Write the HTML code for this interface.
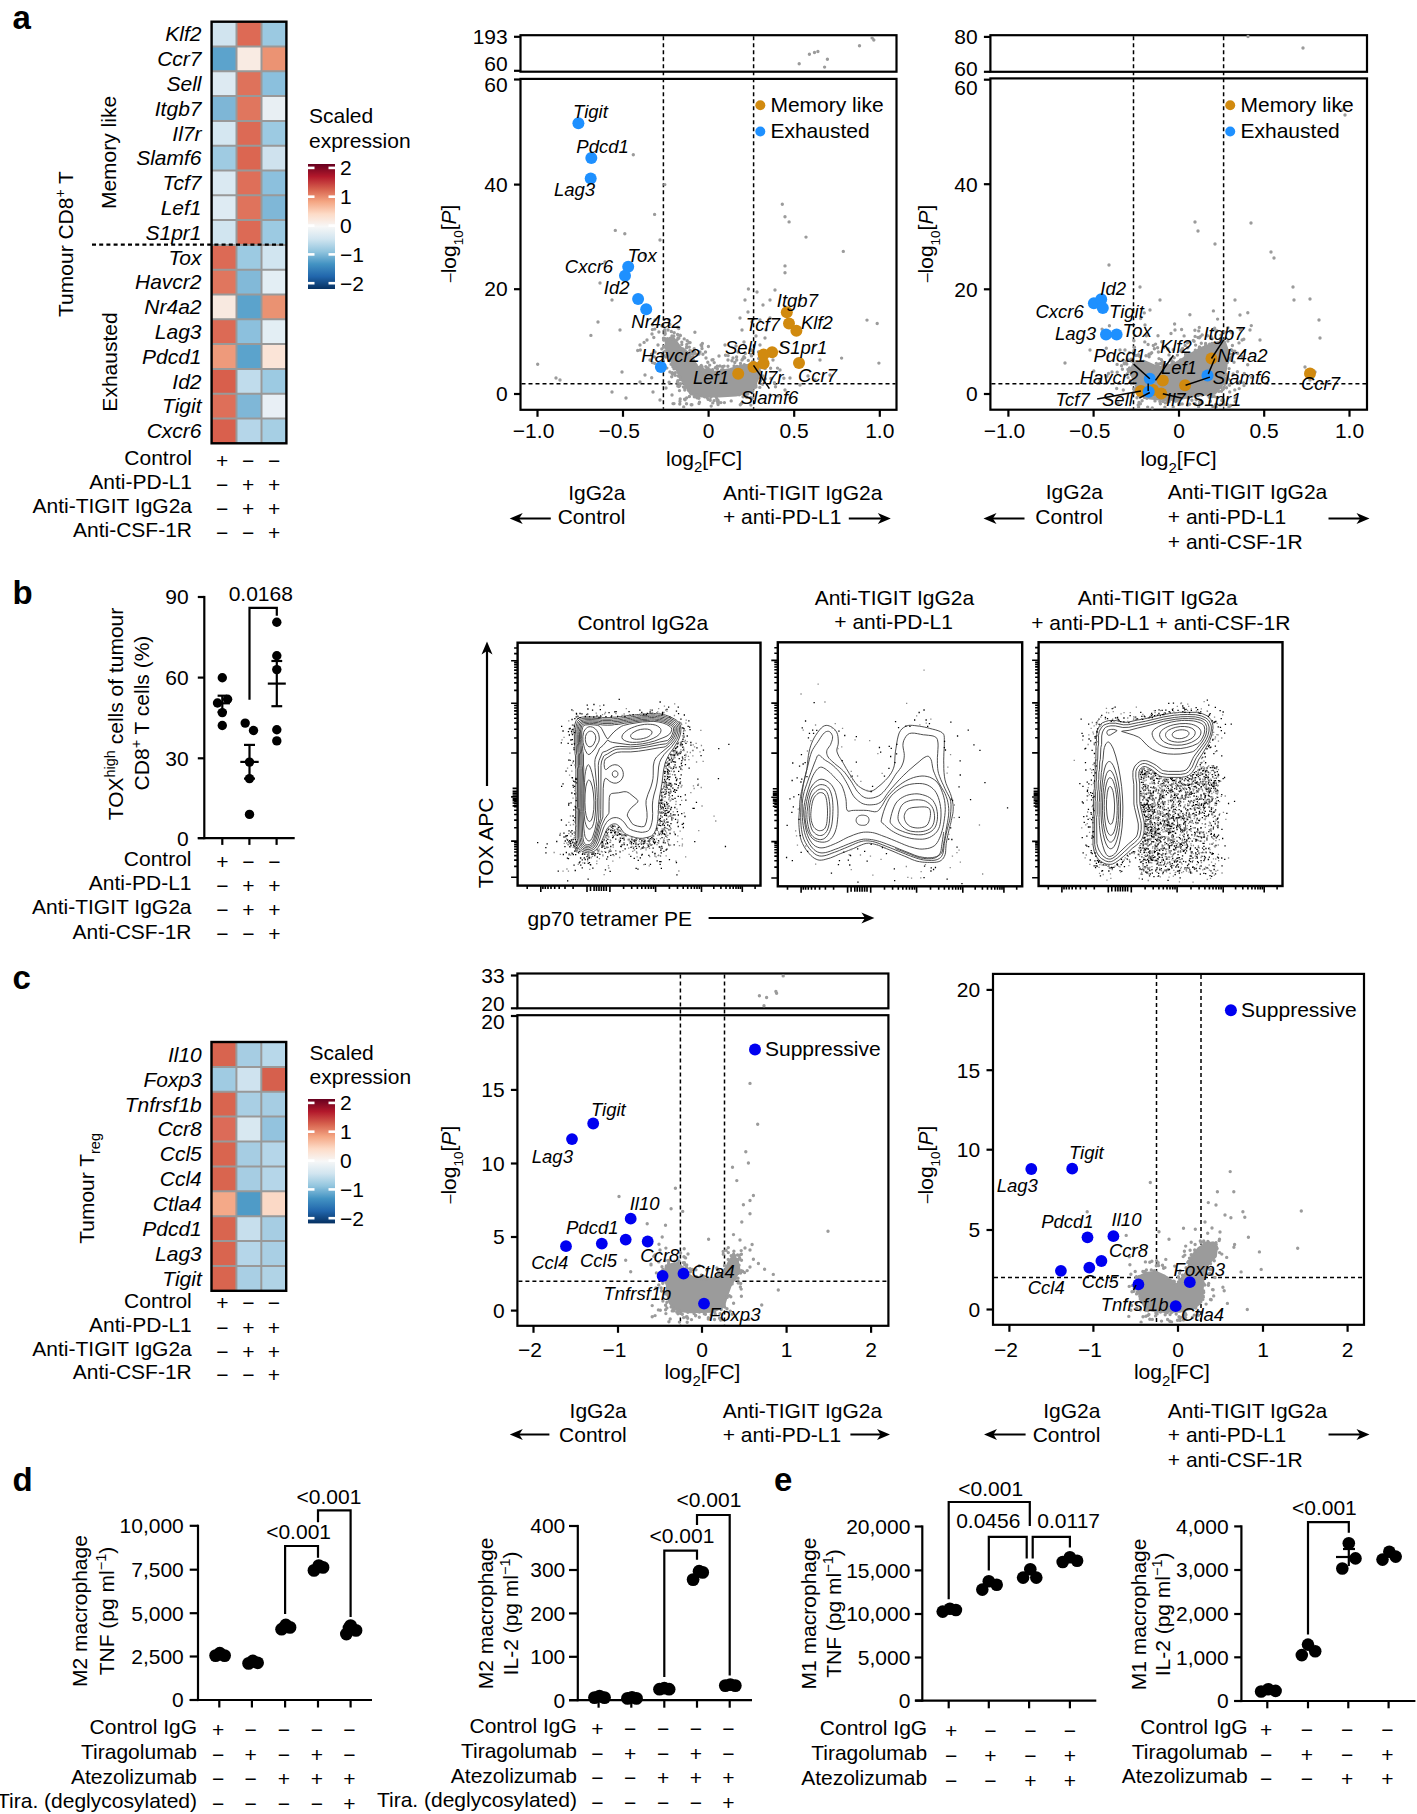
<!DOCTYPE html>
<html><head><meta charset="utf-8"><style>
html,body{margin:0;padding:0;background:#fff;}
svg{display:block;}
svg{font-family:"Liberation Sans", sans-serif;font-size:21px;}
</style></head><body>
<svg width="1417" height="1814" viewBox="0 0 1417 1814">
<rect width="1417" height="1814" fill="#fff"/>
<text x="12.5" y="28.5" font-size="33" font-weight="bold">a</text>
<text x="12.5" y="604.0" font-size="33" font-weight="bold">b</text>
<text x="12.5" y="989.0" font-size="33" font-weight="bold">c</text>
<text x="12.5" y="1491.0" font-size="33" font-weight="bold">d</text>
<text x="774.0" y="1491.0" font-size="33" font-weight="bold">e</text>
<rect x="211.6" y="21.7" width="24.9" height="24.8" fill="#d1e4ef"/>
<rect x="236.5" y="21.7" width="24.9" height="24.8" fill="#dd6a55"/>
<rect x="261.5" y="21.7" width="24.9" height="24.8" fill="#9bc9e1"/>
<text x="201.5" y="41.4" text-anchor="end" font-style="italic">Klf2</text>
<rect x="211.6" y="46.5" width="24.9" height="24.8" fill="#5ca3cc"/>
<rect x="236.5" y="46.5" width="24.9" height="24.8" fill="#f9ebe3"/>
<rect x="261.5" y="46.5" width="24.9" height="24.8" fill="#eb9373"/>
<text x="201.5" y="66.2" text-anchor="end" font-style="italic">Ccr7</text>
<rect x="211.6" y="71.3" width="24.9" height="24.8" fill="#ddeaf2"/>
<rect x="236.5" y="71.3" width="24.9" height="24.8" fill="#de725b"/>
<rect x="261.5" y="71.3" width="24.9" height="24.8" fill="#8bc0dd"/>
<text x="201.5" y="91.0" text-anchor="end" font-style="italic">Sell</text>
<rect x="211.6" y="96.1" width="24.9" height="24.8" fill="#7eb6d6"/>
<rect x="236.5" y="96.1" width="24.9" height="24.8" fill="#e0765e"/>
<rect x="261.5" y="96.1" width="24.9" height="24.8" fill="#e8eff3"/>
<text x="201.5" y="115.8" text-anchor="end" font-style="italic">Itgb7</text>
<rect x="211.6" y="120.9" width="24.9" height="24.8" fill="#d5e7f1"/>
<rect x="236.5" y="120.9" width="24.9" height="24.8" fill="#dc6a55"/>
<rect x="261.5" y="120.9" width="24.9" height="24.8" fill="#9ccae2"/>
<text x="201.5" y="140.6" text-anchor="end" font-style="italic">Il7r</text>
<rect x="211.6" y="145.7" width="24.9" height="24.8" fill="#9fcbe2"/>
<rect x="236.5" y="145.7" width="24.9" height="24.8" fill="#db6651"/>
<rect x="261.5" y="145.7" width="24.9" height="24.8" fill="#cfe2ee"/>
<text x="201.5" y="165.4" text-anchor="end" font-style="italic">Slamf6</text>
<rect x="211.6" y="170.5" width="24.9" height="24.8" fill="#dae9f2"/>
<rect x="236.5" y="170.5" width="24.9" height="24.8" fill="#de6f59"/>
<rect x="261.5" y="170.5" width="24.9" height="24.8" fill="#8cc0dd"/>
<text x="201.5" y="190.2" text-anchor="end" font-style="italic">Tcf7</text>
<rect x="211.6" y="195.3" width="24.9" height="24.8" fill="#deebf3"/>
<rect x="236.5" y="195.3" width="24.9" height="24.8" fill="#df735c"/>
<rect x="261.5" y="195.3" width="24.9" height="24.8" fill="#7fb7d7"/>
<text x="201.5" y="215.0" text-anchor="end" font-style="italic">Lef1</text>
<rect x="211.6" y="220.1" width="24.9" height="24.8" fill="#d1e5f0"/>
<rect x="236.5" y="220.1" width="24.9" height="24.8" fill="#dc6a55"/>
<rect x="261.5" y="220.1" width="24.9" height="24.8" fill="#9ccae2"/>
<text x="201.5" y="239.8" text-anchor="end" font-style="italic">S1pr1</text>
<rect x="211.6" y="244.9" width="24.9" height="24.8" fill="#dc6a55"/>
<rect x="236.5" y="244.9" width="24.9" height="24.8" fill="#9ccae2"/>
<rect x="261.5" y="244.9" width="24.9" height="24.8" fill="#d1e5f0"/>
<text x="201.5" y="264.6" text-anchor="end" font-style="italic">Tox</text>
<rect x="211.6" y="269.7" width="24.9" height="24.8" fill="#e0765e"/>
<rect x="236.5" y="269.7" width="24.9" height="24.8" fill="#82b9d8"/>
<rect x="261.5" y="269.7" width="24.9" height="24.8" fill="#e3eef4"/>
<text x="201.5" y="289.4" text-anchor="end" font-style="italic">Havcr2</text>
<rect x="211.6" y="294.5" width="24.9" height="24.8" fill="#f8e9e0"/>
<rect x="236.5" y="294.5" width="24.9" height="24.8" fill="#5ba3cc"/>
<rect x="261.5" y="294.5" width="24.9" height="24.8" fill="#ea9272"/>
<text x="201.5" y="314.2" text-anchor="end" font-style="italic">Nr4a2</text>
<rect x="211.6" y="319.3" width="24.9" height="24.8" fill="#dc6a55"/>
<rect x="236.5" y="319.3" width="24.9" height="24.8" fill="#8cc0dd"/>
<rect x="261.5" y="319.3" width="24.9" height="24.8" fill="#e3eef4"/>
<text x="201.5" y="339.0" text-anchor="end" font-style="italic">Lag3</text>
<rect x="211.6" y="344.1" width="24.9" height="24.8" fill="#ee9a7b"/>
<rect x="236.5" y="344.1" width="24.9" height="24.8" fill="#5ba3cc"/>
<rect x="261.5" y="344.1" width="24.9" height="24.8" fill="#fbe4d7"/>
<text x="201.5" y="363.8" text-anchor="end" font-style="italic">Pdcd1</text>
<rect x="211.6" y="368.9" width="24.9" height="24.8" fill="#d85f4c"/>
<rect x="236.5" y="368.9" width="24.9" height="24.8" fill="#c0dcec"/>
<rect x="261.5" y="368.9" width="24.9" height="24.8" fill="#9ccae2"/>
<text x="201.5" y="388.6" text-anchor="end" font-style="italic">Id2</text>
<rect x="211.6" y="393.7" width="24.9" height="24.8" fill="#de6f59"/>
<rect x="236.5" y="393.7" width="24.9" height="24.8" fill="#7fb7d7"/>
<rect x="261.5" y="393.7" width="24.9" height="24.8" fill="#e8eff5"/>
<text x="201.5" y="413.4" text-anchor="end" font-style="italic">Tigit</text>
<rect x="211.6" y="418.5" width="24.9" height="24.8" fill="#d9604d"/>
<rect x="236.5" y="418.5" width="24.9" height="24.8" fill="#b5d6e9"/>
<rect x="261.5" y="418.5" width="24.9" height="24.8" fill="#a6cfe4"/>
<text x="201.5" y="438.2" text-anchor="end" font-style="italic">Cxcr6</text>
<line x1="236.5" y1="21.7" x2="236.5" y2="443.3" stroke="#999999" stroke-width="2.0"/>
<line x1="261.5" y1="21.7" x2="261.5" y2="443.3" stroke="#999999" stroke-width="2.0"/>
<line x1="211.6" y1="46.5" x2="286.4" y2="46.5" stroke="#999999" stroke-width="2.0"/>
<line x1="211.6" y1="71.3" x2="286.4" y2="71.3" stroke="#999999" stroke-width="2.0"/>
<line x1="211.6" y1="96.1" x2="286.4" y2="96.1" stroke="#999999" stroke-width="2.0"/>
<line x1="211.6" y1="120.9" x2="286.4" y2="120.9" stroke="#999999" stroke-width="2.0"/>
<line x1="211.6" y1="145.7" x2="286.4" y2="145.7" stroke="#999999" stroke-width="2.0"/>
<line x1="211.6" y1="170.5" x2="286.4" y2="170.5" stroke="#999999" stroke-width="2.0"/>
<line x1="211.6" y1="195.3" x2="286.4" y2="195.3" stroke="#999999" stroke-width="2.0"/>
<line x1="211.6" y1="220.1" x2="286.4" y2="220.1" stroke="#999999" stroke-width="2.0"/>
<line x1="211.6" y1="244.9" x2="286.4" y2="244.9" stroke="#999999" stroke-width="2.0"/>
<line x1="211.6" y1="269.7" x2="286.4" y2="269.7" stroke="#999999" stroke-width="2.0"/>
<line x1="211.6" y1="294.5" x2="286.4" y2="294.5" stroke="#999999" stroke-width="2.0"/>
<line x1="211.6" y1="319.3" x2="286.4" y2="319.3" stroke="#999999" stroke-width="2.0"/>
<line x1="211.6" y1="344.1" x2="286.4" y2="344.1" stroke="#999999" stroke-width="2.0"/>
<line x1="211.6" y1="368.9" x2="286.4" y2="368.9" stroke="#999999" stroke-width="2.0"/>
<line x1="211.6" y1="393.7" x2="286.4" y2="393.7" stroke="#999999" stroke-width="2.0"/>
<line x1="211.6" y1="418.5" x2="286.4" y2="418.5" stroke="#999999" stroke-width="2.0"/>
<rect x="211.6" y="21.7" width="74.8" height="421.6" fill="none" stroke="#000" stroke-width="2.4"/>
<line x1="92.0" y1="244.6" x2="286.0" y2="244.6" stroke="#000" stroke-width="2.2" stroke-dasharray="4,3.2"/>
<defs><linearGradient id="g0" x1="0" y1="0" x2="0" y2="1"><stop offset="0.00" stop-color="#67001f"/><stop offset="0.10" stop-color="#b2182b"/><stop offset="0.20" stop-color="#d6604d"/><stop offset="0.30" stop-color="#f4a582"/><stop offset="0.40" stop-color="#fddbc7"/><stop offset="0.50" stop-color="#f7f7f7"/><stop offset="0.60" stop-color="#d1e5f0"/><stop offset="0.70" stop-color="#92c5de"/><stop offset="0.80" stop-color="#4393c3"/><stop offset="0.90" stop-color="#2166ac"/><stop offset="1.00" stop-color="#053061"/></linearGradient></defs>
<rect x="308" y="164" width="27" height="125" fill="url(#g0)"/>
<line x1="308.0" y1="167.9" x2="314.5" y2="167.9" stroke="#fff" stroke-width="2.6"/>
<line x1="328.5" y1="167.9" x2="335.0" y2="167.9" stroke="#fff" stroke-width="2.6"/>
<text x="340.0" y="175.3">2</text>
<line x1="308.0" y1="196.7" x2="314.5" y2="196.7" stroke="#fff" stroke-width="2.6"/>
<line x1="328.5" y1="196.7" x2="335.0" y2="196.7" stroke="#fff" stroke-width="2.6"/>
<text x="340.0" y="204.1">1</text>
<line x1="308.0" y1="225.6" x2="314.5" y2="225.6" stroke="#fff" stroke-width="2.6"/>
<line x1="328.5" y1="225.6" x2="335.0" y2="225.6" stroke="#fff" stroke-width="2.6"/>
<text x="340.0" y="233.0">0</text>
<line x1="308.0" y1="254.4" x2="314.5" y2="254.4" stroke="#fff" stroke-width="2.6"/>
<line x1="328.5" y1="254.4" x2="335.0" y2="254.4" stroke="#fff" stroke-width="2.6"/>
<text x="340.0" y="261.8">−1</text>
<line x1="308.0" y1="283.2" x2="314.5" y2="283.2" stroke="#fff" stroke-width="2.6"/>
<line x1="328.5" y1="283.2" x2="335.0" y2="283.2" stroke="#fff" stroke-width="2.6"/>
<text x="340.0" y="290.6">−2</text>
<text x="309.0" y="122.7">Scaled</text>
<text x="309.0" y="147.6">expression</text>
<text x="115.7" y="152.5" text-anchor="middle" transform="rotate(-90 115.7 152.5)">Memory like</text>
<text x="116.6" y="362.0" text-anchor="middle" transform="rotate(-90 116.6 362.0)">Exhausted</text>
<text x="73.0" y="244.0" text-anchor="middle" transform="rotate(-90 73.0 244.0)">Tumour CD8<tspan dy="-8" font-size="14">+</tspan><tspan dy="8"> T</tspan></text>
<text x="192.0" y="464.8" text-anchor="end">Control</text>
<text x="222.2" y="467.6" text-anchor="middle">+</text>
<text x="248.1" y="467.6" text-anchor="middle">−</text>
<text x="274.2" y="467.6" text-anchor="middle">−</text>
<text x="192.0" y="488.8" text-anchor="end">Anti-PD-L1</text>
<text x="222.2" y="491.6" text-anchor="middle">−</text>
<text x="248.1" y="491.6" text-anchor="middle">+</text>
<text x="274.2" y="491.6" text-anchor="middle">+</text>
<text x="192.0" y="512.8" text-anchor="end">Anti-TIGIT IgG2a</text>
<text x="222.2" y="515.6" text-anchor="middle">−</text>
<text x="248.1" y="515.6" text-anchor="middle">+</text>
<text x="274.2" y="515.6" text-anchor="middle">+</text>
<text x="192.0" y="536.8" text-anchor="end">Anti-CSF-1R</text>
<text x="222.2" y="539.6" text-anchor="middle">−</text>
<text x="248.1" y="539.6" text-anchor="middle">−</text>
<text x="274.2" y="539.6" text-anchor="middle">+</text>
<rect x="520.5" y="78.9" width="376.0" height="330.9" fill="none" stroke="#000" stroke-width="2.2"/>
<rect x="520.5" y="35.2" width="376.0" height="36.5" fill="none" stroke="#000" stroke-width="2.2"/>
<line x1="514.0" y1="79.5" x2="520.5" y2="79.5" stroke="#000" stroke-width="2.2"/>
<text x="507.7" y="92.0" text-anchor="end">60</text>
<line x1="514.0" y1="184.6" x2="520.5" y2="184.6" stroke="#000" stroke-width="2.2"/>
<text x="507.7" y="191.5" text-anchor="end">40</text>
<line x1="514.0" y1="289.2" x2="520.5" y2="289.2" stroke="#000" stroke-width="2.2"/>
<text x="507.7" y="296.4" text-anchor="end">20</text>
<line x1="514.0" y1="394.0" x2="520.5" y2="394.0" stroke="#000" stroke-width="2.2"/>
<text x="507.7" y="401.2" text-anchor="end">0</text>
<line x1="514.0" y1="36.8" x2="520.5" y2="36.8" stroke="#000" stroke-width="2.2"/>
<text x="507.7" y="43.7" text-anchor="end">193</text>
<line x1="514.0" y1="70.8" x2="520.5" y2="70.8" stroke="#000" stroke-width="2.2"/>
<text x="507.7" y="71.4" text-anchor="end">60</text>
<line x1="537.5" y1="409.8" x2="537.5" y2="416.8" stroke="#000" stroke-width="2.2"/>
<text x="533.6" y="438.0" text-anchor="middle">−1.0</text>
<line x1="623.0" y1="409.8" x2="623.0" y2="416.8" stroke="#000" stroke-width="2.2"/>
<text x="619.2" y="438.0" text-anchor="middle">−0.5</text>
<line x1="708.6" y1="409.8" x2="708.6" y2="416.8" stroke="#000" stroke-width="2.2"/>
<text x="708.6" y="438.0" text-anchor="middle">0</text>
<line x1="794.2" y1="409.8" x2="794.2" y2="416.8" stroke="#000" stroke-width="2.2"/>
<text x="794.2" y="438.0" text-anchor="middle">0.5</text>
<line x1="879.8" y1="409.8" x2="879.8" y2="416.8" stroke="#000" stroke-width="2.2"/>
<text x="879.8" y="438.0" text-anchor="middle">1.0</text>
<line x1="663.4" y1="36.2" x2="663.4" y2="408.8" stroke="#000" stroke-width="1.5" stroke-dasharray="4,3"/>
<line x1="753.6" y1="36.2" x2="753.6" y2="408.8" stroke="#000" stroke-width="1.5" stroke-dasharray="4,3"/>
<line x1="521.5" y1="383.8" x2="895.5" y2="383.8" stroke="#000" stroke-width="1.5" stroke-dasharray="4,3"/>
<text x="455.9" y="243.4" text-anchor="middle" transform="rotate(-90 455.9 243.4)"><tspan font-size="16" dy="-0.8">–</tspan><tspan dy="0.8">log</tspan><tspan dy="7" font-size="13.5">10</tspan><tspan dy="-7">[<tspan font-style="italic">P</tspan>]</tspan></text>
<text x="704.0" y="465.8" text-anchor="middle">log<tspan dy="6.5" font-size="15">2</tspan><tspan dy="-6.5">[FC]</tspan></text>
<path d="M666.0,341.0 L673.9,338.7 L680.7,347.8 L687.4,352.3 L693.1,359.0 L696.5,365.8 L699.8,370.3 L707.8,372.6 L719.0,371.5 L730.3,369.2 L741.6,365.8 L752.9,364.7 L758.6,368.1 L758.6,377.1 L752.9,388.4 L747.3,392.9 L736.0,395.2 L719.0,396.3 L702.1,396.3 L690.8,394.0 L687.4,388.4 L682.9,381.6 L679.5,376.0 L676.1,368.1 L671.6,361.3 L668.2,354.5 L666.0,347.8 Z" fill="#9b9b9b" stroke="#9b9b9b" stroke-width="2.5" stroke-linejoin="round"/>
<path d="M672.3,372.7h0M679.8,404.0h0M684.0,350.0h0M745.3,353.4h0M651.7,377.8h0M724.4,402.6h0M699.0,396.6h0M664.4,340.1h0M685.1,399.7h0M734.8,362.5h0M737.0,366.5h0M745.3,395.7h0M751.5,355.9h0M662.1,356.2h0M783.9,378.3h0M707.3,397.9h0M664.7,329.6h0M709.9,399.7h0M706.7,370.6h0M673.0,403.6h0M702.0,348.5h0M678.7,328.5h0M719.9,366.0h0M706.8,372.0h0M761.7,379.1h0M640.3,350.0h0M736.7,360.0h0M666.8,354.8h0M697.2,354.5h0M669.6,360.7h0M731.9,360.7h0M708.9,372.1h0M662.3,355.1h0M666.8,368.1h0M675.3,372.7h0M701.1,345.0h0M681.8,344.6h0M717.0,399.1h0M677.6,334.5h0M686.8,344.4h0M750.9,405.1h0M674.2,332.7h0M683.5,386.9h0M710.2,400.3h0M678.8,386.6h0M703.9,370.1h0M711.6,370.2h0M752.6,398.1h0M770.9,378.4h0M716.3,397.2h0M717.4,401.6h0M680.0,401.3h0M709.0,369.8h0M710.9,397.1h0M715.4,367.8h0M762.9,376.0h0M663.3,360.9h0M652.5,324.8h0M677.8,386.1h0M751.5,349.9h0M684.6,399.3h0M678.0,337.9h0M697.6,396.4h0M694.9,332.3h0M746.6,397.2h0M702.7,368.9h0M758.9,377.4h0M707.8,368.4h0M651.5,354.1h0M713.1,359.6h0M677.4,382.2h0M708.0,368.0h0M747.8,393.9h0M664.9,334.4h0M652.4,329.6h0M669.9,371.9h0M717.2,366.2h0M670.4,338.1h0M637.7,350.5h0M664.6,338.5h0M684.8,388.8h0M722.6,366.7h0M677.0,339.9h0M755.2,387.3h0M673.8,336.3h0M684.2,338.9h0M691.2,404.8h0M694.4,353.9h0M751.4,350.6h0M764.7,359.8h0M669.1,382.2h0M697.0,397.8h0M674.0,403.6h0M740.5,363.5h0M760.3,353.2h0M677.7,327.3h0M669.6,338.7h0M702.9,354.3h0M689.1,342.5h0M696.1,364.9h0M701.3,365.5h0M661.8,348.9h0M736.6,357.0h0M654.8,329.1h0M748.3,360.4h0M679.5,390.6h0M680.7,383.6h0M714.1,400.6h0M774.4,382.8h0M701.7,345.9h0M699.1,354.0h0M653.8,337.5h0M750.8,397.7h0M758.8,364.8h0M721.6,369.9h0M680.1,335.3h0M686.5,403.8h0M708.1,368.9h0M680.3,379.6h0M717.4,368.8h0M708.2,399.4h0M699.3,367.2h0M743.9,356.8h0M652.4,362.6h0M680.4,335.5h0M672.9,366.7h0M758.7,358.5h0M694.3,396.7h0M684.7,388.0h0M752.7,390.7h0M718.1,400.4h0M690.9,351.0h0M717.9,403.6h0M680.1,377.5h0M675.1,375.3h0M696.4,395.2h0M671.2,339.0h0M669.0,320.0h0M658.9,332.0h0M699.5,402.3h0M694.2,348.7h0M694.1,353.3h0M707.8,362.3h0M677.6,382.1h0M671.3,331.5h0M762.6,384.2h0M758.2,367.6h0M760.4,381.1h0M709.7,365.1h0M712.8,402.9h0M667.4,338.8h0M664.9,351.2h0M702.0,366.7h0M700.1,367.5h0M673.9,365.2h0M671.1,364.2h0M678.8,338.2h0M664.3,347.0h0M691.8,353.0h0M709.4,369.8h0M761.5,351.6h0M686.6,347.7h0M759.7,371.3h0M777.5,368.1h0M728.1,355.6h0M725.5,355.2h0M671.8,373.0h0M705.3,369.9h0M700.8,369.7h0M672.3,373.9h0M731.2,400.9h0M758.3,363.4h0M723.0,369.8h0M711.2,406.1h0M693.0,357.2h0M765.2,378.8h0M699.4,367.5h0M681.8,342.1h0M665.0,331.9h0M686.6,397.9h0M670.7,360.2h0M705.5,352.0h0M744.7,357.7h0M654.8,363.4h0M781.9,344.9h0M694.9,352.5h0M675.3,368.5h0M644.1,342.4h0M689.3,347.1h0M705.6,396.4h0M712.6,369.7h0M727.9,366.2h0M752.4,361.6h0M669.8,324.4h0M770.6,368.2h0M667.0,351.9h0M677.9,382.4h0M765.2,368.5h0M665.8,357.1h0M775.5,386.7h0M759.1,370.1h0M751.1,354.5h0M714.2,362.6h0M739.2,394.7h0M704.6,396.7h0M690.7,353.4h0M702.4,343.4h0M758.2,363.3h0M683.7,406.9h0M759.8,387.4h0M708.4,346.5h0M663.5,338.3h0M690.1,342.6h0M742.9,358.8h0M682.9,349.0h0M749.7,364.7h0M758.5,352.0h0M718.2,401.4h0M678.2,376.1h0M724.1,366.1h0M705.8,366.6h0M718.1,404.5h0M741.7,403.3h0M654.4,356.9h0M693.4,354.2h0M740.3,404.8h0M720.9,402.6h0M684.8,390.1h0M754.6,363.3h0M663.5,356.2h0M689.9,350.5h0M756.0,386.9h0M698.9,398.2h0M759.3,382.9h0M687.2,340.7h0M689.4,396.5h0M702.8,371.0h0M691.9,404.7h0M760.0,368.1h0M686.7,346.8h0M665.2,333.7h0M699.0,403.6h0M674.0,368.8h0M679.8,385.8h0M680.2,398.9h0M677.8,380.7h0M744.3,364.7h0M707.1,370.0h0M752.1,392.7h0M670.5,338.8h0M663.9,346.5h0M755.9,385.4h0M743.7,396.4h0M665.2,367.8h0M688.5,390.3h0M672.7,338.1h0M743.1,396.7h0M671.7,376.8h0M751.6,398.5h0M734.1,366.0h0" stroke="#9b9b9b" stroke-width="3.4" stroke-linecap="round" fill="none"/>
<path d="M745.0,300.0h0M748.0,312.0h0M752.0,322.0h0M742.0,330.0h0M756.0,336.0h0M760.0,345.0h0M750.0,350.0h0M744.0,342.0h0M766.0,330.0h0M770.0,318.0h0M738.0,352.0h0M733.0,358.0h0M728.0,360.0h0M742.0,360.0h0M736.0,346.0h0M757.0,292.0h0M763.0,305.0h0M740.0,318.0h0M725.0,345.0h0M719.0,356.0h0M712.0,360.0h0M706.0,358.0h0M700.0,352.0h0M655.0,320.0h0M662.0,326.0h0M668.0,330.0h0M652.0,334.0h0M647.0,340.0h0M658.0,345.0h0M672.0,336.0h0M650.0,360.0h0M645.0,375.0h0M640.0,382.0h0M666.0,388.0h0M672.0,395.0h0M660.0,400.0h0M653.0,392.0h0M773.0,360.0h0M780.0,370.0h0M790.0,378.0h0M785.0,390.0h0M778.0,396.0h0M800.0,385.0h0M808.0,376.0h0" stroke="#9b9b9b" stroke-width="3.4" stroke-linecap="round" fill="none"/>
<path d="M633.3,154.8h0M664.8,184.6h0M654.6,214.4h0M615.3,230.4h0M624.8,233.7h0M537.7,364.2h0M590.9,335.4h0M782.3,204.3h0M785.0,216.8h0M789.1,221.9h0M806.0,237.1h0M843.3,251.4h0M785.0,265.9h0M785.0,272.7h0M867.0,320.1h0M877.2,323.5h0M878.9,363.1h0M841.6,358.1h0M748.4,289.0h0M660.0,240.0h0M645.0,255.0h0M605.0,262.0h0M600.0,283.0h0M612.0,300.0h0M598.0,322.0h0M620.0,330.0h0M640.0,345.0h0M655.0,352.0h0M622.0,372.0h0M626.0,398.0h0M612.0,392.0h0M560.0,380.0h0M556.0,378.0h0M775.0,290.0h0M770.0,300.0h0M800.0,300.0h0M760.0,320.0h0M765.0,338.0h0M815.0,345.0h0M820.0,360.0h0M830.0,375.0h0M815.0,380.0h0M770.0,395.0h0M790.0,398.0h0" stroke="#9b9b9b" stroke-width="3.4" stroke-linecap="round" fill="none"/>
<path d="M799.2,63.7h0M809.4,54.2h0M814.5,52.5h0M817.9,51.5h0M824.6,67.1h0M827.4,59.3h0M859.5,45.7h0M872.1,37.9h0M873.8,40.0h0" stroke="#9b9b9b" stroke-width="3.4" stroke-linecap="round" fill="none"/>
<circle cx="578.4" cy="123.3" r="6.0" fill="#1e90ff"/>
<circle cx="591.3" cy="158.0" r="6.0" fill="#1e90ff"/>
<circle cx="590.7" cy="178.4" r="6.0" fill="#1e90ff"/>
<circle cx="628.2" cy="266.8" r="6.0" fill="#1e90ff"/>
<circle cx="625.0" cy="275.7" r="6.0" fill="#1e90ff"/>
<circle cx="638.1" cy="299.0" r="6.0" fill="#1e90ff"/>
<circle cx="646.2" cy="309.2" r="6.0" fill="#1e90ff"/>
<circle cx="660.9" cy="367.0" r="6.0" fill="#1e90ff"/>
<circle cx="786.8" cy="312.2" r="6.0" fill="#d18a0f"/>
<circle cx="789.0" cy="323.5" r="6.0" fill="#d18a0f"/>
<circle cx="796.4" cy="330.8" r="6.0" fill="#d18a0f"/>
<circle cx="772.1" cy="352.3" r="6.0" fill="#d18a0f"/>
<circle cx="763.6" cy="354.5" r="6.0" fill="#d18a0f"/>
<circle cx="763.6" cy="363.6" r="6.0" fill="#d18a0f"/>
<circle cx="753.5" cy="367.0" r="6.0" fill="#d18a0f"/>
<circle cx="738.2" cy="373.7" r="6.0" fill="#d18a0f"/>
<circle cx="799.0" cy="363.0" r="6.0" fill="#d18a0f"/>
<line x1="753.5" y1="365.3" x2="769.4" y2="388.6" stroke="#000" stroke-width="1.5"/>
<text x="573.0" y="118.2" font-size="18.5" font-style="italic">Tigit</text>
<text x="576.3" y="153.0" font-size="18.5" font-style="italic">Pdcd1</text>
<text x="554.0" y="196.3" font-size="18.5" font-style="italic">Lag3</text>
<text x="564.8" y="272.7" font-size="18.5" font-style="italic">Cxcr6</text>
<text x="627.5" y="262.2" font-size="18.5" font-style="italic">Tox</text>
<text x="603.8" y="294.3" font-size="18.5" font-style="italic">Id2</text>
<text x="631.3" y="328.2" font-size="18.5" font-style="italic">Nr4a2</text>
<text x="641.3" y="362.0" font-size="18.5" font-style="italic">Havcr2</text>
<text x="776.8" y="307.0" font-size="18.5" font-style="italic">Itgb7</text>
<text x="745.7" y="330.8" font-size="18.5" font-style="italic">Tcf7</text>
<text x="801.0" y="329.3" font-size="18.5" font-style="italic">Klf2</text>
<text x="725.0" y="353.6" font-size="18.5" font-style="italic">Sell</text>
<text x="777.9" y="353.6" font-size="18.5" font-style="italic">S1pr1</text>
<text x="693.0" y="384.3" font-size="18.5" font-style="italic">Lef1</text>
<text x="757.7" y="384.3" font-size="18.5" font-style="italic">Il7r</text>
<text x="798.0" y="382.2" font-size="18.5" font-style="italic">Ccr7</text>
<text x="740.8" y="404.0" font-size="18.5" font-style="italic">Slamf6</text>
<circle cx="760.3" cy="105.3" r="5.0" fill="#d18a0f"/>
<text x="770.4" y="111.8">Memory like</text>
<circle cx="760.3" cy="131.5" r="5.0" fill="#1e90ff"/>
<text x="770.4" y="138.2">Exhausted</text>
<rect x="990.4" y="78.4" width="376.6" height="331.3" fill="none" stroke="#000" stroke-width="2.2"/>
<rect x="990.4" y="35.2" width="376.6" height="36.6" fill="none" stroke="#000" stroke-width="2.2"/>
<line x1="983.9" y1="79.7" x2="990.4" y2="79.7" stroke="#000" stroke-width="2.2"/>
<text x="977.6" y="94.9" text-anchor="end">60</text>
<line x1="983.9" y1="184.2" x2="990.4" y2="184.2" stroke="#000" stroke-width="2.2"/>
<text x="977.6" y="191.5" text-anchor="end">40</text>
<line x1="983.9" y1="289.3" x2="990.4" y2="289.3" stroke="#000" stroke-width="2.2"/>
<text x="977.6" y="296.5" text-anchor="end">20</text>
<line x1="983.9" y1="394.0" x2="990.4" y2="394.0" stroke="#000" stroke-width="2.2"/>
<text x="977.6" y="401.2" text-anchor="end">0</text>
<line x1="983.9" y1="36.9" x2="990.4" y2="36.9" stroke="#000" stroke-width="2.2"/>
<text x="977.6" y="43.7" text-anchor="end">80</text>
<line x1="983.9" y1="71.8" x2="990.4" y2="71.8" stroke="#000" stroke-width="2.2"/>
<text x="977.6" y="75.9" text-anchor="end">60</text>
<line x1="1008.4" y1="409.7" x2="1008.4" y2="416.7" stroke="#000" stroke-width="2.2"/>
<text x="1004.5" y="438.0" text-anchor="middle">−1.0</text>
<line x1="1093.6" y1="409.7" x2="1093.6" y2="416.7" stroke="#000" stroke-width="2.2"/>
<text x="1089.7" y="438.0" text-anchor="middle">−0.5</text>
<line x1="1179.0" y1="409.7" x2="1179.0" y2="416.7" stroke="#000" stroke-width="2.2"/>
<text x="1179.0" y="438.0" text-anchor="middle">0</text>
<line x1="1264.2" y1="409.7" x2="1264.2" y2="416.7" stroke="#000" stroke-width="2.2"/>
<text x="1264.2" y="438.0" text-anchor="middle">0.5</text>
<line x1="1349.5" y1="409.7" x2="1349.5" y2="416.7" stroke="#000" stroke-width="2.2"/>
<text x="1349.5" y="438.0" text-anchor="middle">1.0</text>
<line x1="1133.5" y1="36.2" x2="1133.5" y2="408.7" stroke="#000" stroke-width="1.5" stroke-dasharray="4,3"/>
<line x1="1223.6" y1="36.2" x2="1223.6" y2="408.7" stroke="#000" stroke-width="1.5" stroke-dasharray="4,3"/>
<line x1="991.4" y1="383.8" x2="1366.0" y2="383.8" stroke="#000" stroke-width="1.5" stroke-dasharray="4,3"/>
<text x="932.6" y="243.5" text-anchor="middle" transform="rotate(-90 932.6 243.5)"><tspan font-size="16" dy="-0.8">–</tspan><tspan dy="0.8">log</tspan><tspan dy="7" font-size="13.5">10</tspan><tspan dy="-7">[<tspan font-style="italic">P</tspan>]</tspan></text>
<text x="1178.5" y="466.2" text-anchor="middle">log<tspan dy="6.5" font-size="15">2</tspan><tspan dy="-6.5">[FC]</tspan></text>
<path d="M1133.6,364.1 L1143.4,360.9 L1158.0,367.4 L1174.2,364.1 L1190.4,354.4 L1201.8,347.9 L1214.8,343.0 L1224.5,341.4 L1227.8,351.2 L1226.1,367.4 L1222.9,383.6 L1214.8,393.4 L1198.5,395.0 L1182.3,398.2 L1166.1,399.9 L1149.8,398.2 L1138.5,390.1 L1133.6,380.4 L1130.4,370.6 Z" fill="#9b9b9b" stroke="#9b9b9b" stroke-width="2.5" stroke-linejoin="round"/>
<path d="M1187.6,342.8h0M1185.4,356.7h0M1170.8,359.0h0M1139.9,356.4h0M1227.8,350.4h0M1220.3,404.9h0M1199.5,348.5h0M1231.9,332.9h0M1198.6,406.8h0M1227.9,341.1h0M1251.8,377.4h0M1231.3,359.9h0M1218.1,390.3h0M1213.0,329.5h0M1150.7,353.7h0M1129.5,368.0h0M1214.3,396.5h0M1231.4,357.3h0M1182.6,348.4h0M1161.8,341.8h0M1240.3,329.7h0M1239.0,342.9h0M1221.8,400.5h0M1237.6,353.2h0M1212.1,338.8h0M1228.5,379.1h0M1153.3,345.5h0M1171.8,360.9h0M1152.3,407.9h0M1223.8,387.1h0M1187.3,354.8h0M1212.9,406.7h0M1220.6,340.3h0M1178.9,399.9h0M1193.3,340.4h0M1244.3,373.5h0M1139.1,395.4h0M1117.1,364.4h0M1251.3,325.6h0M1130.5,380.8h0M1187.6,405.0h0M1175.6,401.2h0M1229.9,358.6h0M1157.6,347.7h0M1124.3,363.8h0M1224.0,379.7h0M1220.5,387.2h0M1133.9,340.7h0M1242.1,340.0h0M1135.0,389.9h0M1243.6,382.9h0M1221.1,335.1h0M1106.9,376.2h0M1138.6,406.9h0M1215.6,404.7h0M1227.3,404.6h0M1227.4,362.4h0M1102.1,329.1h0M1160.9,363.4h0M1108.5,373.5h0M1173.4,362.2h0M1146.9,398.3h0M1161.4,359.7h0M1138.7,393.9h0M1126.8,364.1h0M1189.8,353.3h0M1224.9,384.4h0M1140.7,318.6h0M1194.9,330.3h0M1138.2,404.9h0M1147.4,398.0h0M1127.9,369.5h0M1134.0,350.4h0M1189.3,341.6h0M1131.2,359.2h0M1211.6,396.2h0M1108.1,356.6h0M1182.1,351.8h0M1226.5,387.7h0M1199.7,401.8h0M1194.1,341.3h0M1149.0,354.3h0M1123.3,390.0h0M1212.0,343.5h0M1134.5,347.3h0M1143.0,395.0h0M1116.7,388.5h0M1199.4,337.7h0M1205.6,345.3h0M1217.6,319.1h0M1165.7,365.1h0M1177.4,355.1h0M1156.7,365.7h0M1181.5,349.9h0M1223.0,340.1h0M1122.4,369.2h0M1241.7,356.5h0M1140.4,403.7h0M1187.8,347.7h0M1237.4,371.7h0M1211.0,336.6h0M1180.9,351.0h0M1137.0,397.8h0M1222.7,399.4h0M1221.5,391.3h0M1230.2,359.9h0M1134.8,335.6h0M1155.0,400.9h0M1137.9,355.3h0M1158.0,365.6h0M1130.2,369.3h0M1133.9,389.0h0M1128.1,377.6h0M1171.0,333.5h0M1205.6,343.4h0M1167.3,402.0h0M1160.4,403.8h0M1173.2,406.9h0M1233.2,373.9h0M1234.0,362.3h0M1121.5,365.8h0M1216.3,331.6h0M1185.6,354.2h0M1163.1,401.5h0M1222.6,389.6h0M1196.1,399.8h0M1195.3,350.2h0M1198.1,395.6h0M1226.1,381.1h0M1174.2,357.8h0M1182.5,351.4h0M1216.9,330.7h0M1199.3,327.4h0M1118.0,403.3h0M1202.4,402.8h0M1225.5,378.7h0M1173.4,400.2h0M1235.1,397.9h0M1165.7,364.5h0M1247.8,312.7h0M1229.2,384.9h0M1228.0,327.6h0M1136.0,361.7h0M1230.6,405.4h0M1202.2,334.9h0M1172.0,363.3h0M1180.1,404.3h0M1143.2,395.5h0M1165.5,402.9h0M1148.1,344.5h0M1164.9,407.2h0M1128.6,371.6h0M1224.3,331.9h0M1129.4,352.8h0M1209.3,397.2h0M1234.8,389.9h0M1235.2,401.6h0M1136.5,387.6h0M1093.8,371.0h0M1189.6,404.3h0M1125.0,350.0h0M1212.2,396.6h0M1232.4,345.5h0M1131.3,383.8h0M1238.6,382.9h0M1229.5,385.2h0M1220.7,338.4h0M1223.5,404.8h0M1138.5,354.7h0M1169.0,354.9h0M1158.4,352.0h0M1200.7,400.5h0M1169.1,401.6h0M1131.4,361.1h0M1201.3,343.3h0M1151.7,352.8h0M1195.0,403.6h0M1142.1,400.7h0M1159.1,364.0h0M1214.7,328.2h0M1135.9,355.5h0M1133.2,393.3h0M1162.4,361.8h0M1210.4,401.2h0M1188.2,397.9h0M1227.4,377.0h0M1173.2,362.0h0M1217.0,397.5h0M1218.8,391.4h0M1131.2,374.6h0M1200.3,336.6h0M1178.8,403.7h0M1146.4,335.8h0M1199.6,403.6h0M1123.2,360.2h0M1133.9,363.5h0M1244.0,385.5h0M1109.4,325.8h0M1198.7,330.9h0M1229.7,391.9h0M1231.2,349.7h0M1195.6,345.1h0M1226.2,382.7h0M1180.5,359.9h0M1144.4,397.4h0M1199.5,347.0h0M1144.3,312.9h0M1158.0,335.8h0M1144.8,341.9h0M1154.4,348.7h0M1159.0,358.6h0M1247.7,364.7h0M1198.1,337.5h0M1170.3,399.6h0M1127.2,374.0h0M1149.1,356.7h0M1230.4,331.2h0M1191.9,400.2h0M1106.3,348.3h0M1184.1,335.9h0M1177.6,400.5h0M1207.5,335.7h0M1209.6,344.2h0M1181.6,329.5h0M1201.8,395.1h0M1229.0,407.3h0M1216.2,406.9h0M1124.2,363.5h0M1162.9,364.9h0M1139.0,402.5h0M1189.9,314.7h0M1170.2,360.0h0M1228.0,357.7h0M1243.8,339.2h0M1168.0,349.0h0M1174.6,324.0h0M1229.3,353.6h0M1159.9,401.5h0M1185.1,345.4h0M1240.3,381.8h0M1146.0,355.7h0M1156.3,363.4h0M1195.1,336.4h0M1199.3,347.9h0M1117.2,372.2h0M1234.8,351.1h0M1182.2,403.9h0M1173.2,349.7h0M1226.0,374.2h0M1213.4,310.9h0M1163.6,347.5h0M1214.5,343.1h0M1128.0,360.0h0M1147.7,407.1h0M1155.6,344.1h0M1229.1,368.6h0M1126.4,361.3h0M1232.1,350.5h0M1231.9,354.5h0M1239.2,388.6h0" stroke="#9b9b9b" stroke-width="3.4" stroke-linecap="round" fill="none"/>
<path d="M1109.0,265.0h0M1140.0,287.0h0M1195.0,222.0h0M1198.0,231.0h0M1215.0,244.0h0M1251.0,223.0h0M1271.0,252.0h0M1274.0,258.0h0M1293.0,287.0h0M1294.0,300.0h0M1310.0,299.0h0M1319.0,320.0h0M1320.0,338.0h0M1315.0,372.0h0M1305.0,367.0h0M1065.0,363.0h0M1090.0,350.0h0M1240.0,315.0h0M1250.0,330.0h0M1260.0,340.0h0M1235.0,300.0h0M1150.0,310.0h0M1160.0,300.0h0M1175.0,330.0h0M1145.0,325.0h0M1120.0,350.0h0M1112.0,372.0h0M1100.0,380.0h0M1310.0,380.0h0M1345.0,115.0h0M1342.0,110.0h0" stroke="#9b9b9b" stroke-width="3.4" stroke-linecap="round" fill="none"/>
<path d="M1248.0,36.5h0M1303.0,48.0h0" stroke="#9b9b9b" stroke-width="3.4" stroke-linecap="round" fill="none"/>
<circle cx="1211.5" cy="358.5" r="6.0" fill="#d18a0f"/>
<circle cx="1162.8" cy="380.4" r="6.0" fill="#d18a0f"/>
<circle cx="1185.1" cy="385.2" r="6.0" fill="#d18a0f"/>
<circle cx="1140.9" cy="390.9" r="6.0" fill="#d18a0f"/>
<circle cx="1161.2" cy="393.4" r="6.0" fill="#d18a0f"/>
<circle cx="1153.1" cy="390.1" r="6.0" fill="#d18a0f"/>
<circle cx="1310.0" cy="373.5" r="6.0" fill="#d18a0f"/>
<circle cx="1093.9" cy="303.3" r="6.0" fill="#1e90ff"/>
<circle cx="1101.2" cy="299.2" r="6.0" fill="#1e90ff"/>
<circle cx="1102.8" cy="308.1" r="6.0" fill="#1e90ff"/>
<circle cx="1106.0" cy="334.6" r="6.0" fill="#1e90ff"/>
<circle cx="1116.6" cy="334.6" r="6.0" fill="#1e90ff"/>
<circle cx="1149.8" cy="378.7" r="6.0" fill="#1e90ff"/>
<circle cx="1148.7" cy="391.7" r="6.0" fill="#1e90ff"/>
<circle cx="1207.5" cy="375.5" r="6.0" fill="#1e90ff"/>
<line x1="1133.6" y1="364.1" x2="1149.8" y2="378.7" stroke="#000" stroke-width="1.5"/>
<line x1="1173.4" y1="355.2" x2="1155.5" y2="380.4" stroke="#000" stroke-width="1.5"/>
<line x1="1097.1" y1="399.0" x2="1140.9" y2="390.9" stroke="#000" stroke-width="1.5"/>
<line x1="1139.3" y1="398.2" x2="1149.8" y2="392.5" stroke="#000" stroke-width="1.5"/>
<line x1="1162.8" y1="393.7" x2="1182.3" y2="398.2" stroke="#000" stroke-width="1.5"/>
<line x1="1209.9" y1="377.1" x2="1185.6" y2="385.2" stroke="#000" stroke-width="1.5"/>
<line x1="1223.7" y1="339.8" x2="1211.5" y2="358.5" stroke="#000" stroke-width="1.5"/>
<line x1="1214.8" y1="358.5" x2="1208.3" y2="373.9" stroke="#000" stroke-width="1.5"/>
<line x1="1148.2" y1="383.6" x2="1148.2" y2="391.0" stroke="#000" stroke-width="1.5"/>
<text x="1100.3" y="295.2" font-size="18.5" font-style="italic">Id2</text>
<text x="1035.4" y="317.9" font-size="18.5" font-style="italic">Cxcr6</text>
<text x="1109.0" y="317.9" font-size="18.5" font-style="italic">Tigit</text>
<text x="1054.9" y="339.8" font-size="18.5" font-style="italic">Lag3</text>
<text x="1122.6" y="337.4" font-size="18.5" font-style="italic">Tox</text>
<text x="1203.4" y="340.1" font-size="18.5" font-style="italic">Itgb7</text>
<text x="1159.9" y="352.8" font-size="18.5" font-style="italic">Klf2</text>
<text x="1093.4" y="361.7" font-size="18.5" font-style="italic">Pdcd1</text>
<text x="1217.2" y="362.2" font-size="18.5" font-style="italic">Nr4a2</text>
<text x="1160.9" y="373.9" font-size="18.5" font-style="italic">Lef1</text>
<text x="1079.7" y="383.6" font-size="18.5" font-style="italic">Havcr2</text>
<text x="1212.8" y="383.6" font-size="18.5" font-style="italic">Slamf6</text>
<text x="1055.4" y="405.5" font-size="18.5" font-style="italic">Tcf7</text>
<text x="1102.0" y="405.5" font-size="18.5" font-style="italic">Sell</text>
<text x="1166.1" y="405.5" font-size="18.5" font-style="italic">Il7r</text>
<text x="1192.0" y="405.5" font-size="18.5" font-style="italic">S1pr1</text>
<text x="1301.0" y="390.0" font-size="18.5" font-style="italic">Ccr7</text>
<circle cx="1230.2" cy="105.3" r="5.0" fill="#d18a0f"/>
<text x="1240.5" y="111.8">Memory like</text>
<circle cx="1230.2" cy="131.5" r="5.0" fill="#1e90ff"/>
<text x="1240.5" y="138.2">Exhausted</text>
<text x="625.4" y="499.7" text-anchor="end">IgG2a</text>
<text x="625.4" y="524.3" text-anchor="end">Control</text>
<line x1="550.8" y1="518.5" x2="517.5" y2="518.5" stroke="#000" stroke-width="2.2"/>
<path d="M509.7,518.5 L522.7,513.0 L519.1,518.5 L522.7,524.0 Z" fill="#000"/>
<text x="722.9" y="499.7">Anti-TIGIT IgG2a</text>
<text x="722.9" y="524.3">+ anti-PD-L1</text>
<line x1="848.8" y1="518.5" x2="883.0" y2="518.5" stroke="#000" stroke-width="2.2"/>
<path d="M890.8,518.5 L877.8,513.0 L881.4,518.5 L877.8,524.0 Z" fill="#000"/>
<text x="1103.0" y="499.4" text-anchor="end">IgG2a</text>
<text x="1103.0" y="524.0" text-anchor="end">Control</text>
<line x1="1024.5" y1="518.5" x2="991.3" y2="518.5" stroke="#000" stroke-width="2.2"/>
<path d="M983.5,518.5 L996.5,513.0 L992.9,518.5 L996.5,524.0 Z" fill="#000"/>
<text x="1167.8" y="499.4">Anti-TIGIT IgG2a</text>
<text x="1167.8" y="524.0">+ anti-PD-L1</text>
<text x="1167.8" y="548.5">+ anti-CSF-1R</text>
<line x1="1328.5" y1="518.5" x2="1361.7" y2="518.5" stroke="#000" stroke-width="2.2"/>
<path d="M1369.5,518.5 L1356.5,513.0 L1360.1,518.5 L1356.5,524.0 Z" fill="#000"/>
<line x1="204.3" y1="595.9" x2="204.3" y2="839.2" stroke="#000" stroke-width="2.2"/>
<line x1="197.8" y1="597.0" x2="204.3" y2="597.0" stroke="#000" stroke-width="2.2"/>
<text x="188.6" y="604.4" text-anchor="end">90</text>
<line x1="197.8" y1="677.6" x2="204.3" y2="677.6" stroke="#000" stroke-width="2.2"/>
<text x="188.6" y="685.0" text-anchor="end">60</text>
<line x1="197.8" y1="758.3" x2="204.3" y2="758.3" stroke="#000" stroke-width="2.2"/>
<text x="188.6" y="765.7" text-anchor="end">30</text>
<line x1="197.8" y1="838.1" x2="204.3" y2="838.1" stroke="#000" stroke-width="2.2"/>
<text x="188.6" y="845.5" text-anchor="end">0</text>
<line x1="197.8" y1="838.1" x2="294.7" y2="838.1" stroke="#000" stroke-width="2.2"/>
<line x1="222.3" y1="838.1" x2="222.3" y2="844.9" stroke="#000" stroke-width="2.2"/>
<line x1="249.4" y1="838.1" x2="249.4" y2="844.9" stroke="#000" stroke-width="2.2"/>
<line x1="276.6" y1="838.1" x2="276.6" y2="844.9" stroke="#000" stroke-width="2.2"/>
<circle cx="222.3" cy="677.8" r="4.7" fill="#000"/>
<circle cx="227.6" cy="699.3" r="4.7" fill="#000"/>
<circle cx="217.5" cy="703.0" r="4.7" fill="#000"/>
<circle cx="222.3" cy="712.6" r="4.7" fill="#000"/>
<circle cx="222.3" cy="725.5" r="4.7" fill="#000"/>
<circle cx="245.2" cy="723.1" r="4.7" fill="#000"/>
<circle cx="253.5" cy="730.5" r="4.7" fill="#000"/>
<circle cx="249.5" cy="762.1" r="4.7" fill="#000"/>
<circle cx="249.5" cy="778.6" r="4.7" fill="#000"/>
<circle cx="249.5" cy="814.4" r="4.7" fill="#000"/>
<circle cx="276.8" cy="622.3" r="4.7" fill="#000"/>
<circle cx="276.8" cy="655.7" r="4.7" fill="#000"/>
<circle cx="276.8" cy="669.6" r="4.7" fill="#000"/>
<circle cx="276.8" cy="729.8" r="4.7" fill="#000"/>
<circle cx="276.8" cy="740.9" r="4.7" fill="#000"/>
<line x1="214.7" y1="703.3" x2="229.9" y2="703.3" stroke="#000" stroke-width="2.2"/>
<line x1="222.3" y1="712.0" x2="222.3" y2="695.7" stroke="#000" stroke-width="2.2"/>
<line x1="217.6" y1="695.7" x2="227.0" y2="695.7" stroke="#000" stroke-width="2.2"/>
<line x1="217.6" y1="712.0" x2="227.0" y2="712.0" stroke="#000" stroke-width="2.2"/>
<line x1="240.3" y1="761.9" x2="258.7" y2="761.9" stroke="#000" stroke-width="2.2"/>
<line x1="249.5" y1="778.6" x2="249.5" y2="744.9" stroke="#000" stroke-width="2.2"/>
<line x1="244.0" y1="744.9" x2="255.0" y2="744.9" stroke="#000" stroke-width="2.2"/>
<line x1="244.0" y1="778.6" x2="255.0" y2="778.6" stroke="#000" stroke-width="2.2"/>
<line x1="267.8" y1="683.6" x2="285.8" y2="683.6" stroke="#000" stroke-width="2.2"/>
<line x1="276.8" y1="706.2" x2="276.8" y2="661.0" stroke="#000" stroke-width="2.2"/>
<line x1="271.4" y1="661.0" x2="282.2" y2="661.0" stroke="#000" stroke-width="2.2"/>
<line x1="271.4" y1="706.2" x2="282.2" y2="706.2" stroke="#000" stroke-width="2.2"/>
<path d="M249.5,699.7 L249.5,607.9 L276.8,607.9 L276.8,615.8" stroke="#000" stroke-width="2.2" fill="none" stroke-linejoin="miter"/>
<text x="260.8" y="600.5" text-anchor="middle">0.0168</text>
<text x="123.0" y="714.0" text-anchor="middle" transform="rotate(-90 123.0 714.0)">TOX<tspan dy="-8" font-size="14.5">high</tspan><tspan dy="8"> cells of tumour</tspan></text>
<text x="149.0" y="713.0" text-anchor="middle" transform="rotate(-90 149.0 713.0)">CD8<tspan dy="-8" font-size="14.5">+</tspan><tspan dy="8"> T cells (%)</tspan></text>
<text x="191.5" y="865.8" text-anchor="end">Control</text>
<text x="222.4" y="868.6" text-anchor="middle">+</text>
<text x="248.4" y="868.6" text-anchor="middle">−</text>
<text x="274.4" y="868.6" text-anchor="middle">−</text>
<text x="191.5" y="890.2" text-anchor="end">Anti-PD-L1</text>
<text x="222.4" y="893.0" text-anchor="middle">−</text>
<text x="248.4" y="893.0" text-anchor="middle">+</text>
<text x="274.4" y="893.0" text-anchor="middle">+</text>
<text x="191.5" y="914.4" text-anchor="end">Anti-TIGIT IgG2a</text>
<text x="222.4" y="917.2" text-anchor="middle">−</text>
<text x="248.4" y="917.2" text-anchor="middle">+</text>
<text x="274.4" y="917.2" text-anchor="middle">+</text>
<text x="191.5" y="938.6" text-anchor="end">Anti-CSF-1R</text>
<text x="222.4" y="941.4" text-anchor="middle">−</text>
<text x="248.4" y="941.4" text-anchor="middle">−</text>
<text x="274.4" y="941.4" text-anchor="middle">+</text>
<rect x="211.5" y="1042.0" width="24.9" height="24.9" fill="#d8644f"/>
<rect x="236.4" y="1042.0" width="24.9" height="24.9" fill="#a6cde3"/>
<rect x="261.3" y="1042.0" width="24.9" height="24.9" fill="#b8d8ea"/>
<text x="201.8" y="1061.7" text-anchor="end" font-style="italic">Il10</text>
<rect x="211.5" y="1066.9" width="24.9" height="24.9" fill="#a0cbe2"/>
<rect x="236.4" y="1066.9" width="24.9" height="24.9" fill="#cfe3ef"/>
<rect x="261.3" y="1066.9" width="24.9" height="24.9" fill="#d6604d"/>
<text x="201.8" y="1086.6" text-anchor="end" font-style="italic">Foxp3</text>
<rect x="211.5" y="1091.8" width="24.9" height="24.9" fill="#d9654f"/>
<rect x="236.4" y="1091.8" width="24.9" height="24.9" fill="#a9cfe4"/>
<rect x="261.3" y="1091.8" width="24.9" height="24.9" fill="#a6cde3"/>
<text x="201.8" y="1111.5" text-anchor="end" font-style="italic">Tnfrsf1b</text>
<rect x="211.5" y="1116.6" width="24.9" height="24.9" fill="#dc6b58"/>
<rect x="236.4" y="1116.6" width="24.9" height="24.9" fill="#d8e8f1"/>
<rect x="261.3" y="1116.6" width="24.9" height="24.9" fill="#93c3de"/>
<text x="201.8" y="1136.4" text-anchor="end" font-style="italic">Ccr8</text>
<rect x="211.5" y="1141.5" width="24.9" height="24.9" fill="#d9654f"/>
<rect x="236.4" y="1141.5" width="24.9" height="24.9" fill="#a6cde3"/>
<rect x="261.3" y="1141.5" width="24.9" height="24.9" fill="#b5d6e9"/>
<text x="201.8" y="1161.3" text-anchor="end" font-style="italic">Ccl5</text>
<rect x="211.5" y="1166.4" width="24.9" height="24.9" fill="#d9654f"/>
<rect x="236.4" y="1166.4" width="24.9" height="24.9" fill="#a6cde3"/>
<rect x="261.3" y="1166.4" width="24.9" height="24.9" fill="#b5d6e9"/>
<text x="201.8" y="1186.1" text-anchor="end" font-style="italic">Ccl4</text>
<rect x="211.5" y="1191.3" width="24.9" height="24.9" fill="#f4a988"/>
<rect x="236.4" y="1191.3" width="24.9" height="24.9" fill="#4f9bc7"/>
<rect x="261.3" y="1191.3" width="24.9" height="24.9" fill="#fbd9c6"/>
<text x="201.8" y="1211.0" text-anchor="end" font-style="italic">Ctla4</text>
<rect x="211.5" y="1216.2" width="24.9" height="24.9" fill="#d9654f"/>
<rect x="236.4" y="1216.2" width="24.9" height="24.9" fill="#c7dfed"/>
<rect x="261.3" y="1216.2" width="24.9" height="24.9" fill="#a6cde3"/>
<text x="201.8" y="1235.9" text-anchor="end" font-style="italic">Pdcd1</text>
<rect x="211.5" y="1241.0" width="24.9" height="24.9" fill="#d9654f"/>
<rect x="236.4" y="1241.0" width="24.9" height="24.9" fill="#b5d6e9"/>
<rect x="261.3" y="1241.0" width="24.9" height="24.9" fill="#a9cfe4"/>
<text x="201.8" y="1260.8" text-anchor="end" font-style="italic">Lag3</text>
<rect x="211.5" y="1265.9" width="24.9" height="24.9" fill="#d9654f"/>
<rect x="236.4" y="1265.9" width="24.9" height="24.9" fill="#a9cfe4"/>
<rect x="261.3" y="1265.9" width="24.9" height="24.9" fill="#b0d3e6"/>
<text x="201.8" y="1285.7" text-anchor="end" font-style="italic">Tigit</text>
<line x1="236.4" y1="1042.0" x2="236.4" y2="1290.8" stroke="#999999" stroke-width="2.0"/>
<line x1="261.3" y1="1042.0" x2="261.3" y2="1290.8" stroke="#999999" stroke-width="2.0"/>
<line x1="211.5" y1="1066.9" x2="286.2" y2="1066.9" stroke="#999999" stroke-width="2.0"/>
<line x1="211.5" y1="1091.8" x2="286.2" y2="1091.8" stroke="#999999" stroke-width="2.0"/>
<line x1="211.5" y1="1116.6" x2="286.2" y2="1116.6" stroke="#999999" stroke-width="2.0"/>
<line x1="211.5" y1="1141.5" x2="286.2" y2="1141.5" stroke="#999999" stroke-width="2.0"/>
<line x1="211.5" y1="1166.4" x2="286.2" y2="1166.4" stroke="#999999" stroke-width="2.0"/>
<line x1="211.5" y1="1191.3" x2="286.2" y2="1191.3" stroke="#999999" stroke-width="2.0"/>
<line x1="211.5" y1="1216.2" x2="286.2" y2="1216.2" stroke="#999999" stroke-width="2.0"/>
<line x1="211.5" y1="1241.0" x2="286.2" y2="1241.0" stroke="#999999" stroke-width="2.0"/>
<line x1="211.5" y1="1265.9" x2="286.2" y2="1265.9" stroke="#999999" stroke-width="2.0"/>
<rect x="211.5" y="1042.0" width="74.7" height="248.8" fill="none" stroke="#000" stroke-width="2.4"/>
<defs><linearGradient id="g1" x1="0" y1="0" x2="0" y2="1"><stop offset="0.00" stop-color="#67001f"/><stop offset="0.10" stop-color="#b2182b"/><stop offset="0.20" stop-color="#d6604d"/><stop offset="0.30" stop-color="#f4a582"/><stop offset="0.40" stop-color="#fddbc7"/><stop offset="0.50" stop-color="#f7f7f7"/><stop offset="0.60" stop-color="#d1e5f0"/><stop offset="0.70" stop-color="#92c5de"/><stop offset="0.80" stop-color="#4393c3"/><stop offset="0.90" stop-color="#2166ac"/><stop offset="1.00" stop-color="#053061"/></linearGradient></defs>
<rect x="308" y="1099" width="27" height="124.4" fill="url(#g1)"/>
<line x1="308.0" y1="1102.9" x2="314.5" y2="1102.9" stroke="#fff" stroke-width="2.6"/>
<line x1="328.5" y1="1102.9" x2="335.0" y2="1102.9" stroke="#fff" stroke-width="2.6"/>
<text x="340.0" y="1110.3">2</text>
<line x1="308.0" y1="1131.7" x2="314.5" y2="1131.7" stroke="#fff" stroke-width="2.6"/>
<line x1="328.5" y1="1131.7" x2="335.0" y2="1131.7" stroke="#fff" stroke-width="2.6"/>
<text x="340.0" y="1139.1">1</text>
<line x1="308.0" y1="1160.6" x2="314.5" y2="1160.6" stroke="#fff" stroke-width="2.6"/>
<line x1="328.5" y1="1160.6" x2="335.0" y2="1160.6" stroke="#fff" stroke-width="2.6"/>
<text x="340.0" y="1168.0">0</text>
<line x1="308.0" y1="1189.4" x2="314.5" y2="1189.4" stroke="#fff" stroke-width="2.6"/>
<line x1="328.5" y1="1189.4" x2="335.0" y2="1189.4" stroke="#fff" stroke-width="2.6"/>
<text x="340.0" y="1196.8">−1</text>
<line x1="308.0" y1="1218.2" x2="314.5" y2="1218.2" stroke="#fff" stroke-width="2.6"/>
<line x1="328.5" y1="1218.2" x2="335.0" y2="1218.2" stroke="#fff" stroke-width="2.6"/>
<text x="340.0" y="1225.6">−2</text>
<text x="309.6" y="1060.2">Scaled</text>
<text x="309.6" y="1084.4">expression</text>
<text x="94.0" y="1188.4" text-anchor="middle" transform="rotate(-90 94.0 1188.4)">Tumour T<tspan dy="6" font-size="14.5">reg</tspan></text>
<text x="191.8" y="1307.5" text-anchor="end">Control</text>
<text x="222.5" y="1310.3" text-anchor="middle">+</text>
<text x="248.3" y="1310.3" text-anchor="middle">−</text>
<text x="274.0" y="1310.3" text-anchor="middle">−</text>
<text x="191.8" y="1331.8" text-anchor="end">Anti-PD-L1</text>
<text x="222.5" y="1334.6" text-anchor="middle">−</text>
<text x="248.3" y="1334.6" text-anchor="middle">+</text>
<text x="274.0" y="1334.6" text-anchor="middle">+</text>
<text x="191.8" y="1356.0" text-anchor="end">Anti-TIGIT IgG2a</text>
<text x="222.5" y="1358.8" text-anchor="middle">−</text>
<text x="248.3" y="1358.8" text-anchor="middle">+</text>
<text x="274.0" y="1358.8" text-anchor="middle">+</text>
<text x="191.8" y="1378.8" text-anchor="end">Anti-CSF-1R</text>
<text x="222.5" y="1381.6" text-anchor="middle">−</text>
<text x="248.3" y="1381.6" text-anchor="middle">−</text>
<text x="274.0" y="1381.6" text-anchor="middle">+</text>
<rect x="517.4" y="1015.2" width="371.0" height="310.6" fill="none" stroke="#000" stroke-width="2.2"/>
<rect x="517.4" y="973.5" width="371.0" height="34.8" fill="none" stroke="#000" stroke-width="2.2"/>
<line x1="510.9" y1="1016.0" x2="517.4" y2="1016.0" stroke="#000" stroke-width="2.2"/>
<text x="504.6" y="1028.6" text-anchor="end">20</text>
<line x1="510.9" y1="1089.9" x2="517.4" y2="1089.9" stroke="#000" stroke-width="2.2"/>
<text x="504.6" y="1097.3" text-anchor="end">15</text>
<line x1="510.9" y1="1163.5" x2="517.4" y2="1163.5" stroke="#000" stroke-width="2.2"/>
<text x="504.6" y="1170.9" text-anchor="end">10</text>
<line x1="510.9" y1="1237.0" x2="517.4" y2="1237.0" stroke="#000" stroke-width="2.2"/>
<text x="504.6" y="1244.4" text-anchor="end">5</text>
<line x1="510.9" y1="1310.6" x2="517.4" y2="1310.6" stroke="#000" stroke-width="2.2"/>
<text x="504.6" y="1318.0" text-anchor="end">0</text>
<line x1="510.9" y1="975.5" x2="517.4" y2="975.5" stroke="#000" stroke-width="2.2"/>
<text x="504.6" y="982.7" text-anchor="end">33</text>
<line x1="510.9" y1="1008.3" x2="517.4" y2="1008.3" stroke="#000" stroke-width="2.2"/>
<text x="504.6" y="1010.6" text-anchor="end">20</text>
<line x1="533.5" y1="1325.8" x2="533.5" y2="1332.8" stroke="#000" stroke-width="2.2"/>
<text x="530.0" y="1356.5" text-anchor="middle">−2</text>
<line x1="618.0" y1="1325.8" x2="618.0" y2="1332.8" stroke="#000" stroke-width="2.2"/>
<text x="614.5" y="1356.5" text-anchor="middle">−1</text>
<line x1="702.0" y1="1325.8" x2="702.0" y2="1332.8" stroke="#000" stroke-width="2.2"/>
<text x="702.0" y="1356.5" text-anchor="middle">0</text>
<line x1="786.6" y1="1325.8" x2="786.6" y2="1332.8" stroke="#000" stroke-width="2.2"/>
<text x="786.6" y="1356.5" text-anchor="middle">1</text>
<line x1="871.1" y1="1325.8" x2="871.1" y2="1332.8" stroke="#000" stroke-width="2.2"/>
<text x="871.1" y="1356.5" text-anchor="middle">2</text>
<line x1="680.4" y1="974.5" x2="680.4" y2="1324.8" stroke="#000" stroke-width="1.5" stroke-dasharray="4,3"/>
<line x1="724.5" y1="974.5" x2="724.5" y2="1324.8" stroke="#000" stroke-width="1.5" stroke-dasharray="4,3"/>
<line x1="518.4" y1="1281.2" x2="887.4" y2="1281.2" stroke="#000" stroke-width="1.5" stroke-dasharray="4,3"/>
<text x="455.8" y="1164.6" text-anchor="middle" transform="rotate(-90 455.8 1164.6)"><tspan font-size="16" dy="-0.8">–</tspan><tspan dy="0.8">log</tspan><tspan dy="7" font-size="13.5">10</tspan><tspan dy="-7">[<tspan font-style="italic">P</tspan>]</tspan></text>
<text x="702.4" y="1379.0" text-anchor="middle">log<tspan dy="6.5" font-size="15">2</tspan><tspan dy="-6.5">[FC]</tspan></text>
<path d="M666.0,1265.8 L673.9,1263.6 L680.7,1265.8 L687.4,1273.7 L694.2,1278.2 L703.2,1279.4 L713.4,1278.2 L723.6,1273.7 L729.2,1261.3 L732.6,1256.8 L737.1,1259.0 L739.4,1270.3 L734.9,1278.2 L730.3,1286.1 L727.0,1295.2 L723.6,1306.5 L713.4,1311.5 L690.8,1312.1 L680.7,1310.9 L673.9,1308.7 L669.4,1302.0 L667.1,1292.9 L667.1,1283.9 L664.8,1274.9 Z" fill="#9b9b9b" stroke="#9b9b9b" stroke-width="2.5" stroke-linejoin="round"/>
<path d="M719.6,1318.2h0M739.6,1257.9h0M679.1,1261.0h0M666.9,1308.0h0M658.4,1309.9h0M726.1,1250.2h0M721.2,1309.5h0M750.0,1267.0h0M738.2,1283.0h0M673.9,1310.8h0M652.2,1316.7h0M732.6,1256.7h0M704.2,1276.4h0M719.5,1273.4h0M737.8,1273.6h0M724.5,1265.8h0M721.2,1307.7h0M734.2,1256.4h0M720.7,1320.1h0M715.2,1314.3h0M673.0,1309.4h0M733.6,1254.3h0M720.0,1313.7h0M663.5,1275.7h0M692.4,1269.4h0M728.2,1259.4h0M684.0,1268.7h0M753.4,1259.3h0M722.5,1319.5h0M708.4,1317.7h0M662.3,1275.8h0M742.7,1271.2h0M723.3,1254.2h0M730.8,1296.7h0M655.1,1315.6h0M666.8,1291.8h0M679.4,1322.1h0M686.7,1265.0h0M714.5,1319.5h0M661.7,1280.8h0M688.0,1254.0h0M691.5,1319.6h0M744.6,1272.6h0M664.6,1293.7h0M659.0,1244.3h0M701.6,1276.9h0M670.2,1318.9h0M741.4,1254.2h0M690.1,1268.8h0M686.1,1316.9h0M662.3,1271.0h0M665.2,1260.5h0M718.4,1274.2h0M665.6,1305.2h0M667.0,1283.7h0M695.6,1315.8h0M731.2,1255.8h0M665.9,1248.1h0M651.0,1264.9h0M708.3,1319.1h0M651.0,1264.1h0M684.0,1256.7h0M678.0,1313.8h0M664.4,1273.9h0M740.7,1283.4h0M728.3,1247.6h0M716.9,1268.0h0M683.3,1262.6h0M666.4,1293.6h0M663.0,1269.5h0M687.9,1312.3h0M739.4,1255.3h0M655.9,1288.0h0M734.3,1256.6h0M704.3,1313.7h0M694.1,1313.5h0M695.1,1277.2h0M677.9,1311.5h0M663.2,1274.6h0M687.0,1316.6h0M662.0,1266.7h0M665.9,1313.6h0M668.9,1260.6h0M683.6,1317.6h0M740.4,1286.9h0M727.1,1297.4h0M699.3,1317.2h0M666.9,1302.2h0M679.2,1310.6h0M741.2,1289.1h0M737.6,1255.0h0M741.2,1270.6h0M714.7,1312.3h0M695.9,1269.7h0M711.2,1314.7h0M733.9,1251.2h0M666.4,1294.1h0M686.6,1267.5h0M739.0,1265.2h0M735.0,1255.6h0M720.9,1274.6h0M696.3,1276.7h0M671.1,1306.9h0M740.6,1273.1h0M682.3,1314.3h0M665.6,1309.7h0M724.6,1307.0h0M668.3,1260.5h0M690.4,1271.8h0M735.0,1279.2h0M723.2,1251.5h0M732.3,1314.2h0M684.8,1264.9h0M660.3,1310.3h0M706.9,1270.1h0M661.5,1291.0h0M666.1,1282.3h0M676.9,1312.3h0M741.5,1260.2h0M737.6,1278.1h0M741.2,1250.6h0M662.9,1301.0h0M683.9,1269.3h0M729.4,1295.7h0M682.2,1267.4h0M668.6,1263.2h0M672.2,1310.9h0M741.4,1296.3h0M748.6,1319.4h0M662.2,1280.1h0M747.2,1270.6h0M727.0,1308.8h0M686.9,1268.2h0M684.4,1262.7h0M680.6,1253.0h0M685.6,1257.9h0M674.7,1261.2h0M681.1,1313.4h0M739.4,1258.5h0M730.3,1311.1h0M699.3,1265.8h0M724.3,1306.8h0M708.6,1239.3h0M664.6,1274.7h0M717.2,1268.7h0M661.1,1288.0h0M668.9,1321.8h0M684.2,1248.7h0M701.3,1275.2h0M687.7,1318.2h0M728.3,1252.6h0M752.1,1244.5h0M704.6,1279.2h0M738.2,1260.1h0M718.4,1271.1h0M738.0,1278.3h0M695.7,1315.4h0M699.4,1312.0h0M764.6,1269.2h0M733.6,1303.2h0M677.7,1263.0h0M695.2,1278.3h0M658.8,1285.0h0M653.8,1256.4h0M656.4,1272.9h0M732.1,1283.9h0M658.7,1261.9h0M705.4,1314.2h0M687.2,1322.2h0M662.8,1283.2h0" stroke="#9b9b9b" stroke-width="3.4" stroke-linecap="round" fill="none"/>
<path d="M750.0,1083.4h0M757.7,1124.2h0M745.8,1151.7h0M748.4,1163.0h0M732.5,1167.3h0M736.8,1180.6h0M675.4,1188.2h0M753.4,1195.5h0M750.0,1200.5h0M743.4,1204.8h0M619.0,1196.5h0M671.1,1208.8h0M682.7,1211.4h0M750.0,1213.7h0M741.8,1222.0h0M733.5,1234.6h0M828.0,1231.3h0M758.4,1263.5h0M773.3,1274.4h0M778.3,1290.0h0M761.7,1305.0h0M652.2,1305.6h0M630.7,1271.8h0M647.2,1223.7h0M662.2,1237.0h0M665.5,1225.3h0M625.7,1260.2h0M740.0,1240.0h0M745.0,1248.0h0M750.0,1250.0h0M655.0,1255.0h0M660.0,1250.0h0" stroke="#9b9b9b" stroke-width="3.4" stroke-linecap="round" fill="none"/>
<path d="M783.2,975.9h0M759.4,995.8h0M766.6,997.5h0M775.9,991.5h0M776.6,993.2h0M764.0,1005.8h0" stroke="#9b9b9b" stroke-width="3.4" stroke-linecap="round" fill="none"/>
<circle cx="593.2" cy="1123.5" r="5.9" fill="#0000f0"/>
<circle cx="572.0" cy="1139.1" r="5.9" fill="#0000f0"/>
<circle cx="630.7" cy="1218.7" r="5.9" fill="#0000f0"/>
<circle cx="625.7" cy="1239.6" r="5.9" fill="#0000f0"/>
<circle cx="601.8" cy="1243.6" r="5.9" fill="#0000f0"/>
<circle cx="566.0" cy="1246.2" r="5.9" fill="#0000f0"/>
<circle cx="647.7" cy="1241.5" r="5.9" fill="#0000f0"/>
<circle cx="662.6" cy="1276.0" r="5.9" fill="#0000f0"/>
<circle cx="683.5" cy="1273.7" r="5.9" fill="#0000f0"/>
<circle cx="704.0" cy="1303.6" r="5.9" fill="#0000f0"/>
<text x="590.9" y="1115.9" font-size="18.5" font-style="italic">Tigit</text>
<text x="531.8" y="1163.0" font-size="18.5" font-style="italic">Lag3</text>
<text x="629.7" y="1210.4" font-size="18.5" font-style="italic">Il10</text>
<text x="566.0" y="1233.6" font-size="18.5" font-style="italic">Pdcd1</text>
<text x="531.2" y="1268.5" font-size="18.5" font-style="italic">Ccl4</text>
<text x="580.0" y="1266.8" font-size="18.5" font-style="italic">Ccl5</text>
<text x="640.3" y="1261.5" font-size="18.5" font-style="italic">Ccr8</text>
<text x="691.5" y="1278.0" font-size="18.5" font-style="italic">Ctla4</text>
<text x="603.5" y="1300.0" font-size="18.5" font-style="italic">Tnfrsf1b</text>
<text x="709.0" y="1320.8" font-size="18.5" font-style="italic">Foxp3</text>
<circle cx="755.0" cy="1049.5" r="6" fill="#0000f0"/>
<text x="765.0" y="1056.2">Suppressive</text>
<rect x="993.0" y="973.9" width="371.0" height="350.9" fill="none" stroke="#000" stroke-width="2.2"/>
<line x1="986.5" y1="989.9" x2="993.0" y2="989.9" stroke="#000" stroke-width="2.2"/>
<text x="980.2" y="997.3" text-anchor="end">20</text>
<line x1="986.5" y1="1070.2" x2="993.0" y2="1070.2" stroke="#000" stroke-width="2.2"/>
<text x="980.2" y="1077.6" text-anchor="end">15</text>
<line x1="986.5" y1="1149.7" x2="993.0" y2="1149.7" stroke="#000" stroke-width="2.2"/>
<text x="980.2" y="1157.1" text-anchor="end">10</text>
<line x1="986.5" y1="1230.0" x2="993.0" y2="1230.0" stroke="#000" stroke-width="2.2"/>
<text x="980.2" y="1237.4" text-anchor="end">5</text>
<line x1="986.5" y1="1309.5" x2="993.0" y2="1309.5" stroke="#000" stroke-width="2.2"/>
<text x="980.2" y="1316.9" text-anchor="end">0</text>
<line x1="1009.4" y1="1324.8" x2="1009.4" y2="1331.8" stroke="#000" stroke-width="2.2"/>
<text x="1005.9" y="1356.5" text-anchor="middle">−2</text>
<line x1="1093.4" y1="1324.8" x2="1093.4" y2="1331.8" stroke="#000" stroke-width="2.2"/>
<text x="1089.9" y="1356.5" text-anchor="middle">−1</text>
<line x1="1178.0" y1="1324.8" x2="1178.0" y2="1331.8" stroke="#000" stroke-width="2.2"/>
<text x="1178.0" y="1356.5" text-anchor="middle">0</text>
<line x1="1263.0" y1="1324.8" x2="1263.0" y2="1331.8" stroke="#000" stroke-width="2.2"/>
<text x="1263.0" y="1356.5" text-anchor="middle">1</text>
<line x1="1347.6" y1="1324.8" x2="1347.6" y2="1331.8" stroke="#000" stroke-width="2.2"/>
<text x="1347.6" y="1356.5" text-anchor="middle">2</text>
<line x1="1156.5" y1="974.9" x2="1156.5" y2="1323.8" stroke="#000" stroke-width="1.5" stroke-dasharray="4,3"/>
<line x1="1201.0" y1="974.9" x2="1201.0" y2="1323.8" stroke="#000" stroke-width="1.5" stroke-dasharray="4,3"/>
<line x1="994.0" y1="1277.4" x2="1363.0" y2="1277.4" stroke="#000" stroke-width="1.5" stroke-dasharray="4,3"/>
<text x="932.6" y="1164.5" text-anchor="middle" transform="rotate(-90 932.6 1164.5)"><tspan font-size="16" dy="-0.8">–</tspan><tspan dy="0.8">log</tspan><tspan dy="7" font-size="13.5">10</tspan><tspan dy="-7">[<tspan font-style="italic">P</tspan>]</tspan></text>
<text x="1171.9" y="1379.0" text-anchor="middle">log<tspan dy="6.5" font-size="15">2</tspan><tspan dy="-6.5">[FC]</tspan></text>
<path d="M1138.8,1276.8 L1146.0,1273.2 L1155.6,1272.0 L1164.0,1275.6 L1172.4,1281.6 L1177.2,1285.2 L1182.0,1278.0 L1189.2,1268.4 L1191.6,1256.4 L1198.8,1248.0 L1208.4,1242.0 L1216.8,1246.8 L1215.6,1256.4 L1208.4,1263.6 L1203.6,1275.6 L1202.4,1290.0 L1201.2,1302.0 L1194.0,1308.0 L1179.6,1311.6 L1158.0,1311.6 L1146.0,1309.2 L1141.2,1299.6 L1137.6,1288.8 Z" fill="#9b9b9b" stroke="#9b9b9b" stroke-width="2.5" stroke-linejoin="round"/>
<path d="M1224.2,1290.8h0M1186.1,1267.7h0M1203.8,1283.8h0M1142.9,1271.5h0M1137.1,1292.0h0M1189.9,1258.6h0M1189.5,1258.1h0M1213.1,1289.7h0M1184.8,1255.1h0M1149.8,1262.3h0M1183.5,1228.3h0M1155.6,1315.9h0M1148.0,1310.8h0M1179.8,1279.5h0M1143.0,1316.7h0M1185.3,1313.5h0M1171.5,1322.0h0M1140.3,1299.0h0M1129.2,1286.4h0M1158.6,1265.6h0M1139.9,1296.4h0M1209.4,1269.3h0M1136.8,1283.7h0M1136.7,1284.8h0M1156.2,1272.1h0M1165.0,1267.6h0M1151.3,1269.9h0M1136.7,1308.3h0M1149.8,1319.3h0M1174.3,1281.4h0M1207.9,1241.4h0M1141.1,1322.3h0M1126.7,1300.2h0M1188.4,1261.6h0M1129.3,1256.8h0M1165.8,1259.4h0M1136.4,1302.7h0M1185.9,1314.8h0M1131.6,1305.5h0M1211.2,1299.8h0M1162.5,1265.3h0M1187.3,1270.3h0M1184.0,1315.1h0M1167.3,1312.5h0M1156.3,1265.7h0M1165.2,1314.8h0M1160.5,1312.1h0M1210.5,1263.7h0M1146.0,1316.2h0M1203.7,1241.0h0M1138.2,1278.8h0M1145.1,1271.4h0M1190.1,1250.2h0M1128.8,1316.4h0M1213.7,1295.9h0M1145.4,1261.9h0M1204.5,1242.7h0M1221.8,1254.1h0M1136.7,1285.1h0M1137.9,1278.5h0M1189.1,1265.6h0M1130.9,1274.2h0M1198.6,1311.6h0M1130.9,1310.3h0M1148.9,1314.5h0M1213.5,1244.2h0M1206.1,1304.1h0M1174.7,1266.1h0M1201.1,1242.7h0M1157.9,1264.1h0M1219.6,1252.6h0M1184.2,1312.1h0M1195.3,1229.2h0M1191.2,1254.7h0M1176.2,1314.1h0M1214.3,1260.8h0M1154.5,1272.0h0M1178.4,1276.8h0M1180.2,1270.7h0M1194.3,1315.1h0M1135.9,1278.0h0M1226.7,1257.4h0M1136.4,1276.7h0M1154.3,1270.8h0M1185.6,1317.6h0M1212.0,1274.4h0M1230.9,1217.7h0M1203.6,1291.0h0M1133.5,1291.4h0M1234.6,1244.5h0M1191.2,1242.2h0M1190.5,1260.3h0M1202.8,1299.4h0M1198.5,1315.3h0M1184.7,1318.8h0M1208.7,1283.4h0M1182.6,1275.3h0M1171.9,1312.2h0M1233.9,1247.3h0M1136.0,1283.3h0M1177.5,1320.3h0M1219.2,1240.6h0M1140.3,1309.8h0M1132.4,1285.6h0M1211.4,1269.7h0M1180.7,1317.4h0M1134.3,1288.4h0M1158.2,1262.7h0M1157.1,1313.9h0M1129.9,1264.8h0M1210.5,1299.5h0M1203.3,1297.2h0M1170.1,1314.6h0M1135.2,1271.5h0M1195.0,1251.0h0M1186.4,1270.7h0M1188.7,1261.2h0M1169.8,1321.3h0M1203.7,1292.5h0M1183.4,1319.9h0M1204.3,1244.5h0M1173.3,1281.2h0M1151.9,1261.2h0M1213.0,1242.9h0M1179.6,1319.8h0M1139.3,1276.4h0M1167.7,1278.1h0M1161.5,1321.1h0M1136.6,1293.9h0M1183.2,1256.6h0M1216.0,1242.7h0M1146.4,1269.9h0M1216.2,1244.6h0M1215.0,1277.5h0M1180.1,1320.4h0M1192.5,1317.4h0M1179.5,1273.2h0M1195.1,1244.5h0M1184.4,1251.3h0M1135.6,1288.7h0M1208.4,1285.3h0M1187.7,1262.4h0M1217.1,1248.5h0M1200.3,1241.0h0M1204.8,1285.0h0M1195.8,1308.0h0M1194.7,1249.9h0M1185.7,1246.1h0M1179.0,1316.8h0M1204.7,1273.3h0M1212.5,1289.6h0M1145.7,1310.5h0M1203.2,1296.0h0M1189.6,1263.9h0M1152.3,1319.4h0M1165.3,1311.9h0M1163.6,1268.2h0M1178.4,1281.9h0M1169.0,1239.2h0M1156.6,1260.6h0M1227.4,1303.4h0M1204.7,1273.8h0M1132.0,1291.8h0M1147.9,1315.4h0M1207.7,1233.3h0M1155.9,1312.9h0M1167.6,1319.5h0M1219.5,1239.2h0M1209.7,1273.3h0M1211.7,1243.3h0" stroke="#9b9b9b" stroke-width="3.4" stroke-linecap="round" fill="none"/>
<path d="M1150.3,1182.5h0M1230.2,1171.6h0M1217.4,1191.7h0M1233.8,1191.7h0M1208.3,1202.6h0M1242.9,1211.7h0M1301.3,1211.0h0M1244.8,1217.2h0M1087.2,1211.7h0M1297.7,1248.2h0M1259.4,1251.9h0M1261.2,1269.4h0M1247.3,1309.5h0M1159.0,1231.8h0M1126.2,1235.4h0M1133.5,1248.2h0M1248.4,1237.3h0M1241.1,1271.9h0M1222.9,1287.3h0M1205.0,1222.0h0M1212.0,1228.0h0M1220.0,1232.0h0M1225.0,1215.0h0M1216.0,1205.0h0" stroke="#9b9b9b" stroke-width="3.4" stroke-linecap="round" fill="none"/>
<circle cx="1031.3" cy="1169.0" r="5.9" fill="#0000f0"/>
<circle cx="1072.2" cy="1168.7" r="5.9" fill="#0000f0"/>
<circle cx="1087.5" cy="1237.3" r="5.9" fill="#0000f0"/>
<circle cx="1113.4" cy="1236.2" r="5.9" fill="#0000f0"/>
<circle cx="1101.4" cy="1261.0" r="5.9" fill="#0000f0"/>
<circle cx="1089.3" cy="1267.6" r="5.9" fill="#0000f0"/>
<circle cx="1060.9" cy="1270.8" r="5.9" fill="#0000f0"/>
<circle cx="1138.4" cy="1284.4" r="5.9" fill="#0000f0"/>
<circle cx="1189.8" cy="1282.2" r="5.9" fill="#0000f0"/>
<circle cx="1175.7" cy="1306.2" r="5.9" fill="#0000f0"/>
<line x1="1133.5" y1="1290.0" x2="1136.0" y2="1285.0" stroke="#000" stroke-width="1.5"/>
<text x="1068.9" y="1158.8" font-size="18.5" font-style="italic">Tigit</text>
<text x="996.7" y="1191.7" font-size="18.5" font-style="italic">Lag3</text>
<text x="1041.2" y="1228.0" font-size="18.5" font-style="italic">Pdcd1</text>
<text x="1111.6" y="1226.3" font-size="18.5" font-style="italic">Il10</text>
<text x="1109.0" y="1257.3" font-size="18.5" font-style="italic">Ccr8</text>
<text x="1081.7" y="1288.3" font-size="18.5" font-style="italic">Ccl5</text>
<text x="1027.7" y="1293.8" font-size="18.5" font-style="italic">Ccl4</text>
<text x="1100.7" y="1311.0" font-size="18.5" font-style="italic">Tnfrsf1b</text>
<text x="1173.6" y="1275.6" font-size="18.5" font-style="italic">Foxp3</text>
<text x="1180.9" y="1321.2" font-size="18.5" font-style="italic">Ctla4</text>
<circle cx="1230.9" cy="1010.3" r="6" fill="#0000f0"/>
<text x="1241.1" y="1016.5">Suppressive</text>
<text x="626.8" y="1418.0" text-anchor="end">IgG2a</text>
<text x="626.8" y="1442.4" text-anchor="end">Control</text>
<line x1="549.4" y1="1434.5" x2="517.6" y2="1434.5" stroke="#000" stroke-width="2.2"/>
<path d="M509.8,1434.5 L522.8,1429.0 L519.2,1434.5 L522.8,1440.0 Z" fill="#000"/>
<text x="722.7" y="1418.0">Anti-TIGIT IgG2a</text>
<text x="722.7" y="1442.4">+ anti-PD-L1</text>
<line x1="850.4" y1="1434.5" x2="882.2" y2="1434.5" stroke="#000" stroke-width="2.2"/>
<path d="M890.0,1434.5 L877.0,1429.0 L880.6,1434.5 L877.0,1440.0 Z" fill="#000"/>
<text x="1100.4" y="1418.0" text-anchor="end">IgG2a</text>
<text x="1100.4" y="1442.4" text-anchor="end">Control</text>
<line x1="1025.6" y1="1434.5" x2="991.8" y2="1434.5" stroke="#000" stroke-width="2.2"/>
<path d="M984.0,1434.5 L997.0,1429.0 L993.4,1434.5 L997.0,1440.0 Z" fill="#000"/>
<text x="1167.8" y="1418.0">Anti-TIGIT IgG2a</text>
<text x="1167.8" y="1442.4">+ anti-PD-L1</text>
<text x="1167.8" y="1467.0">+ anti-CSF-1R</text>
<line x1="1328.5" y1="1434.5" x2="1361.7" y2="1434.5" stroke="#000" stroke-width="2.2"/>
<path d="M1369.5,1434.5 L1356.5,1429.0 L1360.1,1434.5 L1356.5,1440.0 Z" fill="#000"/>
<line x1="198.0" y1="1524.7" x2="198.0" y2="1701.1" stroke="#000" stroke-width="2.2"/>
<line x1="189.7" y1="1525.8" x2="198.0" y2="1525.8" stroke="#000" stroke-width="2.2"/>
<text x="183.8" y="1533.2" text-anchor="end">10,000</text>
<line x1="189.7" y1="1569.7" x2="198.0" y2="1569.7" stroke="#000" stroke-width="2.2"/>
<text x="183.8" y="1577.1" text-anchor="end">7,500</text>
<line x1="189.7" y1="1613.2" x2="198.0" y2="1613.2" stroke="#000" stroke-width="2.2"/>
<text x="183.8" y="1620.6" text-anchor="end">5,000</text>
<line x1="189.7" y1="1656.5" x2="198.0" y2="1656.5" stroke="#000" stroke-width="2.2"/>
<text x="183.8" y="1663.9" text-anchor="end">2,500</text>
<line x1="189.7" y1="1700.0" x2="198.0" y2="1700.0" stroke="#000" stroke-width="2.2"/>
<text x="183.8" y="1707.4" text-anchor="end">0</text>
<line x1="189.7" y1="1700.0" x2="372.0" y2="1700.0" stroke="#000" stroke-width="2.2"/>
<line x1="219.3" y1="1700.0" x2="219.3" y2="1707.5" stroke="#000" stroke-width="2.2"/>
<line x1="251.9" y1="1700.0" x2="251.9" y2="1707.5" stroke="#000" stroke-width="2.2"/>
<line x1="285.1" y1="1700.0" x2="285.1" y2="1707.5" stroke="#000" stroke-width="2.2"/>
<line x1="318.0" y1="1700.0" x2="318.0" y2="1707.5" stroke="#000" stroke-width="2.2"/>
<line x1="350.6" y1="1700.0" x2="350.6" y2="1707.5" stroke="#000" stroke-width="2.2"/>
<circle cx="215.6" cy="1655.6" r="6.4" fill="#000"/>
<circle cx="219.8" cy="1653.2" r="6.4" fill="#000"/>
<circle cx="224.6" cy="1655.6" r="6.4" fill="#000"/>
<circle cx="248.6" cy="1663.4" r="6.4" fill="#000"/>
<circle cx="252.8" cy="1661.0" r="6.4" fill="#000"/>
<circle cx="257.6" cy="1662.8" r="6.4" fill="#000"/>
<circle cx="281.6" cy="1629.2" r="6.4" fill="#000"/>
<circle cx="285.8" cy="1625.0" r="6.4" fill="#000"/>
<circle cx="290.0" cy="1627.4" r="6.4" fill="#000"/>
<circle cx="314.0" cy="1570.4" r="6.4" fill="#000"/>
<circle cx="318.8" cy="1565.6" r="6.4" fill="#000"/>
<circle cx="323.0" cy="1567.4" r="6.4" fill="#000"/>
<circle cx="346.4" cy="1634.0" r="6.4" fill="#000"/>
<circle cx="350.6" cy="1625.6" r="6.4" fill="#000"/>
<circle cx="356.0" cy="1630.4" r="6.4" fill="#000"/>
<circle cx="349.0" cy="1628.0" r="6.4" fill="#000"/>
<path d="M285.1,1614.1 L285.1,1546.0 L318.0,1546.0 L318.0,1557.8" stroke="#000" stroke-width="2.2" fill="none" stroke-linejoin="miter"/>
<text x="298.6" y="1538.5" text-anchor="middle">&lt;0.001</text>
<path d="M318.0,1522.2 L318.0,1510.4 L350.6,1510.4 L350.6,1617.0" stroke="#000" stroke-width="2.2" fill="none" stroke-linejoin="miter"/>
<text x="329.0" y="1503.9" text-anchor="middle">&lt;0.001</text>
<text x="87.4" y="1611.0" text-anchor="middle" transform="rotate(-90 87.4 1611.0)">M2 macrophage</text>
<text x="114.1" y="1611.0" text-anchor="middle" transform="rotate(-90 114.1 1611.0)">TNF (pg ml<tspan dy="-8" font-size="14.5">−1</tspan><tspan dy="8">)</tspan></text>
<text x="197.0" y="1734.2" text-anchor="end">Control IgG</text>
<text x="218.1" y="1737.0" text-anchor="middle">+</text>
<text x="250.7" y="1737.0" text-anchor="middle">−</text>
<text x="283.9" y="1737.0" text-anchor="middle">−</text>
<text x="316.8" y="1737.0" text-anchor="middle">−</text>
<text x="349.4" y="1737.0" text-anchor="middle">−</text>
<text x="197.0" y="1758.8" text-anchor="end">Tiragolumab</text>
<text x="218.1" y="1761.6" text-anchor="middle">−</text>
<text x="250.7" y="1761.6" text-anchor="middle">+</text>
<text x="283.9" y="1761.6" text-anchor="middle">−</text>
<text x="316.8" y="1761.6" text-anchor="middle">+</text>
<text x="349.4" y="1761.6" text-anchor="middle">−</text>
<text x="197.0" y="1783.6" text-anchor="end">Atezolizumab</text>
<text x="218.1" y="1786.4" text-anchor="middle">−</text>
<text x="250.7" y="1786.4" text-anchor="middle">−</text>
<text x="283.9" y="1786.4" text-anchor="middle">+</text>
<text x="316.8" y="1786.4" text-anchor="middle">+</text>
<text x="349.4" y="1786.4" text-anchor="middle">+</text>
<text x="197.0" y="1808.3" text-anchor="end">Tira. (deglycosylated)</text>
<text x="218.1" y="1811.1" text-anchor="middle">−</text>
<text x="250.7" y="1811.1" text-anchor="middle">−</text>
<text x="283.9" y="1811.1" text-anchor="middle">−</text>
<text x="316.8" y="1811.1" text-anchor="middle">−</text>
<text x="349.4" y="1811.1" text-anchor="middle">+</text>
<line x1="577.8" y1="1524.9" x2="577.8" y2="1701.3" stroke="#000" stroke-width="2.2"/>
<line x1="569.0" y1="1526.0" x2="577.8" y2="1526.0" stroke="#000" stroke-width="2.2"/>
<text x="565.3" y="1533.4" text-anchor="end">400</text>
<line x1="569.0" y1="1570.0" x2="577.8" y2="1570.0" stroke="#000" stroke-width="2.2"/>
<text x="565.3" y="1577.4" text-anchor="end">300</text>
<line x1="569.0" y1="1613.4" x2="577.8" y2="1613.4" stroke="#000" stroke-width="2.2"/>
<text x="565.3" y="1620.8" text-anchor="end">200</text>
<line x1="569.0" y1="1656.8" x2="577.8" y2="1656.8" stroke="#000" stroke-width="2.2"/>
<text x="565.3" y="1664.2" text-anchor="end">100</text>
<line x1="569.0" y1="1700.2" x2="577.8" y2="1700.2" stroke="#000" stroke-width="2.2"/>
<text x="565.3" y="1707.6" text-anchor="end">0</text>
<line x1="569.0" y1="1700.2" x2="752.0" y2="1700.2" stroke="#000" stroke-width="2.2"/>
<line x1="598.6" y1="1700.2" x2="598.6" y2="1707.7" stroke="#000" stroke-width="2.2"/>
<line x1="631.3" y1="1700.2" x2="631.3" y2="1707.7" stroke="#000" stroke-width="2.2"/>
<line x1="664.3" y1="1700.2" x2="664.3" y2="1707.7" stroke="#000" stroke-width="2.2"/>
<line x1="697.0" y1="1700.2" x2="697.0" y2="1707.7" stroke="#000" stroke-width="2.2"/>
<line x1="729.7" y1="1700.2" x2="729.7" y2="1707.7" stroke="#000" stroke-width="2.2"/>
<circle cx="594.5" cy="1697.6" r="6.4" fill="#000"/>
<circle cx="599.5" cy="1696.1" r="6.4" fill="#000"/>
<circle cx="604.5" cy="1697.6" r="6.4" fill="#000"/>
<circle cx="627.5" cy="1698.4" r="6.4" fill="#000"/>
<circle cx="632.0" cy="1697.4" r="6.4" fill="#000"/>
<circle cx="636.5" cy="1698.4" r="6.4" fill="#000"/>
<circle cx="659.5" cy="1689.2" r="6.4" fill="#000"/>
<circle cx="664.3" cy="1688.2" r="6.4" fill="#000"/>
<circle cx="669.1" cy="1689.2" r="6.4" fill="#000"/>
<circle cx="693.1" cy="1579.6" r="6.4" fill="#000"/>
<circle cx="699.1" cy="1571.2" r="6.4" fill="#000"/>
<circle cx="702.7" cy="1572.4" r="6.4" fill="#000"/>
<circle cx="725.3" cy="1685.6" r="6.4" fill="#000"/>
<circle cx="730.3" cy="1684.6" r="6.4" fill="#000"/>
<circle cx="735.3" cy="1685.6" r="6.4" fill="#000"/>
<path d="M664.3,1677.0 L664.3,1550.6 L697.0,1550.6 L697.0,1559.8" stroke="#000" stroke-width="2.2" fill="none" stroke-linejoin="miter"/>
<text x="682.0" y="1542.5" text-anchor="middle">&lt;0.001</text>
<path d="M697.0,1525.0 L697.0,1515.0 L729.7,1515.0 L729.7,1675.6" stroke="#000" stroke-width="2.2" fill="none" stroke-linejoin="miter"/>
<text x="709.0" y="1507.2" text-anchor="middle">&lt;0.001</text>
<text x="493.0" y="1613.4" text-anchor="middle" transform="rotate(-90 493.0 1613.4)">M2 macrophage</text>
<text x="517.6" y="1613.4" text-anchor="middle" transform="rotate(-90 517.6 1613.4)">IL-2 (pg ml<tspan dy="-8" font-size="14.5">−1</tspan><tspan dy="8">)</tspan></text>
<text x="576.9" y="1733.4" text-anchor="end">Control IgG</text>
<text x="597.4" y="1736.2" text-anchor="middle">+</text>
<text x="630.1" y="1736.2" text-anchor="middle">−</text>
<text x="663.1" y="1736.2" text-anchor="middle">−</text>
<text x="695.8" y="1736.2" text-anchor="middle">−</text>
<text x="728.5" y="1736.2" text-anchor="middle">−</text>
<text x="576.9" y="1758.0" text-anchor="end">Tiragolumab</text>
<text x="597.4" y="1760.8" text-anchor="middle">−</text>
<text x="630.1" y="1760.8" text-anchor="middle">+</text>
<text x="663.1" y="1760.8" text-anchor="middle">−</text>
<text x="695.8" y="1760.8" text-anchor="middle">+</text>
<text x="728.5" y="1760.8" text-anchor="middle">−</text>
<text x="576.9" y="1782.6" text-anchor="end">Atezolizumab</text>
<text x="597.4" y="1785.4" text-anchor="middle">−</text>
<text x="630.1" y="1785.4" text-anchor="middle">−</text>
<text x="663.1" y="1785.4" text-anchor="middle">+</text>
<text x="695.8" y="1785.4" text-anchor="middle">+</text>
<text x="728.5" y="1785.4" text-anchor="middle">+</text>
<text x="576.9" y="1807.2" text-anchor="end">Tira. (deglycosylated)</text>
<text x="597.4" y="1810.0" text-anchor="middle">−</text>
<text x="630.1" y="1810.0" text-anchor="middle">−</text>
<text x="663.1" y="1810.0" text-anchor="middle">−</text>
<text x="695.8" y="1810.0" text-anchor="middle">−</text>
<text x="728.5" y="1810.0" text-anchor="middle">+</text>
<line x1="922.3" y1="1525.4" x2="922.3" y2="1701.7" stroke="#000" stroke-width="2.2"/>
<line x1="914.8" y1="1526.5" x2="922.3" y2="1526.5" stroke="#000" stroke-width="2.2"/>
<text x="910.4" y="1533.9" text-anchor="end">20,000</text>
<line x1="914.8" y1="1570.4" x2="922.3" y2="1570.4" stroke="#000" stroke-width="2.2"/>
<text x="910.4" y="1577.8" text-anchor="end">15,000</text>
<line x1="914.8" y1="1614.0" x2="922.3" y2="1614.0" stroke="#000" stroke-width="2.2"/>
<text x="910.4" y="1621.4" text-anchor="end">10,000</text>
<line x1="914.8" y1="1657.5" x2="922.3" y2="1657.5" stroke="#000" stroke-width="2.2"/>
<text x="910.4" y="1664.9" text-anchor="end">5,000</text>
<line x1="914.8" y1="1700.6" x2="922.3" y2="1700.6" stroke="#000" stroke-width="2.2"/>
<text x="910.4" y="1708.0" text-anchor="end">0</text>
<line x1="915.2" y1="1700.6" x2="1096.3" y2="1700.6" stroke="#000" stroke-width="2.2"/>
<line x1="948.7" y1="1700.6" x2="948.7" y2="1708.3" stroke="#000" stroke-width="2.2"/>
<line x1="988.8" y1="1700.6" x2="988.8" y2="1708.3" stroke="#000" stroke-width="2.2"/>
<line x1="1029.1" y1="1700.6" x2="1029.1" y2="1708.3" stroke="#000" stroke-width="2.2"/>
<line x1="1069.9" y1="1700.6" x2="1069.9" y2="1708.3" stroke="#000" stroke-width="2.2"/>
<circle cx="942.7" cy="1611.6" r="6.3" fill="#000"/>
<circle cx="949.9" cy="1608.8" r="6.3" fill="#000"/>
<circle cx="955.9" cy="1610.0" r="6.3" fill="#000"/>
<circle cx="982.3" cy="1589.6" r="6.3" fill="#000"/>
<circle cx="988.8" cy="1581.2" r="6.3" fill="#000"/>
<circle cx="996.7" cy="1584.8" r="6.3" fill="#000"/>
<circle cx="1023.1" cy="1577.6" r="6.3" fill="#000"/>
<circle cx="1030.3" cy="1569.2" r="6.3" fill="#000"/>
<circle cx="1036.3" cy="1577.6" r="6.3" fill="#000"/>
<circle cx="1062.7" cy="1562.0" r="6.3" fill="#000"/>
<circle cx="1069.9" cy="1557.2" r="6.3" fill="#000"/>
<circle cx="1077.1" cy="1560.8" r="6.3" fill="#000"/>
<path d="M948.7,1599.2 L948.7,1502.0 L1029.8,1502.0 L1029.8,1526.0" stroke="#000" stroke-width="2.2" fill="none" stroke-linejoin="miter"/>
<text x="990.7" y="1496.0" text-anchor="middle">&lt;0.001</text>
<path d="M988.8,1570.4 L988.8,1536.8 L1026.7,1536.8 L1026.7,1558.4" stroke="#000" stroke-width="2.2" fill="none" stroke-linejoin="miter"/>
<text x="988.3" y="1528.4" text-anchor="middle">0.0456</text>
<path d="M1032.7,1558.4 L1032.7,1536.8 L1069.9,1536.8 L1069.9,1547.6" stroke="#000" stroke-width="2.2" fill="none" stroke-linejoin="miter"/>
<text x="1068.7" y="1528.4" text-anchor="middle">0.0117</text>
<text x="815.6" y="1613.5" text-anchor="middle" transform="rotate(-90 815.6 1613.5)">M1 macrophage</text>
<text x="840.8" y="1613.5" text-anchor="middle" transform="rotate(-90 840.8 1613.5)">TNF (pg ml<tspan dy="-8" font-size="14.5">−1</tspan><tspan dy="8">)</tspan></text>
<text x="927.2" y="1734.7" text-anchor="end">Control IgG</text>
<text x="951.1" y="1737.5" text-anchor="middle">+</text>
<text x="990.3" y="1737.5" text-anchor="middle">−</text>
<text x="1030.3" y="1737.5" text-anchor="middle">−</text>
<text x="1069.9" y="1737.5" text-anchor="middle">−</text>
<text x="927.2" y="1759.9" text-anchor="end">Tiragolumab</text>
<text x="951.1" y="1762.7" text-anchor="middle">−</text>
<text x="990.3" y="1762.7" text-anchor="middle">+</text>
<text x="1030.3" y="1762.7" text-anchor="middle">−</text>
<text x="1069.9" y="1762.7" text-anchor="middle">+</text>
<text x="927.2" y="1785.1" text-anchor="end">Atezolizumab</text>
<text x="951.1" y="1787.9" text-anchor="middle">−</text>
<text x="990.3" y="1787.9" text-anchor="middle">−</text>
<text x="1030.3" y="1787.9" text-anchor="middle">+</text>
<text x="1069.9" y="1787.9" text-anchor="middle">+</text>
<line x1="1241.4" y1="1525.3" x2="1241.4" y2="1702.1" stroke="#000" stroke-width="2.2"/>
<line x1="1234.2" y1="1526.4" x2="1241.4" y2="1526.4" stroke="#000" stroke-width="2.2"/>
<text x="1228.6" y="1533.8" text-anchor="end">4,000</text>
<line x1="1234.2" y1="1570.0" x2="1241.4" y2="1570.0" stroke="#000" stroke-width="2.2"/>
<text x="1228.6" y="1577.4" text-anchor="end">3,000</text>
<line x1="1234.2" y1="1614.0" x2="1241.4" y2="1614.0" stroke="#000" stroke-width="2.2"/>
<text x="1228.6" y="1621.4" text-anchor="end">2,000</text>
<line x1="1234.2" y1="1657.3" x2="1241.4" y2="1657.3" stroke="#000" stroke-width="2.2"/>
<text x="1228.6" y="1664.7" text-anchor="end">1,000</text>
<line x1="1234.2" y1="1701.0" x2="1241.4" y2="1701.0" stroke="#000" stroke-width="2.2"/>
<text x="1228.6" y="1708.4" text-anchor="end">0</text>
<line x1="1234.2" y1="1701.0" x2="1415.4" y2="1701.0" stroke="#000" stroke-width="2.2"/>
<line x1="1267.3" y1="1701.0" x2="1267.3" y2="1708.3" stroke="#000" stroke-width="2.2"/>
<line x1="1308.0" y1="1701.0" x2="1308.0" y2="1708.3" stroke="#000" stroke-width="2.2"/>
<line x1="1348.3" y1="1701.0" x2="1348.3" y2="1708.3" stroke="#000" stroke-width="2.2"/>
<line x1="1388.6" y1="1701.0" x2="1388.6" y2="1708.3" stroke="#000" stroke-width="2.2"/>
<circle cx="1261.1" cy="1691.5" r="6.3" fill="#000"/>
<circle cx="1268.2" cy="1689.3" r="6.3" fill="#000"/>
<circle cx="1275.6" cy="1690.9" r="6.3" fill="#000"/>
<circle cx="1301.8" cy="1655.1" r="6.3" fill="#000"/>
<circle cx="1308.0" cy="1644.6" r="6.3" fill="#000"/>
<circle cx="1315.2" cy="1651.3" r="6.3" fill="#000"/>
<circle cx="1348.8" cy="1543.2" r="6.3" fill="#000"/>
<circle cx="1355.5" cy="1558.4" r="6.3" fill="#000"/>
<circle cx="1342.3" cy="1568.5" r="6.3" fill="#000"/>
<circle cx="1382.5" cy="1559.6" r="6.3" fill="#000"/>
<circle cx="1389.3" cy="1551.7" r="6.3" fill="#000"/>
<circle cx="1395.7" cy="1556.6" r="6.3" fill="#000"/>
<line x1="1336.0" y1="1557.0" x2="1356.0" y2="1557.0" stroke="#000" stroke-width="2.2"/>
<line x1="1348.8" y1="1549.0" x2="1348.8" y2="1566.0" stroke="#000" stroke-width="2.2"/>
<line x1="1343.0" y1="1549.0" x2="1355.0" y2="1549.0" stroke="#000" stroke-width="2.2"/>
<path d="M1308.0,1634.5 L1308.0,1522.2 L1348.8,1522.2 L1348.8,1532.7" stroke="#000" stroke-width="2.2" fill="none" stroke-linejoin="miter"/>
<text x="1324.4" y="1514.8" text-anchor="middle">&lt;0.001</text>
<text x="1145.9" y="1614.4" text-anchor="middle" transform="rotate(-90 1145.9 1614.4)">M1 macrophage</text>
<text x="1170.5" y="1614.4" text-anchor="middle" transform="rotate(-90 1170.5 1614.4)">IL-2 (pg ml<tspan dy="-8" font-size="14.5">−1</tspan><tspan dy="8">)</tspan></text>
<text x="1247.7" y="1734.0" text-anchor="end">Control IgG</text>
<text x="1266.1" y="1736.8" text-anchor="middle">+</text>
<text x="1306.8" y="1736.8" text-anchor="middle">−</text>
<text x="1347.1" y="1736.8" text-anchor="middle">−</text>
<text x="1387.4" y="1736.8" text-anchor="middle">−</text>
<text x="1247.7" y="1758.7" text-anchor="end">Tiragolumab</text>
<text x="1266.1" y="1761.5" text-anchor="middle">−</text>
<text x="1306.8" y="1761.5" text-anchor="middle">+</text>
<text x="1347.1" y="1761.5" text-anchor="middle">−</text>
<text x="1387.4" y="1761.5" text-anchor="middle">+</text>
<text x="1247.7" y="1783.3" text-anchor="end">Atezolizumab</text>
<text x="1266.1" y="1786.1" text-anchor="middle">−</text>
<text x="1306.8" y="1786.1" text-anchor="middle">−</text>
<text x="1347.1" y="1786.1" text-anchor="middle">+</text>
<text x="1387.4" y="1786.1" text-anchor="middle">+</text>
<rect x="517.6" y="642.7" width="242.9" height="242.9" fill="none" stroke="#000" stroke-width="2.4"/>
<path d="M511.1,660.7H517.6M511.1,703.2H517.6M511.1,753.0H517.6M511.1,796.9H517.6M511.1,841.1H517.6M511.1,877.3H517.6M514.1,648.0H517.6M514.1,653.6H517.6M514.1,690.4H517.6M514.1,682.9H517.6M514.1,677.6H517.6M514.1,673.5H517.6M514.1,670.1H517.6M514.1,667.3H517.6M514.1,664.8H517.6M514.1,662.6H517.6M514.1,738.0H517.6M514.1,729.2H517.6M514.1,723.0H517.6M514.1,718.2H517.6M514.1,714.2H517.6M514.1,710.9H517.6M514.1,708.0H517.6M514.1,705.5H517.6M514.1,827.8H517.6M514.1,820.1H517.6M514.1,814.5H517.6M514.1,810.2H517.6M514.1,806.7H517.6M514.1,803.8H517.6M514.1,801.2H517.6M514.1,799.0H517.6M514.1,866.4H517.6M514.1,860.1H517.6M514.1,855.6H517.6M514.1,852.0H517.6M514.1,849.2H517.6M514.1,846.8H517.6M514.1,844.7H517.6M514.1,842.8H517.6M512.6,788.4H517.6M512.6,791.4H517.6M512.6,793.3H517.6M512.6,795.0H517.6M512.6,798.9H517.6M512.6,800.6H517.6M512.6,803.0H517.6M512.6,805.9H517.6M540.8,885.6V892.1M587.0,885.6V892.1M609.9,885.6V892.1M655.6,885.6V892.1M701.5,885.6V892.1M742.3,885.6V892.1M623.6,885.6V889.1M631.7,885.6V889.1M637.4,885.6V889.1M641.8,885.6V889.1M645.4,885.6V889.1M648.5,885.6V889.1M651.1,885.6V889.1M653.5,885.6V889.1M669.4,885.6V889.1M677.5,885.6V889.1M683.2,885.6V889.1M687.7,885.6V889.1M691.3,885.6V889.1M694.4,885.6V889.1M697.0,885.6V889.1M699.4,885.6V889.1M713.8,885.6V889.1M720.9,885.6V889.1M726.0,885.6V889.1M730.0,885.6V889.1M733.2,885.6V889.1M736.0,885.6V889.1M738.3,885.6V889.1M740.4,885.6V889.1M755.1,885.6V889.1M573.1,885.6V889.1M565.0,885.6V889.1M559.2,885.6V889.1M554.7,885.6V889.1M551.0,885.6V889.1M548.0,885.6V889.1M545.3,885.6V889.1M542.9,885.6V889.1M527.2,885.6V889.1M590.5,885.6V891.1M594.1,885.6V891.1M596.5,885.6V891.1M599.0,885.6V891.1M601.4,885.6V891.1M603.8,885.6V891.1M606.3,885.6V891.1" stroke="#000" stroke-width="1.6" fill="none"/>
<path d="M590.4,852.6l-1,0.2 -2,0 -3-0.6 -3-1.4 -1-0.7 -2-2.1 -1.3-2 -0.9-3 -0.2-2 -0.4-2 -0.1-29 0.4-3 0-37.6 -0.4-2.4 0-11 -0.5-2.6 -0.1-7 -0.5-2.4 0-9 -0.4-1.6 0-1.4 0-3 0.4-1.6 0.2-2 1-3.4 0.7-1.6 1.1-1.2 1.4-1.1 1-0.5 3-0.6 9.6-0.1 8,0.2 2.4,0.5 8,0 2-0.4 4-0.1 1.6-0.4 2.4-0.1 2-0.5 2.6,0 1.4-0.4 3-0.2 2-0.4 2.6-0.1 2-0.4 2.4-0.1 2-0.5 5.9,0 2.7-0.5 6.4,0 2,0.4 2.6,0.1 3,0.5 2.4,0.7 4,1.4 5,2.6 2,1.4 1.9,1.8 0.7,1 1.2,2.6 0.3,3.4 -0.2,3.6 -1.1,4 -1.3,3.4 -4.5,7.5 -3.4,4.5 -2,3.3 -2.5,5.3 -1,3 -1.3,6 -1.7,14 -0.5,2 -0.3,3 -0.6,2 -0.4,3 -0.5,2 -0.3,3 -0.4,2 -0.1,3 -0.4,2 0.1,3 -0.3,2 0.1,3.4 -0.4,2 0,3 -0.4,2 -0.2,2 -0.7,3.6 -0.7,2.4 -1.6,3.6 -0.9,1.2 -2,1.8 -3.6,1.3 -5,1 -3,0 -4-0.6 -6.4-1.9 -2.9-1.4 -2.1-1.4 -1.6-1.5 -2.6-4.1 -2.4-2.3 -1.4-0.9 -1-0.3 -1.6,0 -1,0.2 -1.4,0.6 -1.6,0.9 -2.9,3.4 -6,14 -2.7,4.4 -2.8,3.1 -2,1.1 -3,1z M589.9,851.0l-2,0.3 -3-0.6 -2.4-1.2 -1.5-1.1 -1.3-1.4 -1.1-2 -0.8-2.6 -0.2-2 -0.4-2 -0.2-28 0.5-3.2 0-38.2 -0.5-2.6 0-11 -0.5-2.4 -0.2-7 -0.4-2 0-9 -0.4-3 0-2.6 0.7-3.4 0.6-2.6 0.8-2 1.3-1.4 1-0.7 4-1 8-0.1 8,0.4 2.6,0.5 8.4,0.1 2.6-0.5 4-0.1 6-1 2.4-0.1 2-0.4 2.6-0.1 2-0.5 2.4-0.1 1.6-0.4 3-0.1 2-0.5 5.4-0.1 3.6-0.4 5,0 2,0.4 3,0.1 2.4,0.5 2.6,0.6 4,1.5 4.7,2.4 1.7,1.2 1.6,1.5 0.6,0.9 1,2 0.4,1.4 -0.2,5 -1.4,4.6 -1.1,2.4 -0.9,1.4 -4.4,6.1 -4.1,4.1 -3.2,3.4 -3.1,4.6 -1.5,3.4 -1,4.6 -0.7,9 -0.9,7 -1.1,5 -2,7 -1.1,5.4 -0.4,4.6 0.1,5 0.2,3.4 -0.2,5.6 -0.6,3.4 -0.9,3.6 -1.5,3.4 -0.8,1 -1.2,0.8 -2,0.6 -3,0.5 -1.6,0 -3.4-0.6 -4-1 -3-1.2 -2-1.3 -1.1-1.2 -2.7-4 -2.4-2.6 -1.8-1.3 -2-1 -2-0.5 -2.6,0.1 -2,0.5 -2.4,1.4 -2,1.6 -1,1.3 -2,3.2 -1,2.3 -4.5,13.4 -2.2,4.6 -1.9,2.4 -1,0.8 -2,1.1 -2,0.7z M588.9,849.6l-1,0 -3-0.5 -2-1 -1.4-1.4 -1.2-1.7 -0.8-2 -0.8-5 -0.3-27 0.3-3.6 0.1-38.4 -0.4-3 0-11 -0.5-2.6 -0.2-6.4 -0.5-2.6 0-9 -0.4-3 0.2-2 0.5-3 0.8-3 0.6-1.3 1.6-1.4 4-1 7.4-0.1 7.6,0.4 3,0.6 9,0 2.4-0.4 4-0.2 5.6-0.9 2.6-0.1 1.8-0.5 2.6-0.1 2-0.4 2.4-0.2 6.6-0.9 6-0.2 2-0.4 2-0.1 3.4,0 2.6,0.5 2.4,0.1 4.6,0.9 4.7,1.7 4.3,2.3 1.7,1.3 1.3,1.2 0.9,1.8 0.6,1.4 -0.2,4.6 -1.9,5.4 -1,1.8 -1,1.5 -4,4.7 -9.1,7.6 -4.2,4 -1.4,2 -1,2.4 -0.9,4.6 -0.1,9.4 -0.2,3 -0.7,3.6 -1.4,5 -3,7.4 -1.8,6 -0.1,4 1,8 0.1,5 -0.8,4.6 -1.4,3.8 -1,0.7 -2.4,0.3 -4-0.7 -2.6-0.8 -1.7-0.9 -1.3-1 -4.5-7.4 -0.1-1 0.4-1.6 1-2 1.2-1.9 2-2.3 4.5-3.8 1.3-1.4 0.2-1 -0.1-0.6 -0.8-1 -7.5-6.1 -1.6-0.9 -1.4-0.6 -2.6-0.1 -5.4,1.1 -5.6,0.5 -1.4,0.3 -1,0.7 -0.5,0.7 -0.7,2.4 -0.2,4 -0.1,11 -0.2,1 -3.9,5.3 -2.4,5.2 -1,2.5 -3.9,13.6 -1.9,4.4 -1.7,2.6 -1.1,0.9 -1.4,0.8 -2.6,0.9z M588.4,848.0l-2.6-0.3 -1-0.3 -1.4-0.8 -1.2-1.2 -0.9-1.4 -0.5-1.6 -0.8-5 -0.5-26.4 0.4-3.6 0.1-39 -0.4-3 0-10.4 -0.5-2.6 -0.3-6.4 -0.4-3 -0.1-8.6 -0.2-3 0-1.4 0.7-3.6 1.2-3.4 0.8-0.9 2.6-0.8 5-0.5 4,0.1 6,0.4 4,0.7 9,0.1 2.4-0.4 4-0.2 6-1 2.6-0.2 2-0.4 2.4-0.2 2-0.4 2.6-0.2 6.4-1 5.6-0.1 2.4-0.4 2-0.1 3,0.1 2,0.3 2.6,0.2 4.4,0.9 4.6,1.6 4,2.1 2.4,2 0.6,0.7 0.8,1.6 0.2,1.4 -0.3,3.6 -1.4,4 -1.6,3 -2,2.4 -2.3,2.4 -1.4,1.3 -2,1.5 -1.6,0.5 -4,0.5 -14,2.5 -7.4,1.1 -7.6,0.7 -9.4,0 -4,0.4 -2.2,0.7 -2.2,1 -7.7,5 -0.9,2.4 -0.3,3 0.3,2.9 0.4,1.5 0.6,0.7 0.4,0.1 0.6-0.1 3.4-3 2.6-1.3 2.4-0.5 2.6,0.4 1.4,0.8 1.5,1.1 1.1,1.2 0.7,1.2 0.7,1.6 0.4,1.4 0.1,2 -0.1,1.6 -0.9,2.4 -1.5,2.1 -2,1.6 -2.4,1 -2.6,0 -2.1-0.7 -1.9-1 -3-2.6 -1-0.5 -0.4,0.1 -0.6,0.6 -0.4,1.2 -0.6,2.1 -0.6,6.1 -0.3,28.6 -2.7,7.4 -2.2,8.6 -1.7,6 -1.7,4 -1.1,2 -1.1,1.3 -1.6,0.9 -2.4,0.8z M589.4,846.1l-1.6,0.3 -2-0.3 -1-0.4 -1-0.7 -0.8-1 -0.7-1.6 -0.9-5 -0.7-26 0.3-3.4 -0.1-15 0.3-24.6 -0.3-3 0-10.4 -0.5-3 -0.4-6 -0.5-3.6 0-8.4 -0.2-2.6 0.8-4.4 0.9-3 0.8-0.8 2-0.7 5.6-0.4 3.4,0.1 5.6,0.5 4,0.8 9.4,0.1 2.6-0.5 3.4-0.1 6-1.1 2.6-0.2 2-0.4 2.4-0.2 2-0.4 2.6-0.2 6.4-1 5.6-0.2 2.4-0.4 2-0.1 2.6,0.1 2.4,0.4 2.6,0.1 4,0.9 4.4,1.6 3.8,2.1 1.9,1.4 1.1,1.6 0.4,1.4 -0.2,3 -1.5,4 -1.3,2.6 -3.2,3.6 -1.4,1.4 -1,0.6 -1,0.3 -5.6,0.7 -13.4,2.6 -8,1.2 -8,0.6 -9.6-0.1 -4,0.3 -2,0.6 -2,0.9 -5.4,3.3 -3,1.5 -0.6,0.5 -2.1,5 -0.4,2 -0.3,2.4 -0.2,44 -0.2,9 -1.8,5.9 -2.2,9.1 -1.9,6 -1.3,3.1 -1.3,1.9 -1.2,1 -1.5,0.7z M615.9,777.1l-1,0.1 -1-0.2 -1-0.9 -0.5-1.1 -0.1-1.6 0.3-1 0.9-1 1-0.5 1.4,0 0.9,0.5 0.8,1 0.3,1 0,1 -0.4,1.4 -0.6,0.7 -1,0.6z M589.4,844.5l-1.6,0.3 -1.4-0.1 -1-0.5 -0.9-0.8 -0.9-2 -0.8-4.4 -1-25.6 0.2-3.4 -0.1-14.6 0.6-25.4 -0.4-3 0-10 -0.5-3 -0.5-6.6 -0.4-2.4 -0.1-3.6 0.1-5.4 -0.2-3 0.9-4 0.7-2 0.7-0.7 1.6-0.5 5.4-0.5 3.6,0.2 4.4,0.5 3,0.7 2,0.3 4.6,0.2 4.4-0.1 2.6-0.5 4-0.2 6-1.1 18-2.6 5.4-0.2 2.6-0.4 1.4,0 2.6,0 4.4,0.6 3.6,0.7 5,1.8 3.4,2 1.7,1.2 0.7,1 0.3,1.6 -0.1,2 -1.2,3.4 -1.3,2.6 -2.1,2.4 -1.4,1.1 -7.6,1.5 -11,2.6 -9.4,1.6 -9,0.7 -10.6-0.5 -4,0.3 -3.4,1.1 -6,3.2 -3.6,1.2 -0.4,0.3 -3.3,7.9 -0.6,2.6 -0.2,2.4 0.7,36.6 -0.1,11 -0.4,7.4 -2.2,9.6 -2.5,8.4 -1.4,3 -0.9,1.6 -1,1 -1.1,0.5z M588.9,841.0l-1-0.4 -1.3-1.2 -1.1-1.9 -0.6-1.3 -0.4-2.7 -0.6-4.5 -0.8-13 -0.2-4.6 0.2-3 -0.1-14.4 0.8-26 -0.3-3 0-10 -0.6-3.6 -0.6-6 -0.4-2.4 -0.2-4.6 0.1-7.4 0.9-3.6 0.6-1.4 0.6-0.6 1.5-0.4 4.5-0.4 5.1,0.4 2.7,0.4 1.4,0.6 1.3,1 1.1,1.4 4.4,8.4 1.6,2.1 0.4,0 3.2-3.9 2.8-3 2.3-2 2.7-2 2.4-1.6 2.3-1 5.9-1.4 13-2.1 5.4-0.2 3-0.3 3,0 5,0.6 4,1 3.7,1.4 3.3,2 1.5,1.6 0.3,1.4 -0.2,1.6 -0.6,1.2 -1.2,1.8 -2.7,2 -3,1.4 -9.4,3.6 -6.1,1.6 -6,1.2 -6,0.7 -6,0.3 -4.6-0.5 -13.4-1.9 -2-0.6 -1.5-0.8 -1.1-0.9 -0.4,0 -4.5,5.3 -3.5,3 -1,2.7 -2.7,5.9 -0.7,2.4 -0.3,3 0.2,5 1.7,19 0.6,11 0,12.6 -0.8,11.3 -0.6,3.7 -1,4.9 -2,6.3 -1,2.3 -1,1.5 -1,0.8 -1,0.2z M640.4,742.0l-4,0.3 -4,0.1 -3-0.3 -2.7-0.7 -2.3-1 -1.9-1.4 -0.6-1.6 0.2-1.4 0.7-1.6 1.6-1.8 1.9-1.6 2.2-1.6 2.9-1.4 3-1.2 3-1 3.4-0.8 3.6-0.6 3-0.2 3,0.1 2.4,0.2 2.6,0.6 2.1,0.9 1.5,1 1.4,1.4 0.4,1 0.2,1 -0.4,2 -1.4,2 -2.4,2 -3.6,2 -3.8,1.5 -4,1.1 -5,1z M588.9,754.5l-1-0.2 -1-1.1 -1.4-2.5 -1-2.3 -1.4-6 -0.2-3 0-3 0.7-4 0.6-1.4 1-1.6 1.3-1.2 1-0.8 1.4-0.6 1.6-0.1 2,0.4 1.4,0.7 1.6,1.2 1.2,1.4 1.2,2 0.8,2 0.5,2.6 0.1,2 -0.3,2 -0.5,1.4 -1.6,2.6 -1.5,3 -1.5,2 -2.4,2.7 -1.6,1.4 -1,0.4z M589.9,829.1l-1,0 -1-0.7 -1-1.4 -1.1-2.6 -0.9-3.1 -0.3-2.3 -0.7-7.6 0.1-18.4 0.5-10.3 0.4-6.8 0.6-4.2 1-4.1 1-2.2 0.4-0.5 0.6-0.1 0.4,0.3 0.6,0.6 1.4,3.5 1,3.4 1.4,5.8 1,5.6 0.7,5.4 0.7,11 -0.2,10.6 -0.5,5 -0.6,4 -0.9,3.7 -1,2.7 -1,1.6 -0.6,0.6 -1,0.5z M640.9,739.0l-4.4,0.3 -2-0.2 -1.6-0.4 -1-0.5 -0.9-0.8 -0.4-1 0.1-1 0.5-1 0.7-0.8 2.2-1.6 3.1-1.6 3.4-1 3.8-0.4 3.1,0.1 2.4,0.7 1.7,1.2 0.4,1 0,1 -0.8,1.4 -1,1 -1.4,1 -2.3,1.2 -2.8,0.8 -2.8,0.6z M590.9,746.6l-1,0.2 -1-0.1 -1-0.6 -0.6-0.7 -0.8-1.3 -0.6-1.2 -0.4-1.9 -0.2-1.6 0.2-3 0.5-1.4 0.8-1.6 0.7-0.8 1-0.8 1-0.5 1-0.1 1,0.1 1,0.4 1.5,1.3 0.7,1 0.7,1.4 0.4,2.6 -0.4,2.4 -1.5,3.4 -1.4,1.9 -1.6,0.9z M589.4,821.5l-1-0.7 -1-1.4 -1.3-4 -0.8-5 -0.4-8 0.2-8.4 0.7-7.1 0.7-2.9 0.9-2.5 0.4-0.8 0.6-0.5 0.4-0.2 0.6,0.2 0.4,0.4 1,1.6 1.6,4.7 1.1,7.1 0.5,8 -0.2,7.4 -1,6.4 -0.6,2.2 -0.8,2 -1,1.2 -1,0.3z" stroke="#3a3a3a" stroke-width="0.9" fill="none"/>
<path d="M679.8,745.0h1.3M660.4,812.5h1.3M664.5,781.2h1.3M623.2,838.2h1.3M679.9,753.1h1.3M601.4,847.4h1.3M621.8,838.3h1.3M638.6,846.7h1.3M665.0,808.4h1.3M680.0,796.7h1.3M662.7,792.4h1.3M565.6,825.2h1.3M662.7,823.7h1.3M570.2,843.7h1.3M676.3,874.8h1.3M646.7,713.4h1.3M664.5,789.6h1.3M680.2,769.0h1.3M666.5,804.3h1.3M634.1,839.8h1.3M661.4,714.8h1.3M562.7,854.5h1.3M666.0,802.3h1.3M667.5,765.2h1.3M618.6,699.4h1.3M672.8,814.9h1.3M679.6,804.7h1.3M680.5,742.3h1.3M624.2,835.0h1.3M658.7,819.5h1.3M637.3,869.1h1.3M654.0,842.8h1.3M678.0,771.4h1.3M675.8,780.7h1.3M574.3,817.6h1.3M573.0,844.9h1.3M574.2,718.7h1.3M694.1,841.7h1.3M682.1,747.4h1.3M601.4,845.8h1.3M658.8,834.5h1.3M654.8,842.0h1.3M665.4,793.5h1.3M570.2,845.3h1.3M586.6,705.2h1.3M570.6,765.4h1.3M642.7,846.8h1.3M591.9,710.1h1.3M673.5,755.2h1.3M664.2,806.4h1.3M645.7,714.7h1.3M562.4,783.9h1.3M666.9,776.6h1.3M617.0,716.5h1.3M677.6,796.4h1.3M644.3,840.5h1.3M673.5,844.9h1.3M573.9,732.7h1.3M668.6,785.2h1.3M667.6,770.1h1.3M683.0,749.8h1.3M661.9,714.0h1.3M637.6,860.4h1.3M643.8,841.5h1.3M570.4,802.9h1.3M663.6,821.9h1.3M620.1,846.4h1.3M633.9,841.7h1.3M647.6,845.5h1.3M682.7,827.5h1.3M663.8,804.1h1.3M681.3,765.6h1.3M592.5,853.0h1.3M545.3,852.9h1.3M619.5,830.8h1.3M675.0,777.5h1.3M574.5,782.0h1.3M665.9,782.8h1.3M661.3,813.0h1.3M668.8,771.2h1.3M677.6,707.1h1.3M665.4,762.9h1.3M612.0,828.3h1.3M661.9,824.9h1.3M575.6,716.9h1.3M600.3,717.4h1.3M653.7,839.5h1.3M572.5,839.5h1.3M666.3,822.2h1.3M681.8,744.4h1.3M652.4,836.2h1.3M562.4,731.0h1.3M647.2,838.2h1.3M674.4,798.4h1.3M612.1,830.6h1.3M603.1,705.1h1.3M658.6,803.1h1.3M642.7,843.4h1.3M673.6,755.4h1.3M674.4,750.8h1.3M682.9,733.6h1.3M670.1,783.3h1.3M641.3,848.2h1.3M672.2,788.1h1.3M684.7,794.8h1.3M635.5,868.4h1.3M570.9,731.5h1.3M660.6,852.9h1.3M680.4,743.6h1.3M606.1,859.2h1.3M654.4,853.5h1.3M667.1,825.0h1.3M561.0,786.3h1.3M618.9,842.1h1.3M688.2,720.9h1.3M631.3,839.5h1.3M607.2,839.3h1.3M582.1,853.5h1.3M605.6,832.0h1.3M672.3,799.3h1.3M599.2,854.3h1.3M663.6,786.4h1.3M671.2,819.8h1.3M619.8,840.3h1.3M596.8,850.1h1.3M588.6,858.0h1.3M661.6,830.3h1.3M668.5,763.3h1.3M668.9,826.0h1.3M596.2,715.8h1.3M661.4,789.1h1.3M575.8,842.0h1.3M677.7,815.0h1.3M568.9,840.6h1.3M610.2,832.5h1.3M659.6,821.1h1.3M572.8,787.2h1.3M575.1,844.1h1.3M690.2,742.5h1.3M546.5,843.9h1.3M663.9,782.8h1.3M674.6,792.4h1.3M702.8,750.2h1.3M577.1,848.9h1.3M587.2,855.0h1.3M570.3,740.0h1.3M673.5,761.8h1.3M614.4,833.2h1.3M659.5,864.4h1.3M669.8,783.9h1.3M676.0,790.4h1.3M676.1,779.6h1.3M674.2,790.0h1.3M573.2,845.9h1.3M609.5,871.4h1.3M573.4,749.6h1.3M661.2,799.1h1.3M670.4,768.1h1.3M571.2,793.0h1.3M635.9,848.4h1.3M611.7,825.8h1.3M648.2,855.4h1.3M675.8,711.2h1.3M680.5,774.8h1.3M683.5,728.9h1.3M661.7,817.2h1.3M663.9,805.1h1.3M668.3,829.8h1.3M648.7,840.2h1.3M569.2,846.7h1.3M657.9,840.6h1.3M651.1,837.6h1.3M537.0,842.7h1.3M676.2,752.9h1.3M580.0,858.0h1.3M679.5,778.6h1.3M565.4,771.1h1.3M607.0,856.9h1.3M665.1,782.2h1.3M661.4,848.4h1.3M613.8,830.9h1.3M631.0,842.3h1.3M608.4,712.6h1.3M618.8,833.6h1.3M604.2,848.3h1.3M668.6,760.2h1.3M689.0,727.1h1.3M620.2,834.3h1.3M675.5,753.1h1.3M606.3,835.3h1.3M671.7,795.6h1.3M669.3,759.6h1.3M610.5,832.5h1.3M569.3,846.8h1.3M677.3,743.6h1.3M664.1,771.4h1.3M570.2,832.1h1.3M601.9,841.6h1.3M590.0,864.9h1.3M664.2,827.3h1.3M635.3,844.0h1.3M670.6,762.2h1.3M656.2,828.7h1.3M633.6,858.3h1.3M603.6,839.5h1.3M572.7,854.6h1.3M623.5,844.6h1.3M674.3,814.8h1.3M610.1,846.5h1.3M666.9,778.5h1.3M639.7,857.9h1.3M641.2,841.1h1.3M684.2,755.3h1.3M660.7,808.6h1.3M680.4,751.8h1.3M581.3,713.9h1.3M670.3,823.7h1.3M610.5,830.2h1.3M569.4,760.3h1.3M605.3,716.6h1.3M614.0,832.6h1.3M673.9,789.6h1.3M700.4,755.7h1.3M575.5,800.7h1.3M677.4,787.9h1.3M661.9,804.1h1.3M571.7,739.6h1.3M670.0,791.3h1.3M687.5,726.4h1.3M568.1,760.2h1.3M619.3,841.6h1.3M663.2,851.3h1.3M564.6,841.0h1.3M577.8,852.4h1.3M668.1,758.2h1.3M587.0,714.2h1.3M567.0,880.8h1.3M664.0,773.4h1.3M661.4,837.7h1.3M662.6,812.6h1.3M668.4,795.1h1.3M666.3,709.3h1.3M599.7,709.6h1.3M587.5,879.1h1.3M572.8,761.1h1.3M660.1,815.8h1.3M640.9,844.1h1.3M619.7,838.1h1.3M679.2,753.5h1.3M604.3,848.3h1.3M575.8,713.5h1.3M661.6,832.4h1.3M669.3,776.9h1.3M692.4,808.3h1.3M643.3,841.3h1.3M566.7,835.7h1.3M598.4,717.7h1.3M643.1,714.5h1.3M675.9,751.8h1.3M642.2,848.0h1.3M579.4,717.7h1.3M649.8,864.3h1.3M664.3,776.5h1.3M572.4,785.4h1.3M661.2,807.4h1.3M674.8,762.2h1.3M681.1,813.7h1.3M659.6,820.5h1.3M681.7,727.9h1.3M668.3,806.1h1.3M674.3,774.9h1.3M665.5,850.0h1.3M665.2,836.4h1.3M669.2,717.1h1.3M572.4,816.0h1.3M662.8,808.0h1.3M660.7,868.4h1.3M610.0,830.3h1.3M602.7,846.2h1.3M560.7,742.8h1.3M669.3,793.1h1.3M688.5,768.1h1.3M612.4,844.9h1.3M612.7,836.9h1.3M587.6,863.4h1.3M667.3,808.2h1.3M668.7,764.2h1.3M641.1,712.4h1.3M718.1,748.7h1.3M566.9,840.0h1.3M571.4,719.5h1.3M648.2,846.7h1.3M659.5,702.0h1.3M670.1,813.9h1.3M652.2,838.5h1.3M619.9,838.1h1.3M684.3,816.5h1.3M679.4,782.6h1.3M685.3,743.3h1.3M594.1,855.5h1.3M665.6,785.0h1.3M658.6,825.3h1.3M675.4,767.3h1.3M662.4,782.4h1.3M557.6,871.2h1.3M575.2,778.4h1.3M563.3,833.2h1.3M668.6,779.7h1.3M600.0,715.8h1.3M588.9,716.7h1.3M682.1,758.8h1.3M661.0,803.3h1.3M573.4,865.1h1.3M615.4,854.0h1.3M665.3,813.5h1.3M665.6,815.5h1.3M576.0,779.2h1.3M618.1,827.4h1.3M597.6,850.8h1.3M571.6,833.8h1.3M586.2,714.7h1.3M619.5,834.1h1.3M568.1,841.8h1.3M663.7,834.0h1.3M604.8,869.8h1.3M608.6,851.1h1.3M586.4,856.7h1.3M653.2,842.3h1.3M583.7,858.4h1.3M583.9,854.1h1.3M575.3,807.9h1.3M678.6,758.7h1.3M633.1,840.3h1.3M571.8,777.9h1.3M575.9,714.1h1.3M565.7,852.5h1.3M678.9,766.9h1.3M663.9,779.5h1.3M667.1,812.5h1.3M682.3,739.4h1.3M574.4,846.7h1.3M664.5,772.5h1.3M614.1,711.9h1.3M685.2,800.2h1.3M679.5,752.4h1.3M660.1,850.3h1.3M679.4,783.5h1.3M673.3,766.8h1.3M574.0,786.3h1.3M581.6,867.9h1.3M629.2,715.1h1.3M584.0,863.1h1.3M672.5,751.0h1.3M664.1,810.8h1.3M657.9,855.3h1.3M566.8,858.1h1.3M644.5,864.4h1.3M663.3,829.2h1.3M662.8,842.6h1.3M615.1,839.2h1.3M660.9,846.4h1.3M676.8,822.7h1.3M674.8,748.4h1.3M571.2,709.9h1.3M724.8,846.5h1.3M673.0,791.4h1.3M656.1,713.1h1.3M615.5,711.7h1.3M641.6,854.4h1.3M664.8,810.9h1.3M630.1,856.4h1.3M620.6,846.5h1.3M561.0,726.4h1.3M626.7,844.9h1.3M661.8,800.1h1.3M668.5,811.3h1.3M666.0,819.2h1.3M606.7,833.2h1.3M571.8,734.5h1.3M572.2,729.4h1.3M663.9,815.4h1.3M660.3,803.0h1.3M668.4,839.7h1.3M680.7,763.5h1.3M605.1,843.9h1.3M616.6,835.4h1.3M661.4,803.1h1.3M633.5,841.2h1.3M574.6,870.5h1.3M573.8,726.2h1.3M696.3,747.9h1.3M596.7,857.1h1.3M641.1,855.2h1.3M668.0,777.2h1.3M575.7,847.7h1.3M563.4,837.0h1.3M660.4,800.8h1.3M660.9,792.5h1.3M652.5,848.2h1.3M659.7,805.1h1.3M651.9,852.2h1.3M649.5,712.0h1.3M568.5,854.2h1.3M583.7,857.9h1.3M559.3,835.2h1.3M568.7,735.0h1.3M681.2,760.7h1.3M675.8,862.5h1.3M592.4,854.3h1.3M664.8,834.7h1.3M668.8,859.6h1.3M612.4,854.6h1.3M568.4,830.9h1.3M664.1,834.3h1.3M580.1,865.2h1.3M571.3,830.7h1.3M611.2,827.4h1.3M610.2,851.1h1.3M610.5,716.9h1.3M606.4,847.5h1.3M573.8,743.8h1.3M666.3,849.2h1.3M579.9,857.8h1.3M674.7,834.5h1.3M619.4,834.1h1.3M613.4,826.1h1.3M571.3,744.3h1.3M670.4,786.7h1.3M577.4,718.3h1.3M601.1,842.8h1.3M649.7,838.7h1.3M671.7,760.0h1.3M601.9,842.6h1.3M674.2,754.9h1.3M677.9,713.7h1.3M575.1,779.4h1.3M670.9,758.1h1.3M568.0,805.0h1.3M666.8,771.5h1.3M644.6,841.6h1.3M676.8,811.7h1.3M682.8,728.2h1.3M667.3,785.2h1.3M677.6,826.5h1.3M666.5,787.9h1.3M652.8,836.2h1.3M660.8,812.3h1.3M664.2,813.9h1.3M672.8,768.4h1.3M680.3,719.1h1.3M607.9,829.6h1.3M650.4,845.0h1.3M565.1,836.5h1.3M621.4,844.9h1.3M612.1,826.3h1.3M632.9,843.7h1.3M658.7,847.0h1.3M670.5,755.5h1.3M661.2,821.4h1.3M670.2,754.4h1.3M639.3,839.4h1.3M681.4,744.8h1.3M578.8,851.3h1.3M656.5,860.9h1.3M635.7,838.7h1.3M567.6,844.6h1.3M661.4,796.8h1.3M697.3,785.2h1.3M659.7,818.3h1.3M683.2,737.1h1.3M689.4,729.7h1.3M565.4,835.9h1.3M579.4,713.5h1.3M569.5,728.5h1.3M672.2,755.0h1.3M581.6,859.8h1.3M670.0,809.5h1.3M588.4,857.1h1.3M668.0,812.4h1.3M659.1,861.6h1.3M656.4,830.2h1.3M662.1,833.6h1.3M560.8,820.0h1.3M639.2,710.1h1.3M668.3,789.3h1.3M577.2,716.4h1.3M661.9,806.9h1.3M690.3,745.2h1.3M643.9,843.2h1.3M664.7,771.9h1.3M654.2,853.8h1.3M635.4,840.7h1.3M666.9,765.4h1.3M663.6,821.8h1.3M695.8,802.4h1.3M587.3,709.0h1.3M632.5,714.6h1.3M581.8,854.4h1.3M661.0,831.3h1.3M584.6,859.7h1.3M567.8,858.7h1.3M648.8,841.1h1.3M628.4,711.6h1.3M617.5,832.1h1.3M575.2,849.0h1.3M575.7,845.1h1.3M660.0,825.6h1.3M717.8,778.6h1.3M630.1,841.3h1.3M666.2,810.3h1.3M668.0,707.2h1.3M564.3,846.7h1.3M684.4,759.8h1.3M669.4,833.5h1.3M568.3,803.4h1.3M664.4,796.8h1.3M674.2,783.9h1.3M571.9,853.5h1.3M597.2,853.4h1.3M667.8,758.0h1.3M653.9,843.7h1.3M610.1,855.3h1.3M667.4,774.0h1.3M684.8,764.7h1.3M677.6,753.6h1.3M573.3,747.8h1.3M651.5,710.2h1.3M671.1,785.1h1.3M579.3,861.9h1.3M681.6,824.4h1.3M664.5,842.9h1.3M674.4,764.8h1.3M618.3,834.6h1.3M693.5,808.3h1.3M654.6,833.5h1.3M676.4,747.1h1.3M574.1,843.1h1.3M589.7,864.6h1.3M630.8,843.8h1.3M679.2,722.9h1.3M673.0,750.5h1.3M616.8,829.6h1.3M667.5,764.2h1.3M574.6,806.5h1.3M666.9,769.4h1.3M681.6,741.4h1.3M697.2,779.2h1.3M635.2,846.3h1.3M556.1,841.5h1.3M675.4,748.2h1.3M666.7,803.9h1.3M574.4,794.1h1.3M591.0,854.2h1.3M673.4,771.3h1.3M573.1,781.3h1.3M573.1,809.9h1.3M605.0,852.4h1.3M572.0,729.7h1.3M624.3,716.4h1.3M686.6,736.0h1.3M675.7,784.4h1.3M683.7,715.0h1.3M652.3,838.7h1.3M659.8,807.0h1.3M605.8,840.9h1.3M592.2,868.1h1.3M570.0,841.7h1.3M572.2,842.5h1.3M615.1,831.8h1.3M643.3,843.2h1.3M674.2,807.5h1.3M665.3,766.1h1.3M625.3,835.7h1.3M606.7,842.7h1.3M588.8,862.6h1.3M574.1,793.7h1.3M660.3,861.6h1.3M616.8,835.0h1.3M624.5,848.8h1.3M572.0,842.6h1.3M574.7,839.3h1.3M670.8,807.5h1.3M647.5,841.1h1.3M665.9,786.8h1.3M610.9,832.7h1.3M573.8,832.5h1.3M682.8,823.5h1.3M663.6,820.2h1.3M587.0,859.1h1.3M656.7,828.3h1.3M545.2,847.7h1.3M593.3,704.5h1.3M584.7,716.5h1.3M672.4,761.6h1.3M569.4,843.1h1.3M621.2,835.7h1.3M567.8,731.6h1.3M662.3,712.6h1.3M671.2,818.0h1.3M668.1,844.8h1.3M578.6,862.9h1.3M612.0,837.7h1.3M659.9,800.1h1.3M681.8,757.1h1.3M660.7,800.3h1.3M667.3,772.5h1.3M594.9,853.7h1.3M575.4,850.8h1.3M670.6,755.0h1.3M570.8,840.0h1.3M619.5,851.8h1.3M676.8,754.9h1.3M665.8,791.9h1.3M575.8,782.8h1.3M668.5,783.1h1.3M623.5,839.8h1.3M575.0,854.7h1.3M660.7,795.5h1.3M667.4,822.1h1.3M601.3,847.4h1.3M663.7,825.4h1.3M674.9,819.4h1.3M632.8,848.2h1.3M662.0,831.5h1.3M641.3,840.1h1.3M567.5,743.3h1.3M568.7,728.9h1.3M572.2,725.1h1.3M574.0,851.1h1.3M572.8,820.4h1.3M571.5,777.7h1.3M728.2,744.4h1.3M664.2,794.4h1.3M593.1,717.0h1.3M630.4,847.3h1.3M637.6,844.5h1.3M617.7,827.5h1.3M665.9,815.5h1.3M676.9,746.6h1.3M601.8,845.3h1.3M677.9,785.7h1.3M611.0,715.9h1.3M661.9,712.5h1.3M668.0,792.5h1.3M607.0,843.6h1.3M657.8,824.9h1.3M652.6,841.2h1.3" stroke="#000" stroke-width="1.3" fill="none"/>
<path d="M568.4,855.1h1.3M667.7,843.4h1.3M569.8,825.2h1.3M665.4,836.4h1.3M570.2,836.1h1.3M597.5,850.7h1.3M688.3,759.6h1.3M591.8,856.3h1.3M668.8,845.5h1.3M664.1,820.3h1.3M663.1,840.0h1.3M691.9,750.5h1.3M662.9,809.9h1.3M582.2,862.9h1.3M668.5,797.9h1.3M666.5,806.0h1.3M684.2,741.9h1.3M604.0,713.9h1.3M630.7,838.1h1.3M640.4,842.4h1.3M672.7,818.1h1.3M614.1,829.7h1.3M563.6,843.3h1.3M574.1,847.8h1.3M570.9,852.8h1.3M656.4,844.7h1.3M685.6,720.2h1.3M677.2,835.8h1.3M666.6,839.8h1.3M657.1,711.9h1.3M574.7,838.3h1.3M574.8,824.7h1.3M658.1,820.6h1.3M668.6,816.1h1.3M598.8,858.6h1.3M633.7,850.0h1.3M606.2,838.5h1.3M622.3,850.6h1.3M660.6,793.3h1.3M662.0,803.6h1.3M685.3,755.8h1.3M683.2,750.6h1.3M669.5,801.1h1.3M673.3,757.9h1.3M686.7,752.0h1.3M617.5,834.6h1.3M670.3,816.1h1.3M587.9,853.8h1.3M606.6,830.3h1.3M572.6,731.6h1.3M571.1,733.1h1.3M631.5,837.6h1.3M673.8,715.5h1.3M588.5,855.1h1.3M615.3,713.5h1.3M681.4,769.7h1.3M663.8,706.1h1.3M601.3,845.0h1.3M666.4,763.0h1.3M575.3,793.9h1.3M693.9,746.9h1.3M572.6,780.3h1.3M657.9,832.0h1.3M638.6,841.2h1.3M649.6,845.1h1.3M655.9,838.8h1.3M573.8,832.5h1.3M662.1,804.1h1.3M667.1,835.4h1.3M669.6,816.4h1.3M675.0,754.1h1.3M660.8,790.8h1.3M678.4,753.2h1.3M603.5,874.6h1.3M623.5,714.0h1.3M660.8,834.7h1.3M572.7,824.5h1.3M613.3,831.2h1.3M570.9,729.8h1.3M686.6,741.7h1.3M575.8,799.0h1.3M656.0,713.3h1.3M582.8,853.2h1.3M687.8,756.4h1.3M697.8,784.2h1.3M659.8,855.6h1.3M636.3,853.0h1.3M658.3,833.9h1.3M674.2,833.7h1.3M575.1,830.9h1.3M649.3,840.7h1.3M680.2,749.8h1.3M643.2,842.6h1.3M635.9,852.0h1.3M651.6,844.7h1.3M692.6,744.8h1.3M598.5,849.2h1.3M615.0,850.7h1.3M678.2,871.0h1.3M676.3,809.1h1.3M682.4,746.6h1.3M573.8,835.3h1.3M659.0,812.9h1.3M613.3,855.6h1.3M571.9,841.5h1.3M681.9,735.9h1.3M610.1,840.6h1.3M662.4,797.6h1.3M631.3,846.4h1.3M680.7,742.1h1.3M625.6,836.2h1.3M654.2,856.0h1.3M603.2,846.5h1.3M683.0,730.6h1.3M635.6,842.9h1.3M660.3,848.2h1.3M563.4,737.3h1.3M605.4,837.0h1.3M629.6,843.0h1.3M579.6,851.8h1.3M667.6,816.8h1.3M577.6,864.4h1.3M658.1,841.5h1.3M662.8,830.0h1.3M607.0,834.7h1.3M574.2,790.7h1.3M639.2,843.7h1.3M608.2,868.0h1.3M660.0,849.2h1.3M685.2,754.4h1.3M633.2,847.1h1.3M644.9,841.3h1.3M575.8,844.4h1.3M574.8,847.7h1.3M666.0,789.4h1.3M602.6,843.6h1.3M692.8,785.8h1.3M594.6,854.6h1.3M665.1,831.3h1.3M669.4,767.0h1.3M605.9,846.8h1.3M664.8,772.6h1.3M575.2,830.8h1.3M682.8,731.8h1.3M667.0,761.6h1.3M596.1,863.7h1.3M668.3,765.4h1.3M678.8,845.6h1.3M576.1,851.9h1.3M675.6,720.3h1.3M590.5,857.8h1.3M618.8,830.1h1.3M653.0,836.0h1.3M661.5,812.9h1.3M590.4,857.5h1.3M680.0,767.0h1.3M669.3,774.0h1.3M681.3,785.5h1.3M666.4,837.3h1.3M669.8,789.5h1.3M671.9,774.6h1.3M652.7,713.3h1.3M576.6,716.1h1.3M634.3,839.8h1.3M666.3,768.6h1.3M679.5,831.1h1.3M585.0,854.1h1.3M660.9,790.8h1.3M647.5,844.5h1.3M670.4,828.6h1.3M599.2,705.9h1.3M614.9,834.6h1.3M659.9,856.4h1.3M661.3,806.5h1.3M575.6,811.9h1.3M657.9,843.1h1.3M619.7,830.5h1.3M622.4,834.5h1.3M669.8,829.9h1.3M662.8,841.5h1.3M689.7,752.5h1.3M627.3,835.4h1.3M669.9,845.1h1.3M625.7,708.6h1.3M636.5,839.0h1.3M622.9,843.0h1.3M588.0,853.6h1.3M664.3,812.0h1.3M663.4,829.8h1.3M664.9,835.0h1.3M568.9,775.1h1.3M665.5,767.8h1.3M670.1,785.3h1.3M663.6,784.2h1.3M616.7,828.7h1.3M681.2,762.3h1.3M574.6,788.7h1.3M673.5,756.7h1.3M678.0,742.5h1.3M661.7,846.8h1.3M576.7,847.3h1.3M672.8,759.1h1.3M664.1,828.9h1.3M569.8,816.0h1.3M575.9,797.5h1.3M621.5,715.4h1.3M698.1,830.7h1.3M576.3,844.7h1.3M657.6,855.6h1.3M589.1,869.4h1.3M648.6,865.9h1.3M602.3,855.8h1.3M572.1,762.8h1.3M661.7,817.3h1.3M670.8,771.2h1.3M574.4,835.7h1.3M553.5,852.5h1.3M685.2,723.1h1.3M648.9,848.3h1.3M604.2,851.6h1.3M673.5,832.0h1.3M568.0,844.3h1.3M683.6,812.9h1.3M674.8,750.0h1.3M562.4,871.2h1.3M634.6,842.2h1.3M640.2,849.1h1.3M658.7,713.5h1.3M612.2,828.8h1.3M596.2,861.2h1.3M670.2,760.1h1.3M671.6,815.5h1.3M603.9,846.1h1.3M677.2,821.7h1.3M646.4,843.6h1.3M676.4,751.4h1.3M616.4,828.6h1.3M692.5,750.5h1.3M593.6,853.2h1.3M700.6,787.5h1.3M663.3,810.5h1.3M662.7,829.7h1.3M647.0,847.4h1.3M587.1,855.3h1.3M660.4,833.1h1.3M662.2,823.2h1.3M608.1,828.6h1.3M661.4,811.6h1.3M682.9,741.3h1.3M670.6,755.6h1.3M573.9,833.1h1.3M675.4,801.5h1.3M672.1,750.6h1.3M677.9,722.0h1.3M642.9,844.6h1.3M605.1,835.2h1.3M669.4,815.6h1.3M574.7,836.0h1.3M649.3,843.7h1.3M693.5,788.5h1.3M574.3,765.0h1.3M658.1,833.6h1.3M675.4,767.8h1.3M568.1,720.9h1.3M692.2,755.9h1.3M679.6,752.4h1.3M614.7,826.5h1.3M665.0,710.0h1.3M610.8,830.9h1.3M662.1,808.8h1.3M671.8,769.1h1.3M666.4,774.9h1.3M602.5,844.7h1.3M665.3,768.3h1.3M695.9,762.0h1.3M683.1,748.1h1.3M684.4,730.6h1.3M660.7,850.0h1.3M668.2,766.9h1.3M669.3,796.9h1.3M650.9,839.0h1.3M663.7,838.2h1.3M568.7,760.2h1.3M571.2,771.2h1.3M683.1,735.1h1.3M695.5,743.4h1.3M702.5,761.3h1.3M611.9,835.4h1.3M627.5,839.8h1.3M632.1,851.3h1.3M668.6,792.1h1.3M575.0,783.2h1.3M663.0,788.3h1.3M656.9,828.1h1.3M604.5,837.6h1.3M661.6,812.7h1.3M637.8,715.1h1.3M649.0,856.7h1.3M664.8,823.2h1.3M670.3,800.1h1.3M700.2,730.4h1.3M673.1,771.8h1.3M602.2,854.9h1.3M645.4,848.0h1.3M670.2,791.1h1.3M568.2,822.3h1.3M635.1,839.1h1.3M663.1,787.3h1.3M569.2,753.2h1.3M663.2,786.1h1.3M635.1,839.5h1.3M663.7,840.9h1.3M665.1,782.8h1.3M566.3,869.0h1.3M623.4,835.9h1.3M666.9,828.6h1.3M671.2,798.7h1.3M617.6,830.0h1.3M682.5,738.1h1.3M572.4,710.6h1.3M660.1,714.2h1.3M657.3,824.3h1.3M634.0,849.9h1.3M661.8,800.2h1.3M672.2,755.0h1.3M655.5,856.8h1.3M608.2,837.0h1.3M649.7,710.0h1.3M573.3,844.4h1.3M665.9,832.8h1.3M574.6,845.1h1.3M610.0,826.5h1.3M619.2,851.3h1.3M670.4,792.1h1.3M615.2,850.9h1.3M664.8,787.1h1.3M665.0,787.5h1.3M572.6,847.4h1.3M678.8,722.0h1.3M675.3,861.2h1.3M572.4,798.2h1.3M681.8,844.1h1.3M607.8,865.7h1.3M628.0,848.1h1.3M664.3,782.8h1.3M575.6,826.2h1.3M643.2,839.7h1.3M683.6,736.5h1.3M660.0,831.4h1.3M665.7,828.3h1.3M645.4,849.8h1.3M660.2,832.8h1.3M681.6,845.8h1.3M586.6,714.2h1.3M571.1,853.5h1.3M609.6,849.3h1.3M663.7,828.3h1.3M674.0,703.8h1.3M676.5,778.7h1.3M573.6,837.7h1.3M628.7,839.4h1.3M574.9,846.9h1.3M662.1,812.8h1.3M628.7,715.2h1.3M601.7,851.8h1.3M659.4,833.4h1.3M643.1,864.6h1.3M681.0,724.5h1.3M665.8,792.6h1.3M651.5,712.4h1.3M618.5,840.2h1.3M570.4,845.9h1.3M578.1,853.4h1.3M598.4,850.9h1.3M565.9,839.0h1.3M628.7,840.9h1.3M568.2,833.6h1.3M623.8,843.0h1.3M668.4,806.3h1.3M622.8,835.0h1.3M561.4,739.9h1.3M677.2,820.0h1.3M667.8,803.7h1.3M611.8,827.4h1.3M665.5,790.0h1.3M593.6,852.6h1.3M573.8,821.8h1.3M612.6,847.2h1.3M594.1,854.5h1.3M621.2,835.3h1.3M676.9,752.9h1.3M667.1,841.5h1.3M659.9,846.9h1.3M690.2,792.7h1.3M658.9,823.8h1.3M616.6,834.2h1.3M559.7,833.5h1.3M713.4,816.2h1.3M619.0,857.5h1.3M604.4,836.2h1.3M664.4,783.4h1.3M654.5,841.4h1.3M662.1,802.3h1.3M628.5,854.4h1.3M595.6,713.2h1.3M607.6,832.3h1.3M663.2,715.1h1.3M648.8,842.5h1.3M629.2,843.0h1.3M658.7,824.4h1.3M607.7,847.4h1.3M658.9,811.7h1.3M603.2,840.5h1.3M666.3,711.1h1.3M658.0,708.7h1.3M657.3,835.3h1.3M571.7,725.1h1.3M665.8,779.5h1.3M661.5,828.9h1.3M587.0,860.8h1.3M564.3,836.8h1.3M567.8,871.2h1.3M677.8,754.8h1.3M682.1,750.4h1.3M598.2,853.4h1.3M609.5,829.3h1.3M664.7,830.6h1.3M715.1,821.0h1.3M601.9,714.6h1.3M576.0,792.9h1.3M621.3,831.9h1.3M577.4,847.8h1.3M574.9,825.2h1.3M701.4,806.0h1.3M597.0,850.6h1.3M660.1,813.5h1.3M676.9,841.7h1.3M627.5,839.3h1.3M672.6,811.8h1.3M648.2,844.3h1.3M660.6,807.9h1.3M671.4,755.5h1.3M665.7,768.0h1.3M596.0,715.3h1.3M609.8,842.4h1.3M669.6,808.5h1.3M665.5,855.9h1.3M607.2,836.0h1.3M664.1,791.9h1.3M673.4,752.9h1.3M604.8,712.5h1.3M659.8,838.7h1.3M609.1,842.3h1.3M628.4,839.1h1.3M603.6,839.8h1.3M680.3,743.9h1.3M608.0,852.6h1.3M676.7,744.6h1.3M684.7,740.3h1.3M659.7,823.0h1.3M662.4,791.8h1.3M699.4,751.8h1.3M675.2,804.3h1.3M649.4,843.6h1.3M679.4,722.8h1.3M654.8,834.1h1.3M674.4,757.5h1.3M700.8,745.5h1.3M566.9,768.2h1.3M651.6,838.7h1.3M680.0,781.7h1.3M612.2,861.1h1.3M600.8,717.5h1.3M680.5,787.0h1.3M668.2,799.5h1.3M662.0,795.5h1.3M643.6,847.7h1.3M656.9,842.6h1.3M685.0,856.8h1.3M584.2,858.7h1.3M669.8,827.6h1.3M681.0,800.4h1.3M663.3,712.5h1.3M660.6,795.2h1.3M609.6,839.8h1.3M613.5,835.3h1.3M559.7,854.4h1.3M570.0,855.1h1.3M566.2,843.0h1.3M666.2,803.6h1.3M643.1,839.0h1.3M680.5,723.1h1.3M576.8,850.6h1.3M600.8,851.5h1.3M636.5,856.9h1.3M658.9,820.9h1.3M659.6,809.6h1.3M620.9,834.1h1.3M664.2,801.4h1.3M632.4,840.5h1.3M680.3,745.9h1.3M684.5,757.7h1.3M681.6,838.9h1.3" stroke="#8a8a8a" stroke-width="1.3" fill="none"/>
<rect x="777.8" y="642.3" width="244.4" height="244.0" fill="none" stroke="#000" stroke-width="2.4"/>
<path d="M771.3,660.4H777.8M771.3,703.1H777.8M771.3,753.1H777.8M771.3,797.2H777.8M771.3,841.6H777.8M771.3,878.0H777.8M774.3,647.7H777.8M774.3,653.3H777.8M774.3,690.2H777.8M774.3,682.7H777.8M774.3,677.3H777.8M774.3,673.2H777.8M774.3,669.8H777.8M774.3,667.0H777.8M774.3,664.5H777.8M774.3,662.3H777.8M774.3,738.0H777.8M774.3,729.2H777.8M774.3,723.0H777.8M774.3,718.1H777.8M774.3,714.2H777.8M774.3,710.8H777.8M774.3,707.9H777.8M774.3,705.3H777.8M774.3,828.3H777.8M774.3,820.5H777.8M774.3,814.9H777.8M774.3,810.6H777.8M774.3,807.1H777.8M774.3,804.1H777.8M774.3,801.5H777.8M774.3,799.3H777.8M774.3,867.1H777.8M774.3,860.7H777.8M774.3,856.1H777.8M774.3,852.6H777.8M774.3,849.7H777.8M774.3,847.3H777.8M774.3,845.2H777.8M774.3,843.3H777.8M772.8,788.7H777.8M772.8,791.6H777.8M772.8,793.6H777.8M772.8,795.3H777.8M772.8,799.2H777.8M772.8,800.9H777.8M772.8,803.3H777.8M772.8,806.3H777.8M801.1,886.3V892.8M847.6,886.3V892.8M870.7,886.3V892.8M916.6,886.3V892.8M962.8,886.3V892.8M1003.9,886.3V892.8M884.5,886.3V889.8M892.6,886.3V889.8M898.3,886.3V889.8M902.8,886.3V889.8M906.4,886.3V889.8M909.5,886.3V889.8M912.2,886.3V889.8M914.5,886.3V889.8M930.5,886.3V889.8M938.7,886.3V889.8M944.4,886.3V889.8M948.9,886.3V889.8M952.6,886.3V889.8M955.7,886.3V889.8M958.3,886.3V889.8M960.7,886.3V889.8M975.2,886.3V889.8M982.4,886.3V889.8M987.5,886.3V889.8M991.5,886.3V889.8M994.8,886.3V889.8M997.5,886.3V889.8M999.9,886.3V889.8M1002.0,886.3V889.8M1016.7,886.3V889.8M833.6,886.3V889.8M825.4,886.3V889.8M819.6,886.3V889.8M815.1,886.3V889.8M811.5,886.3V889.8M808.3,886.3V889.8M805.6,886.3V889.8M803.3,886.3V889.8M787.5,886.3V889.8M851.1,886.3V891.8M854.8,886.3V891.8M857.2,886.3V891.8M859.7,886.3V891.8M862.1,886.3V891.8M864.6,886.3V891.8M867.0,886.3V891.8" stroke="#000" stroke-width="1.6" fill="none"/>
<path d="M800.2,798.9 L800.5,796.6 L801.0,794.1 L801.5,791.6 L802.1,789.0 L802.7,786.2 L803.4,783.4 L804.2,780.5 L805.0,777.5 L805.8,774.3 L806.5,771.0 L807.1,767.3 L807.5,763.4 L807.9,759.4 L808.4,755.5 L809.1,751.9 L809.8,748.8 L810.7,745.8 L811.7,743.1 L812.8,740.5 L814.1,737.9 L815.7,735.3 L817.5,732.6 L819.4,730.1 L821.3,728.0 L823.0,726.5 L824.7,725.7 L826.2,725.4 L827.8,725.5 L829.2,725.9 L830.7,726.5 L832.1,727.3 L833.5,728.4 L834.9,729.7 L836.1,731.2 L837.0,732.9 L837.6,734.7 L838.0,736.7 L838.2,738.9 L838.3,741.0 L838.3,743.0 L838.1,744.8 L837.6,746.6 L837.1,748.2 L836.8,750.0 L837.0,751.9 L837.8,754.0 L838.9,756.3 L840.4,758.6 L841.9,760.9 L843.4,763.4 L844.8,765.9 L846.3,768.5 L847.9,771.1 L849.4,773.7 L851.0,776.1 L852.4,778.3 L853.8,780.5 L855.3,782.6 L856.8,784.6 L858.6,786.2 L860.7,787.7 L863.0,789.1 L865.5,790.2 L867.8,791.0 L870.0,791.3 L872.0,791.0 L873.7,790.2 L875.4,789.1 L877.1,787.7 L878.9,786.2 L881.0,784.5 L883.1,782.5 L885.3,780.4 L887.4,778.2 L889.1,776.1 L890.5,774.1 L891.7,772.2 L892.7,770.2 L893.5,768.2 L894.2,765.9 L894.6,763.4 L894.8,760.8 L894.9,758.1 L895.1,755.1 L895.4,751.9 L896.0,748.2 L896.6,744.1 L897.3,739.9 L898.2,736.0 L899.2,732.9 L900.5,730.6 L901.9,728.9 L903.5,727.6 L905.1,726.6 L906.9,725.9 L908.7,725.4 L910.6,725.3 L912.7,725.4 L914.8,725.6 L917.0,725.9 L919.4,726.2 L921.9,726.6 L924.5,727.1 L927.2,727.7 L929.7,728.4 L932.4,729.1 L935.3,729.8 L938.1,730.7 L940.6,731.7 L942.4,732.9 L943.6,734.2 L944.1,735.6 L944.3,737.3 L944.3,739.3 L944.3,741.8 L944.3,744.9 L944.2,748.6 L943.9,752.7 L943.8,756.8 L943.7,760.8 L943.8,764.7 L943.8,768.6 L944.0,772.4 L944.4,776.2 L945.0,779.9 L946.0,783.4 L947.4,786.8 L948.9,790.2 L950.3,793.4 L951.3,796.4 L952.1,799.2 L952.6,801.8 L953.0,804.3 L953.2,806.7 L953.2,809.1 L953.1,811.5 L952.8,813.8 L952.3,816.1 L951.8,818.3 L951.3,820.5 L950.9,822.6 L950.4,824.6 L949.8,826.5 L949.3,828.5 L948.8,830.7 L948.3,833.1 L947.7,835.6 L947.2,838.3 L946.7,840.9 L946.2,843.4 L946.0,845.8 L945.8,848.3 L945.7,850.7 L945.5,852.9 L945.0,854.8 L944.3,856.5 L943.5,858.0 L942.5,859.2 L941.3,860.3 L939.9,861.2 L938.2,861.8 L936.3,862.2 L934.2,862.4 L932.0,862.4 L929.7,862.4 L927.4,862.4 L924.8,862.3 L922.2,862.1 L919.6,861.7 L917.0,861.2 L914.5,860.4 L912.1,859.5 L909.6,858.4 L907.0,857.2 L904.3,856.1 L901.4,854.9 L898.3,853.6 L895.1,852.2 L892.0,850.9 L889.1,849.7 L886.3,848.6 L883.7,847.4 L881.2,846.4 L878.7,845.4 L876.4,844.7 L874.2,844.1 L872.3,843.6 L870.3,843.3 L868.4,843.2 L866.2,843.4 L863.8,844.0 L861.3,845.0 L858.7,846.1 L856.1,847.3 L853.5,848.5 L851.0,849.5 L848.4,850.5 L845.9,851.5 L843.4,852.5 L840.8,853.5 L838.2,854.6 L835.6,855.8 L833.0,856.9 L830.5,857.9 L828.1,858.6 L825.9,859.2 L823.8,859.8 L821.8,860.1 L819.9,860.2 L817.9,859.9 L816.1,859.2 L814.2,858.2 L812.5,856.9 L810.7,855.3 L809.1,853.5 L807.4,851.5 L805.7,849.1 L804.1,846.5 L802.6,843.7 L801.4,840.8 L800.5,837.8 L799.9,834.5 L799.4,831.0 L799.1,827.6 L798.9,824.3 L798.8,821.1 L798.9,817.9 L799.1,814.8 L799.3,811.8 L799.5,809.1 L799.6,806.8 L799.7,804.8 L799.8,802.9 L799.9,801.0Z M801.4,798.9 L801.8,795.0 L802.3,791.3 L802.8,787.8 L803.4,784.5 L804.0,781.1 L804.7,777.9 L805.4,774.8 L806.2,771.8 L807.0,768.8 L807.8,765.9 L808.5,763.0 L809.2,760.0 L809.9,757.2 L810.7,754.5 L811.6,751.9 L812.7,749.6 L814.0,747.5 L815.3,745.5 L816.6,743.6 L817.9,741.8 L819.2,739.8 L820.5,737.7 L821.8,735.8 L823.1,734.1 L824.3,732.9 L825.4,732.0 L826.5,731.5 L827.5,731.3 L828.5,731.3 L829.4,731.6 L830.2,732.2 L831.0,733.0 L831.7,734.2 L832.3,735.4 L832.6,736.7 L832.5,738.1 L832.3,739.6 L831.8,741.2 L831.2,742.8 L830.7,744.3 L829.9,745.7 L829.0,746.9 L828.1,748.2 L827.3,749.4 L826.8,750.7 L826.7,751.9 L826.7,753.2 L827.0,754.5 L827.4,755.7 L828.1,757.0 L829.0,758.3 L830.2,759.5 L831.5,760.7 L832.9,762.0 L834.5,763.4 L836.1,764.8 L837.9,766.2 L839.8,767.7 L841.6,769.3 L843.4,771.0 L845.0,772.8 L846.6,774.9 L848.1,777.0 L849.6,779.1 L851.0,781.1 L852.3,783.2 L853.5,785.4 L854.8,787.5 L856.0,789.5 L857.3,791.3 L858.8,792.9 L860.2,794.4 L861.7,795.8 L863.3,796.8 L864.9,797.7 L866.7,798.1 L868.5,798.3 L870.3,798.2 L872.1,798.0 L873.8,797.7 L875.4,797.2 L877.0,796.6 L878.5,795.9 L880.0,795.0 L881.5,793.8 L883.0,792.4 L884.6,790.7 L886.1,788.8 L887.6,786.9 L889.1,784.9 L890.4,783.0 L891.7,780.9 L893.0,778.8 L894.2,776.8 L895.4,774.8 L896.8,772.9 L898.2,771.2 L899.5,769.5 L900.8,767.7 L901.8,765.9 L902.6,764.0 L903.3,762.0 L903.8,760.0 L904.1,757.9 L904.3,755.7 L904.2,753.3 L903.7,750.7 L903.2,748.0 L902.9,745.4 L903.1,743.0 L903.7,740.7 L904.7,738.5 L906.0,736.4 L907.5,734.7 L909.4,733.5 L911.8,733.1 L914.6,733.2 L917.6,733.7 L920.6,734.3 L923.4,734.8 L926.0,735.0 L928.5,735.3 L931.0,735.6 L933.1,736.0 L934.8,736.7 L936.0,737.5 L936.9,738.3 L937.4,739.5 L937.7,741.0 L938.0,743.0 L938.1,745.9 L937.9,749.6 L937.7,753.5 L937.4,757.4 L937.4,760.8 L937.4,763.6 L937.5,766.1 L937.7,768.5 L938.0,770.9 L938.6,773.5 L939.6,776.4 L940.8,779.6 L942.2,782.7 L943.7,785.8 L945.0,788.8 L946.3,791.4 L947.6,793.8 L948.9,796.2 L950.0,798.7 L950.7,801.5 L951.0,804.6 L951.0,808.0 L950.8,811.5 L950.5,814.9 L950.1,818.0 L949.6,820.8 L948.9,823.3 L948.2,825.8 L947.5,828.2 L946.9,830.7 L946.3,833.2 L945.8,835.8 L945.3,838.4 L944.8,840.9 L944.3,843.4 L944.0,845.9 L943.8,848.4 L943.5,850.8 L943.1,853.0 L942.4,854.8 L941.6,856.3 L940.5,857.6 L939.3,858.5 L937.8,859.3 L936.1,859.9 L934.0,860.3 L931.5,860.4 L928.8,860.4 L926.0,860.2 L923.4,859.9 L920.8,859.4 L918.3,858.7 L915.8,857.9 L913.2,857.0 L910.7,856.1 L908.1,855.2 L905.6,854.1 L903.1,853.1 L900.5,852.0 L898.0,851.0 L895.4,850.0 L892.9,848.9 L890.4,847.9 L887.8,846.9 L885.3,845.9 L882.7,844.9 L880.1,843.9 L877.6,842.9 L875.0,842.1 L872.6,841.5 L870.2,841.1 L868.0,840.9 L865.8,840.9 L863.6,841.0 L861.1,841.5 L858.5,842.3 L855.7,843.4 L852.8,844.7 L849.9,846.0 L847.2,847.2 L844.5,848.3 L842.0,849.3 L839.5,850.4 L837.0,851.4 L834.5,852.3 L831.9,853.2 L829.2,854.3 L826.6,855.2 L824.1,855.8 L821.8,856.1 L819.7,856.0 L817.9,855.5 L816.2,854.8 L814.6,853.7 L812.9,852.3 L811.0,850.4 L809.0,848.1 L807.1,845.4 L805.4,842.6 L804.0,839.6 L802.9,836.4 L802.1,833.1 L801.5,829.5 L801.1,825.8 L800.8,821.8 L800.7,817.5 L800.7,812.8 L800.9,807.9 L801.1,803.3Z M802.7,798.9 L803.4,795.1 L804.2,791.6 L805.3,788.2 L806.5,784.8 L807.8,781.1 L809.2,777.0 L810.9,772.5 L812.6,768.0 L814.1,764.0 L815.4,760.8 L816.3,758.6 L816.9,757.0 L817.3,756.0 L817.9,755.4 L818.6,755.1 L819.5,755.3 L820.6,756.1 L821.8,757.2 L823.0,758.5 L824.3,759.5 L825.7,760.5 L827.1,761.3 L828.7,762.3 L830.3,763.4 L831.9,764.6 L833.7,766.1 L835.5,767.8 L837.4,769.7 L839.2,771.6 L840.8,773.5 L842.3,775.5 L843.6,777.5 L844.8,779.6 L846.0,781.6 L847.2,783.7 L848.3,785.8 L849.3,788.0 L850.4,790.1 L851.3,792.1 L852.2,793.8 L853.0,795.2 L853.7,796.2 L854.3,797.1 L855.1,798.0 L856.1,798.9 L857.3,800.0 L858.7,801.2 L860.3,802.3 L861.9,803.3 L863.7,804.0 L865.6,804.5 L867.7,804.8 L869.8,804.9 L871.9,804.8 L873.8,804.6 L875.5,804.4 L877.1,804.0 L878.5,803.4 L880.0,802.6 L881.5,801.5 L883.0,799.9 L884.5,797.9 L885.9,795.7 L887.5,793.4 L889.1,791.3 L890.8,789.2 L892.6,787.2 L894.4,785.1 L896.2,783.1 L898.0,781.1 L899.7,779.3 L901.5,777.5 L903.2,775.7 L905.0,774.0 L906.9,772.2 L908.8,770.4 L910.9,768.6 L913.0,766.8 L915.0,765.0 L917.0,763.4 L919.1,761.7 L921.1,759.9 L923.1,758.3 L925.0,757.1 L926.6,756.4 L927.8,756.2 L928.8,756.5 L929.6,757.2 L930.3,758.2 L931.0,759.5 L931.6,761.3 L932.0,763.5 L932.4,766.0 L932.9,768.6 L933.5,771.0 L934.4,773.2 L935.3,775.4 L936.3,777.7 L937.4,780.0 L938.6,782.4 L940.1,785.0 L941.7,787.8 L943.4,790.6 L945.0,793.5 L946.2,796.4 L947.2,799.3 L947.9,802.3 L948.4,805.3 L948.7,808.4 L948.8,811.6 L948.6,815.1 L948.1,818.7 L947.5,822.4 L946.8,826.1 L946.2,829.4 L945.7,832.5 L945.2,835.5 L944.7,838.3 L944.2,840.9 L943.7,843.4 L943.3,845.8 L943.0,848.0 L942.6,850.1 L942.1,852.0 L941.2,853.5 L939.9,854.8 L938.3,855.8 L936.4,856.6 L934.4,857.2 L932.3,857.6 L930.0,857.8 L927.5,857.8 L924.8,857.6 L922.2,857.2 L919.6,856.7 L917.0,856.0 L914.5,855.1 L912.0,854.1 L909.4,853.0 L906.9,852.0 L904.3,851.0 L901.8,850.0 L899.2,849.0 L896.7,847.9 L894.2,846.9 L891.6,845.9 L889.0,844.9 L886.4,843.9 L883.8,842.9 L881.5,842.1 L879.3,841.4 L877.2,840.8 L875.2,840.3 L873.3,839.9 L871.3,839.6 L869.3,839.3 L867.4,839.2 L865.4,839.1 L863.3,839.2 L861.1,839.6 L858.8,840.2 L856.2,841.0 L853.6,842.0 L851.0,843.0 L848.4,844.0 L845.9,845.0 L843.4,846.1 L840.8,847.1 L838.3,848.2 L835.7,849.1 L833.1,850.1 L830.5,851.1 L827.8,852.0 L825.3,852.6 L823.0,852.9 L821.0,852.9 L819.1,852.5 L817.4,851.9 L815.8,851.0 L814.1,849.7 L812.5,848.1 L810.8,846.0 L809.2,843.6 L807.8,841.0 L806.5,838.3 L805.4,835.4 L804.5,832.4 L803.8,829.1 L803.2,825.6 L802.7,821.8 L802.4,817.5 L802.2,812.9 L802.2,808.0 L802.3,803.3Z M804.0,806.5 L804.6,802.7 L805.6,798.4 L806.7,794.0 L807.9,789.9 L809.1,786.2 L810.1,783.1 L811.0,780.3 L812.0,777.8 L813.0,775.5 L814.1,773.5 L815.3,771.7 L816.5,770.0 L817.8,768.7 L819.1,767.7 L820.5,767.2 L821.9,767.2 L823.4,767.8 L825.0,768.7 L826.6,769.8 L828.1,771.0 L829.7,772.3 L831.2,773.8 L832.8,775.4 L834.3,777.0 L835.7,778.6 L837.1,780.0 L838.5,781.4 L839.8,782.8 L841.0,784.4 L842.1,786.2 L843.0,788.5 L843.9,791.0 L844.7,793.7 L845.3,796.4 L845.9,798.9 L846.2,801.5 L846.3,804.1 L846.4,806.7 L846.6,808.8 L847.2,810.4 L848.0,811.1 L849.0,811.2 L850.3,810.9 L851.8,810.5 L853.5,810.4 L855.7,810.3 L858.3,810.3 L861.0,810.3 L863.7,810.3 L866.2,810.4 L868.5,810.6 L870.7,811.1 L872.8,811.5 L874.7,811.8 L876.4,811.6 L877.7,811.1 L878.7,810.3 L879.6,809.2 L880.4,808.0 L881.5,806.5 L882.6,804.8 L883.7,802.8 L884.9,800.7 L886.3,798.5 L887.8,796.4 L889.6,794.3 L891.5,792.2 L893.5,790.1 L895.7,788.1 L898.0,786.2 L900.3,784.5 L902.8,782.7 L905.4,781.2 L908.0,779.8 L910.7,778.6 L913.4,777.6 L916.3,776.8 L919.2,776.3 L922.0,776.0 L924.7,776.1 L927.2,776.5 L929.7,777.2 L932.0,778.3 L934.2,779.6 L936.1,781.1 L937.7,783.0 L939.2,785.1 L940.4,787.5 L941.5,790.0 L942.4,792.6 L943.3,795.2 L944.0,797.9 L944.6,800.7 L945.0,803.6 L945.2,806.5 L945.3,809.5 L945.1,812.6 L944.8,815.7 L944.4,818.8 L944.0,821.8 L943.5,824.7 L942.9,827.7 L942.2,830.5 L941.4,833.2 L940.5,835.8 L939.5,838.2 L938.5,840.4 L937.3,842.5 L935.9,844.4 L934.2,845.9 L932.1,847.1 L929.8,848.0 L927.3,848.6 L924.7,848.9 L922.1,849.1 L919.6,849.0 L917.1,848.6 L914.5,848.0 L912.0,847.3 L909.4,846.6 L906.9,845.7 L904.3,844.7 L901.8,843.6 L899.2,842.5 L896.7,841.5 L894.1,840.4 L891.6,839.4 L889.0,838.3 L886.5,837.3 L884.0,836.4 L881.6,835.5 L879.3,834.6 L877.1,833.8 L874.8,833.1 L872.6,832.6 L870.3,832.3 L868.1,832.1 L865.8,832.1 L863.5,832.2 L861.1,832.6 L858.7,833.2 L856.1,834.0 L853.6,834.9 L851.0,836.0 L848.4,837.0 L845.9,838.2 L843.4,839.5 L840.8,840.9 L838.3,842.2 L835.7,843.4 L833.1,844.5 L830.5,845.6 L827.8,846.6 L825.3,847.4 L823.0,847.8 L821.0,847.9 L819.1,847.7 L817.3,847.1 L815.7,846.4 L814.1,845.3 L812.7,843.9 L811.3,842.2 L810.0,840.2 L808.8,838.1 L807.8,835.8 L806.9,833.3 L806.2,830.6 L805.5,827.7 L805.0,824.7 L804.6,821.8 L804.2,818.9 L803.9,816.0 L803.7,813.1 L803.7,809.9Z M805.2,810.4 L805.8,806.2 L806.6,801.5 L807.7,796.7 L809.0,792.4 L810.3,788.8 L811.9,786.0 L813.6,783.7 L815.5,781.9 L817.4,780.5 L819.2,779.6 L821.0,779.2 L822.9,779.4 L824.7,779.9 L826.5,780.8 L828.1,781.8 L829.6,782.9 L831.0,784.4 L832.3,786.0 L833.4,787.9 L834.5,790.0 L835.4,792.4 L836.1,795.1 L836.7,798.0 L837.3,801.0 L837.6,804.0 L837.9,807.0 L838.0,810.1 L838.0,813.3 L837.9,816.3 L837.6,819.2 L837.3,822.0 L837.0,824.7 L836.5,827.3 L835.8,829.7 L835.1,832.0 L834.2,834.0 L833.2,835.9 L832.0,837.6 L830.7,839.0 L829.4,840.2 L827.9,841.1 L826.3,841.7 L824.6,842.1 L822.9,842.2 L821.1,842.1 L819.3,841.8 L817.5,841.4 L815.6,840.7 L813.8,839.6 L812.2,838.3 L810.8,836.6 L809.5,834.5 L808.3,832.2 L807.3,829.6 L806.5,826.9 L805.9,824.0 L805.4,820.9 L805.1,817.6 L805.0,814.1Z M807.1,811.6 L807.6,808.0 L808.1,803.9 L808.9,799.7 L809.8,795.8 L811.0,792.6 L812.3,790.2 L813.9,788.2 L815.7,786.8 L817.5,785.7 L819.2,784.9 L820.9,784.6 L822.7,784.7 L824.4,785.1 L826.1,785.8 L827.5,786.9 L828.7,788.2 L829.7,789.8 L830.6,791.8 L831.3,794.0 L831.9,796.4 L832.4,799.1 L832.7,802.1 L832.9,805.3 L833.0,808.5 L832.9,811.6 L832.8,814.8 L832.6,818.0 L832.3,821.1 L831.9,824.1 L831.3,826.9 L830.5,829.3 L829.6,831.7 L828.5,833.8 L827.4,835.6 L826.2,837.0 L824.9,838.1 L823.6,838.9 L822.1,839.4 L820.7,839.6 L819.2,839.6 L817.7,839.2 L816.0,838.6 L814.4,837.7 L812.9,836.5 L811.6,835.1 L810.5,833.4 L809.6,831.4 L808.9,829.1 L808.3,826.7 L807.8,824.3 L807.4,822.0 L807.1,819.7 L806.9,817.3 L806.9,814.6Z M809.1,812.3 L809.2,809.0 L809.6,805.8 L810.2,802.5 L810.9,799.6 L811.8,797.0 L813.0,794.9 L814.5,793.0 L816.1,791.4 L817.7,790.2 L819.2,789.4 L820.7,789.0 L822.2,789.1 L823.7,789.5 L825.1,790.2 L826.2,791.3 L827.1,792.7 L827.9,794.6 L828.5,796.7 L829.0,799.1 L829.4,801.5 L829.7,804.0 L829.9,806.8 L830.0,809.8 L830.0,812.7 L829.9,815.4 L829.7,818.2 L829.5,820.9 L829.2,823.6 L828.7,826.0 L828.1,828.1 L827.4,830.0 L826.5,831.5 L825.5,832.9 L824.4,833.9 L823.3,834.7 L822.1,835.3 L820.8,835.5 L819.5,835.5 L818.2,835.3 L816.9,834.7 L815.7,834.0 L814.5,833.0 L813.3,831.8 L812.2,830.2 L811.3,828.1 L810.6,825.5 L809.9,822.4 L809.4,819.0 L809.1,815.5Z M811.0,811.6 L811.2,809.2 L811.6,806.5 L812.1,803.7 L812.7,801.1 L813.5,798.9 L814.4,797.2 L815.6,795.6 L816.8,794.4 L818.0,793.4 L819.2,792.8 L820.4,792.6 L821.7,792.7 L822.9,793.1 L824.0,793.8 L824.9,794.9 L825.6,796.3 L826.2,798.2 L826.6,800.4 L827.0,802.8 L827.2,805.3 L827.4,807.9 L827.5,810.9 L827.5,813.9 L827.4,816.7 L827.2,819.2 L827.0,821.5 L826.7,823.5 L826.3,825.3 L825.7,826.8 L825.1,828.1 L824.2,829.1 L823.1,829.9 L821.9,830.4 L820.6,830.6 L819.5,830.7 L818.3,830.5 L817.2,830.0 L816.1,829.3 L815.0,828.5 L814.1,827.5 L813.4,826.4 L812.7,825.1 L812.2,823.6 L811.7,822.1 L811.3,820.5 L811.1,818.9 L810.9,817.3 L810.8,815.5 L810.8,813.7Z M881.5,819.2 L882.3,816.0 L883.5,811.8 L885.2,807.1 L887.1,802.7 L889.1,798.9 L891.3,795.9 L893.8,793.3 L896.5,791.1 L899.2,789.1 L901.8,787.5 L904.3,786.2 L906.9,785.2 L909.4,784.5 L912.0,784.0 L914.5,783.7 L917.1,783.5 L919.8,783.5 L922.4,783.7 L924.9,784.2 L927.2,784.9 L929.3,786.0 L931.2,787.2 L933.0,788.8 L934.7,790.5 L936.1,792.6 L937.3,794.9 L938.4,797.6 L939.3,800.6 L940.0,803.6 L940.5,806.5 L940.9,809.6 L941.0,812.8 L941.0,816.0 L940.8,819.0 L940.5,821.8 L940.1,824.2 L939.6,826.4 L938.8,828.4 L937.9,830.2 L936.7,832.0 L935.2,833.6 L933.5,835.0 L931.5,836.4 L929.4,837.5 L927.2,838.3 L924.9,838.9 L922.3,839.2 L919.7,839.2 L917.1,839.1 L914.5,838.9 L911.9,838.6 L909.3,838.0 L906.7,837.4 L904.2,836.6 L901.8,835.8 L899.6,834.9 L897.4,833.9 L895.4,832.9 L893.5,831.8 L891.6,830.7 L889.9,829.5 L888.2,828.2 L886.6,826.8 L885.2,825.5 L884.0,824.3 L883.0,823.5 L882.1,822.9 L881.5,822.3 L881.2,821.2Z M890.4,819.2 L890.9,816.7 L891.7,813.5 L892.8,810.0 L894.1,806.7 L895.4,804.0 L896.9,801.9 L898.5,800.2 L900.3,798.7 L902.2,797.5 L904.3,796.4 L906.6,795.4 L909.1,794.7 L911.8,794.2 L914.4,793.9 L917.0,793.8 L919.7,794.1 L922.4,794.7 L925.1,795.5 L927.6,796.5 L929.7,797.7 L931.5,799.0 L933.0,800.7 L934.2,802.5 L935.2,804.4 L936.1,806.5 L936.7,808.9 L937.2,811.5 L937.5,814.2 L937.5,816.8 L937.4,819.2 L937.0,821.5 L936.5,823.7 L935.8,825.8 L934.8,827.7 L933.5,829.4 L932.0,830.8 L930.1,832.1 L927.9,833.1 L925.7,833.9 L923.4,834.5 L921.0,834.8 L918.5,834.8 L915.9,834.7 L913.3,834.3 L910.7,833.9 L908.0,833.2 L905.3,832.4 L902.6,831.4 L900.1,830.4 L898.0,829.4 L896.2,828.4 L894.7,827.4 L893.5,826.4 L892.5,825.4 L891.6,824.3 L890.9,823.5 L890.4,822.8 L890.2,822.0 L890.1,820.9Z M898.0,816.7 L898.3,814.6 L898.8,812.1 L899.6,809.6 L900.6,807.2 L901.8,805.3 L903.2,803.8 L904.8,802.6 L906.6,801.7 L908.6,801.0 L910.7,800.4 L913.0,800.0 L915.7,799.8 L918.4,799.8 L921.0,800.0 L923.4,800.4 L925.5,801.2 L927.4,802.3 L929.2,803.6 L930.8,805.1 L932.0,806.8 L933.0,808.7 L933.8,811.0 L934.3,813.4 L934.5,815.7 L934.6,818.0 L934.3,820.1 L933.9,822.3 L933.2,824.4 L932.2,826.3 L931.0,827.9 L929.4,829.1 L927.5,830.1 L925.4,830.8 L923.1,831.4 L920.8,831.7 L918.4,831.8 L915.7,831.8 L913.0,831.5 L910.4,831.1 L908.1,830.4 L906.2,829.5 L904.5,828.4 L903.0,827.1 L901.6,825.7 L900.5,824.3 L899.6,823.0 L898.8,821.6 L898.3,820.1 L898.0,818.5Z M904.3,815.4 L904.7,814.1 L905.2,812.7 L906.0,811.3 L907.0,810.1 L908.1,809.1 L909.6,808.4 L911.2,807.9 L913.0,807.5 L915.0,807.3 L917.0,807.2 L919.3,807.0 L921.9,806.9 L924.5,806.9 L926.7,807.2 L928.5,807.8 L929.5,808.9 L930.2,810.3 L930.4,811.9 L930.5,813.7 L930.4,815.4 L930.1,817.3 L929.7,819.4 L929.0,821.5 L928.2,823.5 L927.2,825.0 L926.0,826.0 L924.5,826.8 L922.9,827.3 L921.3,827.7 L919.6,827.9 L917.8,828.0 L915.9,827.9 L914.0,827.6 L912.2,827.2 L910.7,826.6 L909.4,825.9 L908.2,825.0 L907.2,824.0 L906.3,822.9 L905.6,821.8 L905.0,820.6 L904.6,819.4 L904.3,818.1 L904.2,816.7Z M856.1,820.3 L856.2,819.5 L856.4,818.6 L856.8,817.8 L857.4,817.1 L858.0,816.5 L858.7,816.0 L859.5,815.6 L860.5,815.4 L861.4,815.2 L862.4,815.2 L863.4,815.2 L864.6,815.4 L865.7,815.6 L866.7,816.0 L867.5,816.5 L868.1,817.0 L868.5,817.8 L868.8,818.6 L869.0,819.4 L869.0,820.3 L868.9,821.1 L868.5,822.0 L868.1,822.9 L867.5,823.7 L866.9,824.3 L866.1,824.8 L865.2,825.1 L864.3,825.3 L863.3,825.3 L862.4,825.3 L861.5,825.3 L860.5,825.1 L859.6,824.9 L858.7,824.5 L858.0,824.1 L857.4,823.5 L856.8,822.7 L856.4,821.9 L856.2,821.1Z M943.7,832.0 L943.5,833.7 L943.1,836.3 L942.7,839.2 L942.2,842.2 L941.8,844.7 L941.5,846.7 L941.3,848.7 L941.0,850.5 L940.6,852.1 L939.9,853.5 L939.0,854.9 L938.0,856.0 L936.8,857.0 L935.3,857.8 L933.5,858.4 L931.4,858.7 L928.9,858.8 L926.2,858.7 L923.5,858.4 L920.8,858.0 L918.3,857.4 L915.8,856.5 L913.2,855.6 L910.7,854.5 L908.1,853.5 L905.4,852.5 L902.4,851.3 L899.6,850.2 L897.2,849.2 L895.4,848.5" stroke="#3a3a3a" stroke-width="0.9" fill="none"/>
<path d="M798.9,766.2h1.3M956.9,736.0h1.3M849.4,855.2h1.3M881.8,847.5h1.3M813.5,702.7h1.3M866.5,861.1h1.3M897.9,727.6h1.3M909.3,726.4h1.3M950.0,827.8h1.3M958.6,817.4h1.3M801.6,727.9h1.3M802.5,764.0h1.3M857.0,848.9h1.3M959.5,760.8h1.3M837.8,864.6h1.3M959.6,775.0h1.3M843.1,852.2h1.3M830.8,873.1h1.3M923.9,866.2h1.3M934.8,867.5h1.3M967.6,730.1h1.3M890.6,748.4h1.3M849.9,855.7h1.3M888.6,746.3h1.3M864.0,851.3h1.3M806.3,776.7h1.3M804.9,721.0h1.3M870.5,844.3h1.3M950.2,722.1h1.3M979.3,750.4h1.3M932.9,869.5h1.3M800.8,754.7h1.3M800.5,852.4h1.3M871.9,786.3h1.3M789.3,798.8h1.3M841.5,760.6h1.3M943.9,741.4h1.3M807.0,851.4h1.3M851.5,776.1h1.3M914.0,720.0h1.3M857.3,882.2h1.3M791.5,780.5h1.3M918.5,712.5h1.3M838.8,860.6h1.3M894.9,721.7h1.3M849.1,865.0h1.3M893.7,868.8h1.3M961.3,883.6h1.3M969.9,799.6h1.3M951.9,800.5h1.3M984.3,782.6h1.3M883.8,776.1h1.3M838.3,731.2h1.3M799.6,835.6h1.3M878.8,747.5h1.3M800.3,782.0h1.3M956.4,847.2h1.3M973.3,744.8h1.3M880.0,752.2h1.3M786.5,825.4h1.3M791.2,812.4h1.3M785.9,857.5h1.3M847.7,860.2h1.3M928.8,723.7h1.3M923.4,877.7h1.3M888.3,768.3h1.3M798.4,819.4h1.3M812.9,733.3h1.3M812.0,730.1h1.3M930.6,867.9h1.3M951.2,839.5h1.3M844.1,735.5h1.3M801.1,779.2h1.3M855.7,762.2h1.3M925.5,720.0h1.3M870.5,791.5h1.3M798.0,794.7h1.3M930.3,871.0h1.3M958.4,786.9h1.3M896.2,744.4h1.3M923.4,710.0h1.3M1006.9,807.9h1.3M948.0,839.1h1.3M791.7,860.6h1.3M804.5,762.7h1.3M793.2,796.9h1.3M807.8,737.8h1.3M885.8,853.7h1.3M792.7,806.8h1.3M950.6,799.1h1.3M796.5,777.9h1.3M855.7,736.6h1.3M894.0,880.6h1.3M927.0,726.4h1.3M890.0,756.5h1.3M946.5,879.1h1.3M943.7,747.6h1.3M792.1,763.0h1.3M816.1,730.3h1.3M895.9,753.8h1.3M894.3,762.7h1.3M905.2,726.2h1.3M944.8,750.0h1.3M808.8,733.4h1.3" stroke="#000" stroke-width="1.3" fill="none"/>
<path d="M946.5,773.1h1.3M982.0,874.0h1.3M831.7,727.8h1.3M810.3,740.6h1.3M850.6,869.7h1.3M949.9,754.7h1.3M872.2,875.1h1.3M841.1,746.9h1.3M948.2,834.4h1.3M881.5,773.4h1.3M797.6,809.1h1.3M837.3,748.6h1.3M796.8,845.1h1.3M953.5,817.7h1.3M906.0,703.4h1.3M869.0,740.6h1.3M852.3,779.6h1.3M856.9,776.0h1.3M814.9,725.0h1.3M860.2,781.3h1.3M805.1,846.0h1.3M978.8,825.0h1.3M910.9,878.2h1.3M947.2,767.2h1.3M930.2,719.2h1.3M802.6,730.2h1.3M795.0,830.8h1.3M850.1,776.8h1.3M817.5,684.1h1.3M920.5,871.7h1.3M920.1,877.9h1.3M850.7,849.5h1.3M834.6,723.7h1.3M795.9,835.9h1.3M806.5,769.0h1.3M856.5,784.8h1.3M841.9,728.4h1.3M923.4,670.1h1.3M824.3,702.0h1.3M949.6,867.6h1.3M854.4,739.9h1.3M834.4,730.2h1.3M925.6,723.2h1.3M884.1,847.8h1.3M859.8,855.0h1.3M924.8,864.7h1.3M951.8,856.1h1.3M919.2,724.9h1.3M848.5,854.6h1.3M806.8,751.0h1.3M880.4,859.3h1.3M958.4,850.2h1.3M877.2,753.7h1.3M808.4,759.9h1.3M876.6,844.5h1.3M905.7,866.5h1.3M800.4,694.0h1.3M956.3,852.7h1.3M916.0,715.8h1.3M959.7,862.2h1.3M953.7,805.0h1.3M850.6,771.3h1.3M907.2,877.3h1.3M815.0,864.2h1.3M869.8,856.1h1.3M866.3,790.5h1.3" stroke="#8a8a8a" stroke-width="1.3" fill="none"/>
<rect x="1038.6" y="642.2" width="243.9" height="243.8" fill="none" stroke="#000" stroke-width="2.4"/>
<path d="M1032.1,660.2H1038.6M1032.1,702.9H1038.6M1032.1,752.9H1038.6M1032.1,797.0H1038.6M1032.1,841.4H1038.6M1032.1,877.7H1038.6M1035.1,647.6H1038.6M1035.1,653.2H1038.6M1035.1,690.1H1038.6M1035.1,682.5H1038.6M1035.1,677.2H1038.6M1035.1,673.1H1038.6M1035.1,669.7H1038.6M1035.1,666.9H1038.6M1035.1,664.4H1038.6M1035.1,662.2H1038.6M1035.1,737.8H1038.6M1035.1,729.0H1038.6M1035.1,722.8H1038.6M1035.1,718.0H1038.6M1035.1,714.0H1038.6M1035.1,710.6H1038.6M1035.1,707.7H1038.6M1035.1,705.2H1038.6M1035.1,828.0H1038.6M1035.1,820.2H1038.6M1035.1,814.7H1038.6M1035.1,810.4H1038.6M1035.1,806.9H1038.6M1035.1,803.9H1038.6M1035.1,801.3H1038.6M1035.1,799.0H1038.6M1035.1,866.8H1038.6M1035.1,860.4H1038.6M1035.1,855.8H1038.6M1035.1,852.3H1038.6M1035.1,849.4H1038.6M1035.1,847.0H1038.6M1035.1,844.9H1038.6M1035.1,843.0H1038.6M1033.6,788.5H1038.6M1033.6,791.4H1038.6M1033.6,793.4H1038.6M1033.6,795.1H1038.6M1033.6,799.0H1038.6M1033.6,800.7H1038.6M1033.6,803.1H1038.6M1033.6,806.0H1038.6M1061.9,886.0V892.5M1108.3,886.0V892.5M1131.3,886.0V892.5M1177.1,886.0V892.5M1223.2,886.0V892.5M1264.2,886.0V892.5M1145.1,886.0V889.5M1153.2,886.0V889.5M1158.9,886.0V889.5M1163.3,886.0V889.5M1167.0,886.0V889.5M1170.0,886.0V889.5M1172.7,886.0V889.5M1175.0,886.0V889.5M1191.0,886.0V889.5M1199.1,886.0V889.5M1204.9,886.0V889.5M1209.4,886.0V889.5M1213.0,886.0V889.5M1216.1,886.0V889.5M1218.8,886.0V889.5M1221.1,886.0V889.5M1235.6,886.0V889.5M1242.8,886.0V889.5M1247.9,886.0V889.5M1251.9,886.0V889.5M1255.1,886.0V889.5M1257.9,886.0V889.5M1260.2,886.0V889.5M1262.3,886.0V889.5M1277.1,886.0V889.5M1094.3,886.0V889.5M1086.1,886.0V889.5M1080.4,886.0V889.5M1075.9,886.0V889.5M1072.2,886.0V889.5M1069.1,886.0V889.5M1066.4,886.0V889.5M1064.0,886.0V889.5M1048.3,886.0V889.5M1111.8,886.0V891.5M1115.4,886.0V891.5M1117.9,886.0V891.5M1120.3,886.0V891.5M1122.7,886.0V891.5M1125.2,886.0V891.5M1127.6,886.0V891.5" stroke="#000" stroke-width="1.6" fill="none"/>
<path d="M1112.3,864.1l-2,0.3 -4-0.3 -3-1.2 -3.9-2.5 -2.1-2.4 -2-3.8 -1.2-3.2 -1.1-6 0-28.6 0.5-3 -0.1-12.4 0.5-2.6 0-7.4 0.5-2.6 0-7.4 0.5-2 0-8 0.4-2 0.1-8 0.5-2.6 0.1-12 0.5-3 -0.1-8.4 0.4-2 0.1-1.6 0.5-1.4 2.1-4 1.4-2 1.4-1.1 3-1.3 3.4-1 7.6,0 7,1.6 4,0.1 10-2.2 7-1.2 4.4-1 8.6-2.2 5-1.1 6-0.8 1.4-0.4 2-0.1 2-0.4 3.6-0.2 2-0.4 17,0 3,0.6 3.4,0.9 4.6,2.1 2.7,2.5 0.8,1 1.4,3 0.7,3 0.1,3 -0.4,1.6 0,1.4 -1.1,4.6 -1.7,4.4 -1.3,3 -5.6,9.6 -3.9,6 -1,2 -3.1,7.4 -2.8,4 -1.8,1.9 -2,1.3 -1.6,0.7 -2,0.6 -1.4,0.1 -1.6,0.4 -15,0 -4-0.6 -2-0.5 -1-0.5 -2.4-1.5 -4.6-3.9 -2-1.3 -3.4-1.8 -2-0.7 -1.6-0.1 -1.2,0.5 -1.2,0.9 -1.4,1.5 -1,2.6 -0.1,1.4 0,4 0.4,1.6 0.1,2 0.4,2 0.1,19.4 0.5,3.6 3.4,14 0.5,3 0,7 -0.5,3.4 -0.6,2.6 -1.1,3 -0.9,1.4 -1.8,2.2 -3,2.7 -4.1,3.1 -4.5,4.4 -1.5,1.2 -2.6,2.4 -4.3,3.5 -4,2.8 -3,1.4z M1111.3,861.6l-1,0.1 -2,0 -2.6-0.7 -4-2.3 -2-1.8 -2.2-2.9 -1.2-2.7 -1-3.3 -0.6-3.6 -0.1-27.4 0.5-3 0-12.6 0.5-3 0-7 0.5-3 0-6.4 0.5-3 0-7 0.5-3 0.1-7 0.5-3 0.3-12 0.6-3 -0.1-8.6 0.8-4 0.7-1.4 1.3-2.1 1.5-1.9 0.9-0.9 2.6-1 3.4-0.9 6,0 7.6,1.6 5-0.1 10-2.1 7-1.3 18-4.3 11-1.8 3.4-0.2 2-0.3 8-0.2 8,0.2 6,1.3 4.2,2 2.4,1.9 0.8,1.1 1.3,2.4 0.9,2.8 0.1,1.8 -0.2,3 -1.1,4.4 -1.6,4 -1.8,3.2 -10.2,14.8 -1.3,2.6 -3,7 -2.9,4 -1,0.9 -1.6,1.1 -1.4,0.6 -4.6,0.8 -13,0 -4-0.6 -2-0.5 -1.4-0.7 -1.6-1.1 -4.2-3.5 -2.2-1.5 -4.6-2.2 -2-0.7 -1-0.1 -2,0.1 -2,0.9 -1.3,0.9 -1.8,2 -0.9,1.6 -0.8,2.4 -0.1,6 0.9,6.6 0.1,19.4 0.6,3.6 3.2,13.4 0.6,3 0,6 -1,5.6 -0.7,2 -0.8,1.4 -1.7,2 -2.3,2.2 -4.4,3.5 -4.4,4.3 -1.6,1.3 -2.3,2.3 -4.7,4 -3.6,2.5 -2.4,1.1z M1110.8,859.0l-1,0.1 -1.4-0.1 -2-0.6 -2.2-1.4 -2-2 -1.8-2.6 -1.5-2.4 -1.1-2.9 -0.9-3.7 -0.3-26 0.6-3 -0.1-12.4 0.5-3 0.1-7 0.5-3 0.1-7 0.5-2.6 0.1-7 0.6-3 0.2-7.4 0.6-2.6 0.6-12 0.7-3 0.1-8.4 0.8-4 1.6-3 1.3-1.5 0.9-0.5 2.1-0.7 2.4-0.5 4.6,0.1 7.4,1.6 6-0.2 10-2.3 7-1.3 18-4.5 11-1.8 3.6-0.3 2-0.3 7.4-0.2 7.6,0.3 5.4,1.2 4,1.8 1.6,1.3 1,1.2 0.7,1.6 1,3 -0.1,4 -0.8,3.4 -0.5,1.6 -1.3,3 -1.7,3 -10.8,14.4 -1.1,2 -3.4,7.6 -2.3,3 -1.3,1 -2,0.8 -4,0.6 -11.4,0 -4.6-0.7 -1.4-0.4 -1-0.7 -5-4.1 -2.6-1.6 -5-2.4 -2-0.7 -1.4-0.2 -3,0.1 -1.6,0.4 -1.4,0.8 -2,1.5 -2.4,2.6 -1,2 -1,3 -0.1,1.4 0,5 0.9,7 0.1,19.6 0.6,3.4 3.2,13.6 0.6,3 0,5 -0.9,5.1 -0.7,1.9 -0.6,1 -3.3,3.3 -4.5,3.7 -12.5,12 -3,2.2 -2,0.8z M1180.3,754.0l-6.6,0.2 -6-0.3 -6-1 -5-1.6 -4-1.8 -3.1-2.1 -2.8-2.4 -5.1-5.4 -1.4-1.3 -2-1.3 -4.6-1.9 -12.1-3.7 1.4-0.4 6.3-0.7 8.5-2.3 12.5-3 7-2 6.4-1.7 11.6-2 7.4-0.7 6,0 5.6,0.2 3.4,0.7 2.6,0.6 2,0.9 1.4,0.9 1.6,1.5 1.2,3 0.2,1 0,3 -0.6,3.6 -0.7,2 -1.1,2.4 -2.2,3.6 -5.4,6.6 -1.4,1.5 -1.6,1.1 -1.4,0.6 -4.6,1.1 -7.4,1.1z M1110.3,735.0l-1.6,0.3 -1-0.6 -0.4-0.6 -0.5-1.7 0.5-1.3 0.4-0.7 0.8-0.4 1.8-0.5 1.4-0.1 2.1,0 3.1,1 -0.1,0.6 -6.5,4z M1109.8,856.5l-1-0.1 -1-0.4 -1.5-1.6 -1.8-3.4 -1.8-5.6 -1.5-6.4 -1.1-6.6 -0.7-7 -0.4-8 0.2-3 -0.1-12 0.5-3.4 0.1-7 0.4-2.6 0.3-6.4 0.5-3.6 0.4-7 0.5-2.4 0.5-7 0.7-3.6 0.8-9.2 0.6-2.8 1.4-3.6 1.6-1.5 1-0.3 1,0.5 1.4,1.7 1.6,2.7 1,2.2 2.3,6.9 2.4,9.4 2,10.6 1.5,10.4 0.9,10.6 0.4,10 -0.2,10.4 -0.6,9.6 -1.1,8.4 -1.8,9 -1.8,5.6 -1.4,2.4 -1.4,1.6 -1.2,1 -1.7,1 -1.9,0.5z M1180.8,748.5l-6,0.2 -6-0.6 -5-1.3 -2.4-1.1 -2-1.1 -2-1.5 -1.7-1.7 -1.5-2 -1.1-2 -0.7-2 -0.3-1.4 0.2-1.6 0.7-1.4 1.2-1.6 2-1.4 2.6-1.6 3-1.4 6.6-2.2 3.1-0.8 4.9-0.9 5-0.6 3-0.1 4.4,0.1 4.6,0.4 2.5,0.5 3.1,1 2.2,1 1.6,1.1 1,1.2 0.6,1.3 0.3,2.4 -0.2,2.6 -0.6,2.4 -1.1,2.7 -1.4,2.6 -1.6,2 -1,1 -1.4,1 -5,2.2 -5.6,1.6 -6,1z M1111.8,848.5l-1,0.3 -1-0.2 -1-0.6 -1-1 -1.7-3 -1.5-4 -1.4-5.6 -1.1-6.4 -0.7-7 -0.4-8 0-10.6 0.4-10 0.9-9.4 1.1-8.6 1.1-5.4 1.3-4 1.6-2.5 1-0.8 1-0.2 1,0.4 1,0.8 1.8,2.7 1.9,4.6 1.6,5.4 1.5,6.6 1.1,7 0.8,8 0.4,8 0,8 -0.3,7.4 -0.7,7 -1,6.6 -1.4,5.4 -1.6,4.6 -1.7,2.8 -1,1.1 -1,0.6z M1181.8,745.0l-5,0.2 -4.4-0.3 -4-1 -3.6-1.6 -1.4-1 -1.6-1.3 -1.6-2.6 -0.5-1.4 -0.1-1.6 0.4-1.4 0.5-1 1.2-1.6 1.7-1.3 2-1.3 2.4-1.2 3-1.1 3-0.8 6-1 6-0.2 3,0.3 2.6,0.4 2.4,0.7 2,0.9 2,1.2 1.2,1 0.8,1 0.8,1.4 0.3,1 0,1.6 -0.2,1 -0.6,1.4 -1.8,2.6 -3.2,2.4 -3.7,2 -4.6,1.6 -5,1z M1111.3,842.1l-1,0 -0.6-0.1 -1.4-1.3 -1.6-2.6 -1.4-4.3 -1.1-4.8 -0.9-5.6 -0.6-6.3 -0.2-6.7 0-7.4 0.4-8 0.7-7.6 0.9-6 1-4.4 1.2-3.7 1.6-2.3 0.4-0.3 1-0.3 0.6,0.1 1,0.6 1.4,2.1 1.6,3.3 1.4,4.9 1.2,5.6 0.9,6 0.7,6.4 0.3,7 0,6.6 -0.4,6.4 -0.6,6 -1,5.6 -1.1,4.1 -1.4,3.8 -1.6,2.2 -1.4,1z M1181.3,742.0l-3.6,0.2 -3.4-0.4 -3-0.7 -2.6-1.2 -1.7-1.5 -0.7-1 -0.5-1 -0.3-1 0.1-1 0.2-1 0.5-1 0.9-1 1.1-1 3.4-1.8 4-1.3 4.6-0.8 4.4,0 4,0.6 3,1.1 1.3,0.8 1.1,1 0.9,1.4 0.2,1 0,1 -0.7,2 -1.7,2 -2.1,1.6 -3,1.4 -3,0.9 -3.4,0.7z M1111.8,835.0l-1,0.3 -0.4,0 -1-0.6 -1.6-2.2 -1-2.6 -1-3.9 -0.6-4 -0.6-5 -0.3-5.6 -0.1-6 0.2-6 0.4-6.2 0.7-5.2 0.9-4.1 1-3.2 1-1.9 0.4-0.6 1-0.5 1.1,0.3 1.5,1.6 1,2.1 1.2,3.7 0.9,4 0.9,5.4 0.8,10.2 0,5.4 -0.2,5 -0.4,5 -0.7,4.6 -0.8,3.4 -0.9,3 -1.3,2.6 -1.1,1z M1181.8,738.5l-2,0.2 -2-0.1 -2-0.4 -1.4-0.6 -1.6-1.1 -0.4-0.9 -0.2-1.2 0.4-1 1.2-1.4 1.6-0.9 2-0.7 2.4-0.5 2.6-0.1 2,0.2 2,0.5 1.6,0.9 0.8,1 0.2,1 -0.2,1 -0.6,1 -1.1,1 -1.7,1 -3.6,1.1z M1111.3,824.1l-0.6,0.2 -0.4-0.1 -0.6-0.3 -1-1.6 -0.4-1.4 -0.6-1.9 -0.7-4 -0.6-8 0.2-7.6 0.7-6.6 0.6-2.8 0.8-2.4 0.6-0.7 0.4-0.4 0.6,0 0.7,0.5 0.7,1 1,2.4 0.6,2.3 0.9,6.3 0.4,6 -0.2,7 -0.7,5.9 -1,3.9 -0.5,1.2 -0.9,1.1z M1177.0,818.0 L1181.0,816.0 L1185.0,822.0 L1186.0,830.0 L1182.0,831.0 L1178.0,826.0Z M1181.0,843.0 L1186.0,842.0 L1188.0,847.0 L1184.0,851.0 L1180.0,848.0Z" stroke="#3a3a3a" stroke-width="0.9" fill="none"/>
<path d="M1196.6,818.5h1.3M1170.3,845.7h1.3M1168.9,830.7h1.3M1147.6,805.9h1.3M1174.3,853.1h1.3M1168.9,810.5h1.3M1164.4,781.6h1.3M1157.4,858.6h1.3M1214.8,775.3h1.3M1204.8,771.2h1.3M1203.3,860.7h1.3M1167.3,813.9h1.3M1153.9,715.7h1.3M1207.2,803.8h1.3M1150.2,817.0h1.3M1111.0,867.3h1.3M1184.9,792.2h1.3M1192.4,866.9h1.3M1162.3,820.5h1.3M1205.8,802.5h1.3M1208.4,745.5h1.3M1212.9,782.6h1.3M1181.4,795.4h1.3M1197.8,847.4h1.3M1194.7,847.8h1.3M1213.6,865.8h1.3M1207.7,783.9h1.3M1194.5,809.8h1.3M1178.5,809.6h1.3M1208.7,745.3h1.3M1153.7,773.8h1.3M1145.4,775.1h1.3M1187.9,801.1h1.3M1191.7,852.0h1.3M1158.4,801.2h1.3M1086.3,846.2h1.3M1146.8,855.6h1.3M1155.4,830.8h1.3M1223.9,777.5h1.3M1147.6,785.8h1.3M1207.0,789.2h1.3M1153.1,812.3h1.3M1189.5,789.1h1.3M1161.5,710.4h1.3M1204.5,796.9h1.3M1153.0,841.9h1.3M1164.7,713.1h1.3M1165.7,814.1h1.3M1086.7,791.4h1.3M1146.5,872.4h1.3M1141.3,772.9h1.3M1213.2,835.7h1.3M1177.8,867.0h1.3M1092.4,805.5h1.3M1143.3,806.5h1.3M1163.6,848.0h1.3M1199.6,713.3h1.3M1111.7,868.0h1.3M1140.4,779.4h1.3M1088.2,783.9h1.3M1162.5,859.3h1.3M1158.6,829.2h1.3M1222.0,838.5h1.3M1087.8,809.3h1.3M1210.3,870.8h1.3M1154.0,834.1h1.3M1158.5,853.7h1.3M1145.0,786.8h1.3M1158.3,713.5h1.3M1195.6,812.4h1.3M1089.3,827.0h1.3M1205.5,775.4h1.3M1217.9,835.1h1.3M1195.2,853.2h1.3M1177.5,814.2h1.3M1088.0,846.6h1.3M1171.8,709.4h1.3M1090.9,799.9h1.3M1169.4,712.5h1.3M1110.6,721.3h1.3M1163.3,864.7h1.3M1169.7,800.3h1.3M1175.5,847.5h1.3M1205.6,789.7h1.3M1126.7,859.1h1.3M1155.2,797.9h1.3M1151.0,860.1h1.3M1080.5,719.2h1.3M1171.2,865.6h1.3M1212.4,770.3h1.3M1187.4,805.7h1.3M1158.8,842.6h1.3M1206.3,839.9h1.3M1217.9,780.7h1.3M1172.8,836.2h1.3M1141.0,772.5h1.3M1163.4,839.7h1.3M1199.6,764.6h1.3M1170.4,840.4h1.3M1197.3,784.4h1.3M1155.2,846.0h1.3M1147.9,852.1h1.3M1152.3,795.4h1.3M1145.5,774.8h1.3M1193.4,786.6h1.3M1150.0,810.0h1.3M1101.9,870.7h1.3M1204.2,753.1h1.3M1159.8,822.4h1.3M1171.3,823.5h1.3M1087.5,819.3h1.3M1129.2,861.8h1.3M1198.5,713.1h1.3M1169.9,792.3h1.3M1175.7,845.6h1.3M1183.0,824.0h1.3M1164.2,870.5h1.3M1159.8,794.5h1.3M1148.4,839.6h1.3M1177.2,864.3h1.3M1189.8,861.7h1.3M1090.0,740.9h1.3M1209.5,747.6h1.3M1145.9,826.4h1.3M1195.5,868.5h1.3M1096.3,731.5h1.3M1144.2,859.3h1.3M1149.3,852.1h1.3M1143.9,815.3h1.3M1160.2,841.9h1.3M1164.0,863.2h1.3M1178.9,837.6h1.3M1220.6,718.6h1.3M1146.9,802.6h1.3M1162.7,804.6h1.3M1197.7,776.7h1.3M1221.3,829.3h1.3M1182.1,706.0h1.3M1134.6,717.2h1.3M1158.3,804.6h1.3M1159.6,715.7h1.3M1179.0,825.0h1.3M1143.1,870.0h1.3M1224.0,733.1h1.3M1082.6,803.0h1.3M1177.8,815.1h1.3M1155.1,870.3h1.3M1143.8,814.3h1.3M1211.5,798.9h1.3M1149.9,793.5h1.3M1147.3,839.2h1.3M1180.7,844.3h1.3M1169.8,826.3h1.3M1178.7,873.2h1.3M1203.8,837.0h1.3M1204.5,796.7h1.3M1171.0,826.3h1.3M1202.7,837.2h1.3M1179.5,877.8h1.3M1180.0,831.2h1.3M1159.5,807.9h1.3M1142.4,863.6h1.3M1168.8,832.9h1.3M1195.2,782.4h1.3M1179.9,851.2h1.3M1189.4,858.7h1.3M1190.5,794.4h1.3M1096.5,732.1h1.3M1196.6,836.2h1.3M1141.4,771.6h1.3M1165.9,830.7h1.3M1158.8,850.0h1.3M1144.8,811.8h1.3M1145.3,793.9h1.3M1143.2,812.2h1.3M1175.8,795.6h1.3M1199.2,799.3h1.3M1148.4,869.2h1.3M1211.1,836.8h1.3M1083.1,816.6h1.3M1213.7,834.4h1.3M1179.5,785.8h1.3M1141.7,770.9h1.3M1164.3,801.8h1.3M1198.2,836.7h1.3M1148.3,819.3h1.3M1153.5,788.2h1.3M1182.7,851.4h1.3M1186.0,848.4h1.3M1195.4,771.7h1.3M1184.8,853.0h1.3M1145.0,773.1h1.3M1221.1,858.0h1.3M1158.3,817.6h1.3M1167.8,832.4h1.3M1186.1,841.0h1.3M1171.6,863.6h1.3M1202.7,785.6h1.3M1144.3,770.6h1.3M1149.1,798.7h1.3M1148.0,827.6h1.3M1195.0,852.9h1.3M1175.2,867.0h1.3M1211.2,814.1h1.3M1185.1,785.0h1.3M1146.5,800.2h1.3M1194.4,827.9h1.3M1157.8,837.1h1.3M1161.9,801.3h1.3M1188.5,837.9h1.3M1169.6,864.1h1.3M1172.0,840.9h1.3M1200.5,795.9h1.3M1147.5,801.4h1.3M1183.8,780.7h1.3M1144.6,826.5h1.3M1205.3,848.5h1.3M1150.1,826.4h1.3M1146.6,804.3h1.3M1123.8,866.6h1.3M1160.7,868.6h1.3M1173.8,862.1h1.3M1188.6,813.1h1.3M1190.0,826.3h1.3M1204.3,797.9h1.3M1196.4,831.9h1.3M1085.2,770.0h1.3M1151.5,830.8h1.3M1196.2,871.0h1.3M1215.0,809.8h1.3M1092.9,831.7h1.3M1095.8,863.3h1.3M1205.4,788.3h1.3M1211.0,784.4h1.3M1169.1,862.2h1.3M1167.6,782.7h1.3M1145.1,848.4h1.3M1175.1,860.1h1.3M1086.2,836.2h1.3M1154.5,773.9h1.3M1212.7,828.8h1.3M1206.4,748.6h1.3M1152.8,812.5h1.3M1142.2,799.9h1.3M1094.4,736.6h1.3M1155.0,775.6h1.3M1145.8,799.9h1.3M1089.6,860.0h1.3M1200.0,711.7h1.3M1193.5,800.3h1.3M1192.7,774.6h1.3M1138.4,866.6h1.3M1151.0,836.4h1.3M1204.3,807.3h1.3M1162.9,783.0h1.3M1163.1,795.8h1.3M1199.6,841.2h1.3M1173.2,797.8h1.3M1092.2,817.7h1.3M1204.8,857.5h1.3M1096.9,728.8h1.3M1096.6,866.2h1.3M1149.0,811.3h1.3M1144.1,848.6h1.3M1143.6,804.4h1.3M1176.4,841.1h1.3M1143.3,774.6h1.3M1191.7,861.9h1.3M1170.3,866.3h1.3M1180.0,844.1h1.3M1213.7,836.1h1.3M1158.0,873.3h1.3M1196.5,854.7h1.3M1150.3,787.3h1.3M1203.4,768.8h1.3M1168.0,834.0h1.3M1154.7,835.3h1.3M1149.4,851.0h1.3M1198.9,832.5h1.3M1166.2,831.1h1.3M1158.3,865.2h1.3M1151.0,833.3h1.3M1184.5,795.9h1.3M1207.8,795.6h1.3M1121.1,871.3h1.3M1205.7,770.5h1.3M1167.1,792.7h1.3M1167.7,825.0h1.3M1183.8,828.2h1.3M1166.5,820.4h1.3M1143.0,859.4h1.3M1172.9,854.1h1.3M1187.1,809.7h1.3M1204.8,777.3h1.3M1180.6,790.9h1.3M1193.9,809.8h1.3M1092.9,775.7h1.3M1146.4,865.5h1.3M1179.5,826.9h1.3M1154.8,860.5h1.3M1150.4,843.9h1.3M1210.7,833.7h1.3M1196.1,849.3h1.3M1144.2,833.6h1.3M1191.2,834.9h1.3M1173.3,824.7h1.3M1153.5,837.0h1.3M1156.7,859.1h1.3M1146.4,827.2h1.3M1161.5,790.5h1.3M1202.5,832.5h1.3M1204.0,869.0h1.3M1090.9,819.6h1.3M1162.3,853.6h1.3M1216.1,785.1h1.3M1151.4,827.8h1.3M1151.7,873.2h1.3M1162.9,803.2h1.3M1098.0,861.9h1.3M1189.3,802.1h1.3M1144.7,773.3h1.3M1205.0,802.9h1.3M1162.0,873.4h1.3M1196.6,807.8h1.3M1176.2,865.5h1.3M1203.5,776.7h1.3M1174.8,813.3h1.3M1165.2,825.5h1.3M1147.5,805.8h1.3M1173.0,816.6h1.3M1145.8,772.0h1.3M1147.9,790.2h1.3M1143.6,805.9h1.3M1144.3,716.9h1.3M1157.0,829.5h1.3M1179.1,870.5h1.3M1161.7,837.1h1.3M1212.4,865.6h1.3M1221.1,755.9h1.3M1208.7,796.1h1.3M1140.6,874.2h1.3M1185.1,861.9h1.3M1153.4,772.8h1.3M1132.6,851.8h1.3M1187.4,834.9h1.3M1093.7,744.2h1.3M1207.7,772.4h1.3M1151.7,717.7h1.3M1188.4,816.5h1.3M1185.9,789.1h1.3M1094.4,853.0h1.3M1215.6,837.9h1.3M1202.6,807.2h1.3M1184.8,778.7h1.3M1171.6,787.2h1.3M1085.3,845.1h1.3M1151.9,800.2h1.3M1159.4,837.7h1.3M1211.4,844.2h1.3M1180.5,846.9h1.3M1157.6,844.0h1.3M1166.5,828.8h1.3M1086.2,816.2h1.3M1140.4,804.3h1.3M1151.3,859.1h1.3M1146.6,840.3h1.3M1159.9,784.4h1.3M1093.9,781.0h1.3M1165.2,779.5h1.3M1179.2,788.3h1.3M1210.9,801.2h1.3M1200.7,786.6h1.3M1150.5,774.1h1.3M1147.1,771.3h1.3M1095.8,722.6h1.3M1208.3,780.5h1.3M1208.0,788.2h1.3M1134.0,851.9h1.3M1200.6,805.3h1.3M1165.7,859.1h1.3M1148.2,717.9h1.3M1203.6,834.9h1.3M1149.9,856.8h1.3M1149.7,824.1h1.3M1160.5,798.9h1.3M1146.5,803.3h1.3M1200.9,762.9h1.3M1219.8,727.3h1.3M1156.0,840.3h1.3M1109.6,867.8h1.3M1140.3,795.6h1.3M1155.1,832.5h1.3M1197.5,712.3h1.3M1168.8,848.2h1.3M1207.5,815.8h1.3M1205.5,816.4h1.3M1170.3,840.0h1.3M1171.0,779.3h1.3M1151.5,778.9h1.3M1157.9,806.7h1.3M1151.3,869.7h1.3M1198.4,808.2h1.3M1196.1,804.6h1.3M1172.0,834.8h1.3M1205.0,762.6h1.3M1143.9,852.4h1.3M1150.0,839.6h1.3M1176.4,826.3h1.3M1149.0,821.7h1.3M1190.7,710.4h1.3M1171.1,789.3h1.3M1088.0,724.2h1.3M1162.0,714.7h1.3M1215.4,791.6h1.3M1200.3,828.1h1.3M1192.8,805.2h1.3M1160.3,838.1h1.3M1175.8,787.2h1.3M1153.3,876.6h1.3M1176.9,861.0h1.3M1207.3,799.4h1.3M1215.4,783.4h1.3M1157.4,859.2h1.3M1208.4,801.9h1.3M1196.1,783.0h1.3M1172.3,791.6h1.3M1164.4,838.2h1.3M1217.3,818.1h1.3M1165.8,820.5h1.3M1213.3,722.5h1.3M1212.9,821.4h1.3M1123.2,721.8h1.3M1177.4,851.9h1.3M1145.6,808.3h1.3M1197.0,828.9h1.3M1215.8,768.1h1.3M1179.4,778.5h1.3M1203.1,804.0h1.3M1098.3,719.2h1.3M1154.7,851.6h1.3M1210.7,780.4h1.3M1175.7,861.9h1.3M1171.1,867.7h1.3M1183.3,818.6h1.3M1105.2,864.6h1.3M1196.2,856.7h1.3M1148.2,805.0h1.3M1093.6,763.1h1.3M1165.8,790.8h1.3M1145.3,860.3h1.3M1146.5,804.1h1.3M1181.6,779.0h1.3M1173.5,841.4h1.3M1173.0,806.4h1.3M1216.2,766.8h1.3M1151.5,803.9h1.3M1176.1,817.7h1.3M1172.2,806.9h1.3M1164.4,842.5h1.3M1084.8,762.6h1.3M1203.8,784.6h1.3M1183.1,836.5h1.3M1210.3,834.4h1.3M1162.4,791.8h1.3M1147.0,859.5h1.3M1208.2,831.7h1.3M1167.7,788.3h1.3M1084.3,748.9h1.3M1158.0,876.0h1.3M1160.7,823.9h1.3M1157.0,859.5h1.3M1159.7,811.8h1.3M1141.5,769.1h1.3M1142.4,848.3h1.3M1211.0,876.4h1.3M1166.0,843.6h1.3M1193.5,793.3h1.3M1152.0,777.4h1.3M1195.1,777.6h1.3M1095.5,766.0h1.3M1139.8,852.1h1.3M1213.4,812.3h1.3M1185.0,797.5h1.3M1094.9,867.7h1.3M1198.7,814.2h1.3M1210.6,811.7h1.3M1150.9,715.6h1.3M1171.3,789.8h1.3M1198.8,820.5h1.3M1137.7,854.5h1.3M1201.8,774.3h1.3M1145.6,804.5h1.3M1177.4,710.3h1.3M1151.5,714.6h1.3M1153.9,822.7h1.3M1088.4,739.0h1.3M1198.2,808.4h1.3M1196.9,861.7h1.3M1217.8,858.0h1.3M1149.9,778.9h1.3M1165.2,710.2h1.3M1138.9,847.8h1.3M1116.6,863.9h1.3M1211.7,720.9h1.3M1202.0,757.4h1.3M1156.0,860.6h1.3M1143.6,716.1h1.3M1098.5,724.4h1.3M1193.7,772.7h1.3M1114.9,717.8h1.3M1151.0,841.8h1.3M1148.9,797.4h1.3M1204.6,811.4h1.3M1162.7,872.2h1.3M1201.9,852.4h1.3M1146.9,819.8h1.3M1152.1,860.3h1.3M1194.5,780.1h1.3M1214.7,707.4h1.3M1173.8,795.3h1.3M1177.4,854.6h1.3M1210.7,833.8h1.3M1219.0,781.0h1.3M1208.8,792.0h1.3M1200.9,837.8h1.3M1207.2,776.8h1.3M1184.3,712.4h1.3M1113.2,867.4h1.3M1168.8,869.5h1.3M1188.2,785.2h1.3M1194.4,777.8h1.3M1152.4,792.8h1.3M1100.4,862.6h1.3M1201.8,812.3h1.3M1144.7,821.4h1.3M1171.8,780.7h1.3M1159.5,798.0h1.3M1157.0,863.1h1.3M1143.7,809.4h1.3M1149.3,792.7h1.3M1208.1,782.4h1.3M1172.8,703.2h1.3M1151.1,829.3h1.3M1104.8,717.5h1.3M1152.7,792.5h1.3M1090.7,780.2h1.3M1184.0,709.8h1.3M1188.7,829.6h1.3M1170.3,790.6h1.3M1203.3,846.4h1.3M1172.1,858.3h1.3M1210.8,808.0h1.3M1156.2,850.3h1.3M1143.8,773.4h1.3M1150.2,822.1h1.3M1122.4,861.4h1.3M1170.2,828.6h1.3M1167.5,844.9h1.3M1193.9,869.2h1.3M1092.1,822.6h1.3M1180.0,829.0h1.3M1214.3,816.4h1.3M1191.6,793.3h1.3M1203.4,843.4h1.3M1173.8,820.8h1.3M1141.2,856.8h1.3M1179.4,843.9h1.3M1214.6,823.9h1.3M1102.8,864.8h1.3M1193.4,796.0h1.3M1200.4,787.2h1.3M1198.5,770.2h1.3M1203.8,815.6h1.3M1114.5,707.2h1.3M1170.7,818.0h1.3M1157.5,820.4h1.3M1172.2,823.1h1.3M1079.2,783.7h1.3M1152.5,813.6h1.3M1171.9,791.3h1.3M1120.6,864.6h1.3M1141.3,805.4h1.3M1153.0,787.0h1.3M1205.0,873.6h1.3M1105.5,865.1h1.3M1211.6,774.6h1.3M1167.6,808.1h1.3M1197.0,709.7h1.3M1158.5,799.6h1.3M1152.7,818.1h1.3M1195.3,841.0h1.3M1090.5,852.6h1.3M1140.7,772.0h1.3M1214.9,780.7h1.3M1202.9,805.7h1.3M1213.6,781.0h1.3M1144.5,841.2h1.3M1157.6,854.1h1.3M1116.9,717.5h1.3M1194.0,832.3h1.3M1177.5,786.2h1.3M1190.2,792.9h1.3M1162.6,797.7h1.3M1160.1,841.7h1.3M1201.0,768.6h1.3M1164.6,786.0h1.3M1206.4,867.7h1.3M1152.4,798.3h1.3M1139.8,869.1h1.3M1159.2,869.7h1.3M1182.2,784.5h1.3M1163.8,713.1h1.3M1146.5,832.6h1.3M1167.5,815.5h1.3M1190.1,775.8h1.3M1143.9,806.7h1.3M1093.8,753.5h1.3M1153.4,806.5h1.3M1157.0,854.9h1.3M1206.7,700.1h1.3M1143.1,790.4h1.3M1210.6,788.3h1.3M1196.0,775.4h1.3M1148.9,844.9h1.3M1208.5,792.9h1.3M1199.2,769.5h1.3M1142.9,786.8h1.3M1199.1,813.0h1.3M1175.0,833.4h1.3M1120.8,859.4h1.3M1186.3,819.2h1.3M1204.7,756.8h1.3M1150.9,857.1h1.3M1188.9,712.6h1.3M1150.1,818.7h1.3M1196.1,790.9h1.3M1200.4,795.0h1.3M1210.8,809.6h1.3M1179.2,862.1h1.3M1202.0,770.9h1.3M1096.7,860.7h1.3M1155.2,834.2h1.3M1169.2,826.0h1.3M1162.8,860.4h1.3M1202.0,784.2h1.3M1177.9,817.8h1.3M1210.2,747.1h1.3M1213.8,783.0h1.3M1140.2,850.3h1.3M1173.9,861.5h1.3M1218.7,814.9h1.3M1086.6,782.2h1.3M1168.1,703.3h1.3M1181.9,845.3h1.3M1183.3,818.2h1.3M1145.4,844.0h1.3M1147.9,861.3h1.3M1176.3,858.4h1.3M1197.2,823.0h1.3M1144.5,784.6h1.3M1176.0,789.0h1.3M1118.4,720.5h1.3M1147.1,867.9h1.3M1142.4,796.4h1.3M1189.9,871.7h1.3M1192.2,774.6h1.3M1169.6,826.6h1.3M1187.2,780.3h1.3M1087.8,827.0h1.3M1203.9,753.6h1.3M1094.6,738.1h1.3M1161.4,797.0h1.3M1161.9,807.9h1.3M1155.2,828.8h1.3M1146.0,834.1h1.3M1171.5,778.5h1.3M1151.8,824.6h1.3M1157.2,833.3h1.3M1164.2,820.7h1.3M1120.0,721.7h1.3M1140.1,791.4h1.3M1178.0,804.8h1.3M1154.0,783.6h1.3M1189.6,778.6h1.3M1224.1,859.4h1.3M1150.1,815.1h1.3M1196.7,799.0h1.3M1148.3,862.7h1.3M1214.7,746.2h1.3M1154.3,856.8h1.3M1172.9,802.0h1.3M1207.9,746.6h1.3M1193.1,813.3h1.3M1150.7,815.7h1.3M1208.7,857.1h1.3M1183.6,784.4h1.3M1146.6,816.9h1.3M1186.9,792.1h1.3M1165.7,870.1h1.3M1091.8,793.3h1.3M1174.0,849.8h1.3M1101.1,715.3h1.3M1189.6,849.5h1.3M1098.0,861.1h1.3M1142.4,860.9h1.3M1173.4,841.4h1.3M1149.2,832.8h1.3M1210.4,796.9h1.3M1155.8,869.3h1.3M1214.6,803.1h1.3M1183.7,818.7h1.3M1179.3,781.1h1.3M1195.0,804.6h1.3M1091.5,750.4h1.3M1215.9,803.6h1.3M1233.9,801.4h1.3M1142.6,842.7h1.3M1082.4,736.0h1.3M1208.1,791.2h1.3M1203.3,793.3h1.3M1134.9,857.9h1.3M1159.9,806.3h1.3M1192.1,813.9h1.3M1167.4,880.4h1.3M1214.3,772.4h1.3M1141.2,716.4h1.3M1150.8,827.3h1.3M1179.8,838.9h1.3M1185.3,795.0h1.3M1174.5,874.6h1.3M1193.6,808.1h1.3M1151.6,809.2h1.3M1152.2,799.5h1.3M1150.0,829.9h1.3M1081.4,733.3h1.3M1144.5,834.3h1.3M1176.9,871.1h1.3M1165.0,866.4h1.3M1150.5,822.9h1.3M1155.9,778.3h1.3M1172.6,842.9h1.3M1174.1,794.5h1.3M1213.2,753.7h1.3M1192.0,778.0h1.3M1205.9,777.3h1.3M1145.1,872.0h1.3M1168.7,845.9h1.3M1204.9,795.7h1.3M1197.1,830.0h1.3M1185.9,850.8h1.3M1091.6,853.5h1.3M1212.1,740.2h1.3M1179.9,801.3h1.3M1152.7,857.6h1.3M1196.3,840.0h1.3M1185.0,821.7h1.3M1155.9,789.5h1.3M1212.6,786.4h1.3M1153.6,810.5h1.3M1179.0,791.5h1.3M1206.4,768.0h1.3M1176.4,829.5h1.3M1098.0,862.4h1.3M1200.1,781.8h1.3M1158.5,778.8h1.3M1091.2,838.2h1.3M1140.7,777.0h1.3M1168.2,829.0h1.3M1199.0,833.5h1.3M1189.1,869.8h1.3M1148.9,875.9h1.3M1146.4,873.0h1.3M1194.5,786.5h1.3M1171.5,806.0h1.3M1177.4,794.1h1.3M1139.9,847.7h1.3M1216.1,750.9h1.3M1199.3,775.4h1.3M1108.8,867.8h1.3M1184.6,841.9h1.3M1145.0,867.1h1.3M1158.3,781.4h1.3M1156.4,867.6h1.3M1150.1,770.3h1.3M1142.8,784.4h1.3M1154.3,831.8h1.3M1144.5,786.0h1.3M1170.0,832.7h1.3M1195.6,799.2h1.3M1094.8,742.7h1.3M1212.3,739.3h1.3M1213.0,788.3h1.3M1168.6,847.0h1.3M1188.1,864.1h1.3M1179.8,782.0h1.3M1142.2,841.7h1.3M1143.4,837.7h1.3M1145.2,824.9h1.3M1144.2,837.3h1.3M1144.4,774.2h1.3M1161.6,857.4h1.3M1149.4,716.7h1.3M1154.3,848.2h1.3M1191.6,841.2h1.3M1195.0,786.4h1.3M1147.6,797.8h1.3M1188.0,864.1h1.3M1181.9,855.9h1.3M1172.3,804.1h1.3M1147.6,849.0h1.3M1230.6,724.2h1.3M1146.6,828.8h1.3M1192.8,802.5h1.3M1206.3,838.2h1.3M1085.0,748.4h1.3M1152.1,837.2h1.3M1188.7,860.5h1.3M1163.4,809.9h1.3M1196.4,774.7h1.3M1145.8,819.7h1.3M1159.6,823.5h1.3M1200.3,772.8h1.3M1191.1,779.6h1.3M1175.4,818.1h1.3M1156.9,778.7h1.3M1170.8,807.8h1.3M1092.7,769.6h1.3M1190.6,791.9h1.3M1117.5,719.4h1.3M1202.3,781.4h1.3M1195.9,787.9h1.3M1187.0,819.5h1.3M1092.8,809.2h1.3M1129.1,853.8h1.3M1123.3,718.0h1.3M1207.7,859.5h1.3M1203.2,873.3h1.3M1159.2,869.9h1.3M1211.4,854.3h1.3M1172.9,828.4h1.3M1155.1,773.5h1.3M1217.6,726.8h1.3M1181.4,858.8h1.3M1166.4,824.7h1.3M1161.2,855.0h1.3M1161.3,855.0h1.3M1171.0,842.6h1.3M1200.4,860.6h1.3M1144.3,837.5h1.3M1147.8,776.5h1.3M1142.6,842.6h1.3M1203.8,856.3h1.3M1131.2,852.9h1.3M1204.5,783.9h1.3M1169.0,810.4h1.3M1216.6,771.6h1.3M1086.9,790.1h1.3M1165.7,794.7h1.3M1141.3,869.7h1.3M1213.4,786.3h1.3M1171.6,800.4h1.3M1177.0,785.2h1.3M1199.3,779.7h1.3M1157.4,804.9h1.3M1169.0,790.9h1.3M1179.0,803.5h1.3M1184.5,867.6h1.3M1144.7,805.0h1.3M1215.2,721.5h1.3M1200.4,827.6h1.3M1214.2,768.3h1.3M1145.6,862.6h1.3M1190.5,800.9h1.3M1174.9,848.0h1.3M1190.8,856.2h1.3M1158.4,709.8h1.3M1198.1,789.8h1.3M1162.6,816.0h1.3M1154.4,831.3h1.3M1081.6,837.7h1.3M1187.0,835.7h1.3M1203.9,803.2h1.3M1219.5,710.6h1.3M1183.4,784.8h1.3M1173.8,846.0h1.3M1217.0,797.3h1.3M1166.7,824.5h1.3M1167.1,822.2h1.3M1168.0,813.7h1.3M1216.8,819.0h1.3M1209.0,811.2h1.3M1095.8,735.9h1.3M1209.7,852.6h1.3M1189.3,784.3h1.3M1194.8,783.1h1.3M1140.1,712.4h1.3M1173.2,809.3h1.3M1191.6,776.1h1.3M1152.4,841.6h1.3M1185.0,808.9h1.3M1208.8,715.0h1.3M1207.8,859.3h1.3M1151.6,805.9h1.3M1145.9,794.0h1.3M1093.4,810.7h1.3M1183.7,834.3h1.3M1145.1,848.9h1.3M1185.4,709.4h1.3M1180.5,798.3h1.3M1153.6,809.6h1.3M1205.0,771.8h1.3M1169.3,831.8h1.3M1183.7,708.1h1.3M1205.5,852.5h1.3M1204.4,803.6h1.3M1226.2,813.3h1.3M1163.2,714.5h1.3M1212.1,776.8h1.3M1148.5,773.3h1.3M1148.8,807.9h1.3M1101.2,871.1h1.3M1180.3,810.8h1.3M1198.7,785.2h1.3M1210.1,791.2h1.3M1150.1,859.0h1.3M1189.7,808.6h1.3M1163.8,827.5h1.3M1197.1,851.2h1.3M1167.1,819.1h1.3M1163.1,848.6h1.3M1216.8,836.5h1.3M1171.8,831.5h1.3M1191.6,806.2h1.3M1161.4,786.2h1.3M1183.3,843.0h1.3M1222.5,712.0h1.3M1215.6,778.2h1.3M1170.4,801.1h1.3M1144.7,839.8h1.3M1141.9,805.7h1.3M1149.7,827.2h1.3M1182.1,813.7h1.3M1187.6,780.9h1.3M1145.6,816.5h1.3M1163.0,785.4h1.3M1173.8,780.5h1.3M1147.5,830.4h1.3M1204.5,795.5h1.3M1143.3,838.4h1.3M1161.7,796.0h1.3M1208.1,705.1h1.3M1154.2,827.6h1.3M1144.3,840.4h1.3M1157.6,829.1h1.3M1174.1,788.6h1.3M1160.5,848.8h1.3M1158.0,790.2h1.3M1188.2,868.2h1.3M1202.1,773.9h1.3M1150.8,806.8h1.3M1172.0,816.1h1.3M1090.9,795.7h1.3M1163.7,809.3h1.3M1153.9,833.5h1.3M1179.8,798.7h1.3M1164.6,838.2h1.3M1217.7,774.3h1.3M1220.7,730.7h1.3M1195.9,796.3h1.3M1207.8,777.5h1.3M1196.6,781.9h1.3M1168.1,790.4h1.3M1095.0,856.2h1.3M1155.3,817.7h1.3M1162.0,802.8h1.3M1108.1,866.2h1.3M1169.9,778.5h1.3M1168.5,825.2h1.3M1154.6,823.7h1.3M1194.4,814.8h1.3M1183.6,822.6h1.3M1204.2,753.1h1.3M1164.2,815.0h1.3M1186.9,846.2h1.3M1128.2,722.6h1.3M1160.7,865.4h1.3M1195.5,707.7h1.3M1209.5,789.8h1.3M1209.5,713.7h1.3M1151.9,807.3h1.3M1148.0,824.1h1.3M1116.9,865.0h1.3M1182.5,708.0h1.3M1188.4,814.6h1.3M1171.0,784.9h1.3M1081.7,801.9h1.3M1195.2,839.3h1.3M1159.4,840.5h1.3M1143.1,798.2h1.3M1185.2,795.5h1.3M1182.1,831.8h1.3M1166.2,779.3h1.3M1197.3,791.8h1.3M1167.7,869.8h1.3M1157.6,833.7h1.3M1147.4,845.9h1.3M1145.4,824.3h1.3M1188.5,794.7h1.3M1197.7,774.3h1.3M1177.3,798.4h1.3M1210.9,785.2h1.3M1188.1,787.3h1.3M1217.3,827.1h1.3M1185.5,815.2h1.3M1168.5,829.1h1.3M1142.2,805.1h1.3M1205.3,774.7h1.3M1162.2,850.4h1.3M1208.5,807.0h1.3M1145.4,775.4h1.3M1139.4,868.7h1.3M1119.4,870.6h1.3M1168.2,816.9h1.3M1159.9,813.7h1.3M1144.7,816.9h1.3M1170.8,795.5h1.3M1140.3,795.5h1.3M1159.0,850.6h1.3M1176.0,827.5h1.3M1150.7,835.3h1.3M1092.2,831.9h1.3M1173.0,831.7h1.3M1144.4,810.8h1.3M1140.9,777.7h1.3M1156.1,846.7h1.3M1217.8,822.2h1.3M1187.0,785.1h1.3M1180.8,811.5h1.3M1145.4,775.6h1.3M1218.0,775.1h1.3M1186.5,844.7h1.3M1181.6,829.8h1.3M1189.9,848.0h1.3M1201.9,848.1h1.3M1183.6,830.0h1.3M1203.6,808.3h1.3M1192.9,781.2h1.3M1162.0,816.4h1.3M1212.8,827.1h1.3M1163.1,824.2h1.3M1163.7,790.4h1.3M1164.8,854.0h1.3M1154.3,812.2h1.3M1213.4,784.8h1.3M1200.3,836.8h1.3M1209.8,767.7h1.3M1189.1,788.0h1.3M1152.8,791.1h1.3M1182.2,711.7h1.3M1147.9,807.2h1.3M1170.1,785.2h1.3M1086.7,795.9h1.3M1092.7,837.0h1.3M1140.9,861.9h1.3M1147.1,829.4h1.3M1214.8,788.3h1.3M1213.5,869.5h1.3M1178.8,857.6h1.3M1139.8,774.3h1.3M1186.7,777.4h1.3M1155.3,790.8h1.3M1216.6,790.1h1.3M1153.7,852.5h1.3M1174.5,797.5h1.3M1203.0,799.7h1.3M1194.6,833.2h1.3M1179.2,817.5h1.3M1194.3,834.8h1.3M1092.3,797.6h1.3M1212.8,812.1h1.3M1143.4,768.8h1.3M1147.3,800.7h1.3M1177.4,857.9h1.3M1144.8,790.1h1.3M1159.4,834.4h1.3M1179.2,845.5h1.3M1143.8,852.2h1.3M1116.3,864.7h1.3M1203.4,794.1h1.3M1149.9,804.8h1.3M1174.8,809.4h1.3M1157.1,803.0h1.3M1172.8,780.5h1.3M1211.9,786.1h1.3M1153.8,851.1h1.3M1167.1,824.4h1.3M1198.3,853.1h1.3M1145.3,856.3h1.3M1163.8,822.0h1.3M1153.6,780.6h1.3M1214.9,873.9h1.3M1189.3,817.3h1.3M1203.7,813.4h1.3M1152.3,855.4h1.3M1185.8,813.0h1.3M1187.8,838.7h1.3M1186.2,839.9h1.3M1151.6,777.6h1.3M1153.9,857.1h1.3M1167.1,786.4h1.3M1212.7,853.7h1.3M1111.8,720.1h1.3M1182.7,816.2h1.3M1210.2,830.1h1.3M1090.6,850.7h1.3M1143.4,852.5h1.3M1195.2,822.4h1.3M1181.7,818.3h1.3M1209.0,785.2h1.3M1142.6,811.3h1.3M1140.4,843.7h1.3M1214.1,722.0h1.3M1098.7,860.9h1.3M1148.4,857.8h1.3M1182.9,861.4h1.3M1144.4,823.5h1.3M1082.5,852.9h1.3M1202.4,843.3h1.3M1163.4,836.6h1.3M1099.8,875.9h1.3M1186.5,810.6h1.3M1126.8,855.5h1.3M1182.9,788.9h1.3M1189.3,822.0h1.3M1196.6,858.0h1.3M1144.2,866.7h1.3M1146.9,787.7h1.3M1157.6,825.7h1.3M1161.5,783.7h1.3M1176.9,797.7h1.3M1158.3,856.9h1.3M1203.3,804.1h1.3M1154.5,845.8h1.3M1202.9,770.6h1.3M1185.7,793.8h1.3M1206.9,777.7h1.3M1149.6,874.0h1.3M1199.5,798.7h1.3M1211.6,767.7h1.3M1224.4,845.8h1.3M1140.3,802.7h1.3M1180.8,783.7h1.3M1211.7,800.2h1.3M1188.6,784.5h1.3M1147.1,809.6h1.3M1190.2,828.7h1.3M1217.2,790.8h1.3M1161.9,789.8h1.3M1091.6,835.9h1.3M1167.5,838.9h1.3M1197.6,805.4h1.3M1149.2,870.6h1.3M1136.9,718.8h1.3M1158.9,798.1h1.3M1183.2,799.1h1.3M1199.7,874.1h1.3M1193.6,867.6h1.3M1169.5,814.8h1.3M1215.3,845.5h1.3M1152.9,780.5h1.3M1172.6,818.3h1.3M1210.7,825.5h1.3M1146.3,848.4h1.3M1184.0,839.5h1.3M1094.3,860.8h1.3M1139.9,862.2h1.3M1161.8,846.0h1.3M1217.7,800.6h1.3M1143.0,807.6h1.3M1207.6,815.6h1.3M1150.5,793.3h1.3M1179.9,805.9h1.3M1156.3,864.1h1.3M1094.8,772.8h1.3M1172.0,710.3h1.3M1183.4,850.9h1.3M1178.3,871.0h1.3M1108.2,871.0h1.3M1154.9,839.4h1.3M1187.4,797.3h1.3M1211.6,853.2h1.3M1165.3,849.2h1.3M1173.9,793.3h1.3M1189.9,794.1h1.3M1180.5,790.2h1.3M1192.1,857.9h1.3M1132.8,851.6h1.3M1159.8,815.2h1.3M1198.9,868.4h1.3M1200.4,866.0h1.3M1082.3,786.3h1.3M1140.8,782.4h1.3M1144.7,839.9h1.3M1166.5,781.1h1.3M1090.0,792.6h1.3M1172.9,849.5h1.3M1185.7,847.6h1.3M1142.4,782.4h1.3M1142.0,719.3h1.3M1157.9,828.3h1.3M1168.3,869.4h1.3M1140.3,793.4h1.3M1158.4,833.5h1.3M1141.7,879.1h1.3M1170.2,797.1h1.3M1146.6,835.8h1.3M1157.4,818.7h1.3M1201.0,804.0h1.3M1144.9,840.6h1.3M1191.2,784.0h1.3M1143.1,778.5h1.3M1149.6,831.2h1.3M1192.8,805.4h1.3M1143.9,797.1h1.3M1168.2,823.1h1.3M1106.9,718.6h1.3M1198.1,788.6h1.3M1172.1,837.5h1.3M1145.0,849.8h1.3M1178.1,782.3h1.3M1177.3,847.2h1.3M1169.1,818.8h1.3M1201.7,817.7h1.3M1216.9,857.2h1.3M1188.5,779.0h1.3M1151.6,811.5h1.3M1171.4,844.9h1.3M1152.7,792.2h1.3M1196.7,801.6h1.3M1213.4,767.7h1.3M1142.6,844.5h1.3M1159.3,796.0h1.3M1148.3,809.1h1.3M1186.9,865.5h1.3M1083.6,822.3h1.3M1217.2,825.5h1.3M1151.1,795.8h1.3M1177.9,801.7h1.3M1217.2,827.7h1.3M1149.5,795.8h1.3M1198.1,820.3h1.3M1157.6,783.1h1.3M1224.8,724.3h1.3M1167.1,825.8h1.3M1148.1,860.7h1.3M1153.5,782.7h1.3M1159.0,857.4h1.3M1149.6,790.9h1.3M1174.3,794.6h1.3M1090.4,812.7h1.3M1095.3,865.9h1.3M1190.6,852.0h1.3M1221.1,794.7h1.3M1165.4,809.6h1.3M1166.0,813.7h1.3M1093.5,865.9h1.3M1147.6,811.6h1.3M1157.2,853.0h1.3M1177.0,825.1h1.3M1159.2,776.7h1.3M1152.3,836.9h1.3M1156.9,845.2h1.3M1208.3,799.3h1.3M1186.5,867.7h1.3M1221.4,865.9h1.3M1167.3,869.8h1.3M1208.1,814.4h1.3M1163.6,780.1h1.3M1204.4,779.0h1.3M1189.6,856.0h1.3M1182.5,816.0h1.3M1151.2,831.5h1.3M1147.4,841.2h1.3M1203.9,859.0h1.3M1159.7,862.6h1.3M1148.7,856.2h1.3M1179.8,790.4h1.3M1201.3,856.3h1.3M1135.8,719.2h1.3M1149.4,857.7h1.3M1168.5,711.7h1.3M1166.2,830.6h1.3M1166.3,859.0h1.3M1181.7,797.2h1.3M1178.5,800.5h1.3M1209.4,875.7h1.3M1170.4,850.9h1.3M1129.5,715.6h1.3M1227.9,803.5h1.3M1121.7,862.7h1.3M1144.3,850.0h1.3M1203.1,784.4h1.3M1168.0,822.0h1.3M1172.3,811.6h1.3M1158.1,839.7h1.3M1116.7,717.9h1.3M1148.2,817.7h1.3M1157.0,715.2h1.3M1195.8,815.2h1.3M1149.2,851.1h1.3M1183.8,818.6h1.3M1207.7,716.3h1.3M1222.5,778.6h1.3M1196.5,849.3h1.3M1197.7,862.7h1.3M1151.9,799.3h1.3M1191.6,820.8h1.3M1172.1,817.9h1.3M1090.7,814.3h1.3M1209.2,802.0h1.3M1175.1,783.1h1.3M1153.3,812.0h1.3M1156.5,840.8h1.3M1111.6,708.7h1.3M1093.4,796.5h1.3M1211.9,873.2h1.3M1174.7,833.1h1.3M1212.7,765.9h1.3M1151.0,713.4h1.3M1190.1,873.0h1.3M1204.8,824.2h1.3M1198.8,811.5h1.3M1204.1,753.1h1.3M1141.9,788.5h1.3M1142.6,845.5h1.3M1189.1,793.6h1.3M1173.0,819.8h1.3M1154.5,710.7h1.3M1139.2,859.7h1.3M1192.0,867.4h1.3M1150.1,820.8h1.3M1212.6,783.1h1.3M1208.1,848.5h1.3M1149.2,853.7h1.3M1157.3,824.4h1.3M1187.9,785.3h1.3M1203.2,849.7h1.3M1141.8,774.7h1.3M1156.7,839.2h1.3M1201.2,798.9h1.3" stroke="#000" stroke-width="1.3" fill="none"/>
<path d="M1172.7,814.7h1.3M1215.9,801.0h1.3M1160.0,784.7h1.3M1209.0,780.8h1.3M1162.0,781.0h1.3M1179.0,800.9h1.3M1185.3,793.4h1.3M1208.0,765.9h1.3M1142.1,868.4h1.3M1204.9,781.3h1.3M1150.1,794.5h1.3M1156.9,811.1h1.3M1205.4,786.2h1.3M1208.8,822.1h1.3M1158.0,801.7h1.3M1190.0,779.0h1.3M1208.8,803.8h1.3M1149.6,805.7h1.3M1156.8,868.7h1.3M1155.3,715.5h1.3M1148.4,771.2h1.3M1206.2,781.7h1.3M1145.8,788.5h1.3M1175.8,788.1h1.3M1184.3,845.2h1.3M1088.9,832.4h1.3M1167.3,868.7h1.3M1195.4,823.5h1.3M1204.6,819.6h1.3M1170.9,837.1h1.3M1151.4,818.7h1.3M1149.1,838.4h1.3M1217.8,769.6h1.3M1147.6,880.5h1.3M1152.9,776.9h1.3M1096.3,723.6h1.3M1158.6,793.6h1.3M1166.2,830.7h1.3M1167.5,820.2h1.3M1153.6,801.5h1.3M1202.9,766.8h1.3M1184.8,799.3h1.3M1085.6,855.0h1.3M1172.1,837.7h1.3M1157.7,776.0h1.3M1148.3,835.5h1.3M1187.1,704.2h1.3M1149.9,827.2h1.3M1197.7,797.2h1.3M1183.7,806.5h1.3M1168.6,784.8h1.3M1145.2,839.3h1.3M1153.6,802.8h1.3M1217.5,734.9h1.3M1218.9,801.7h1.3M1195.8,711.0h1.3M1184.0,817.9h1.3M1170.4,854.4h1.3M1200.6,767.5h1.3M1199.5,868.8h1.3M1161.5,813.6h1.3M1155.9,863.9h1.3M1212.8,858.8h1.3M1144.2,777.6h1.3M1157.3,830.7h1.3M1151.8,856.5h1.3M1147.3,773.9h1.3M1214.4,738.9h1.3M1197.8,845.8h1.3M1214.3,805.2h1.3M1212.3,766.6h1.3M1222.8,812.4h1.3M1164.8,824.0h1.3M1153.3,783.5h1.3M1207.9,789.7h1.3M1175.8,784.9h1.3M1093.2,850.0h1.3M1142.4,788.9h1.3M1088.2,734.8h1.3M1126.4,858.6h1.3M1205.8,803.3h1.3M1162.0,829.6h1.3M1184.2,823.3h1.3M1180.8,862.8h1.3M1215.0,789.5h1.3M1142.5,780.1h1.3M1186.4,828.5h1.3M1163.2,815.7h1.3M1204.2,858.0h1.3M1192.3,860.6h1.3M1203.5,869.0h1.3M1157.6,785.9h1.3M1215.0,783.7h1.3M1212.6,843.1h1.3M1168.6,852.8h1.3M1144.2,821.9h1.3M1169.1,857.4h1.3M1160.7,828.0h1.3M1217.5,776.8h1.3M1135.7,707.1h1.3M1213.7,875.2h1.3M1129.8,853.6h1.3M1170.9,786.3h1.3M1201.4,758.0h1.3M1198.2,788.9h1.3M1200.8,856.4h1.3M1199.9,833.0h1.3M1096.0,760.0h1.3M1171.2,827.8h1.3M1168.8,843.3h1.3M1165.0,780.0h1.3M1182.8,871.7h1.3M1211.5,765.7h1.3M1217.6,845.0h1.3M1156.0,832.5h1.3M1141.8,847.5h1.3M1188.4,781.6h1.3M1157.8,816.6h1.3M1144.5,832.3h1.3M1194.3,805.9h1.3M1153.2,819.0h1.3M1147.6,840.4h1.3M1198.1,813.9h1.3M1157.7,792.0h1.3M1160.8,777.8h1.3M1148.3,772.7h1.3M1092.6,806.2h1.3M1191.3,778.3h1.3M1199.9,769.2h1.3M1096.1,741.9h1.3M1203.1,852.7h1.3M1178.9,787.7h1.3M1188.0,706.3h1.3M1169.0,839.8h1.3M1158.3,839.2h1.3M1209.1,844.1h1.3M1172.7,876.1h1.3M1140.3,795.2h1.3M1089.4,818.3h1.3M1194.3,805.7h1.3M1213.1,766.2h1.3M1140.3,771.4h1.3M1159.1,842.6h1.3M1161.2,861.0h1.3M1210.0,783.0h1.3M1156.4,872.3h1.3M1156.7,812.4h1.3M1183.3,843.2h1.3M1152.1,778.1h1.3M1163.3,779.5h1.3M1149.4,860.5h1.3M1191.7,782.7h1.3M1200.9,831.8h1.3M1161.6,821.1h1.3M1206.7,879.4h1.3M1192.7,790.9h1.3M1159.7,811.9h1.3M1138.6,854.4h1.3M1100.7,724.8h1.3M1167.6,812.9h1.3M1164.0,797.9h1.3M1183.3,798.4h1.3M1148.1,792.2h1.3M1200.8,862.5h1.3M1183.5,849.4h1.3M1143.4,776.5h1.3M1189.3,816.3h1.3M1204.8,763.6h1.3M1114.3,866.2h1.3M1174.6,804.5h1.3M1152.1,814.6h1.3M1192.6,784.1h1.3M1168.6,850.7h1.3M1166.6,821.7h1.3M1092.4,764.7h1.3M1164.9,830.6h1.3M1173.1,784.1h1.3M1200.4,799.0h1.3M1147.2,830.9h1.3M1214.4,847.1h1.3M1206.8,711.4h1.3M1198.7,814.4h1.3M1152.9,859.8h1.3M1138.9,856.1h1.3M1143.4,798.4h1.3M1152.2,771.3h1.3M1161.3,836.5h1.3M1151.8,823.2h1.3M1162.5,831.9h1.3M1197.7,799.8h1.3M1213.0,732.3h1.3M1146.3,807.8h1.3M1145.8,871.3h1.3M1150.2,851.5h1.3M1183.0,807.5h1.3M1116.8,719.9h1.3M1181.5,864.2h1.3M1088.8,794.6h1.3M1161.1,860.0h1.3M1098.9,873.3h1.3M1151.3,781.8h1.3M1216.6,794.2h1.3M1167.4,837.1h1.3M1214.8,737.0h1.3M1143.8,808.7h1.3M1161.6,789.5h1.3M1181.9,839.2h1.3M1162.1,807.2h1.3M1207.1,835.6h1.3M1171.6,837.6h1.3M1142.5,793.1h1.3M1171.1,792.2h1.3M1091.6,844.3h1.3M1174.1,811.4h1.3M1149.1,835.5h1.3M1201.6,767.2h1.3M1175.3,849.7h1.3M1169.9,841.2h1.3M1179.0,845.5h1.3M1213.1,839.0h1.3M1207.1,778.6h1.3M1139.0,848.5h1.3M1155.2,797.9h1.3M1157.0,811.0h1.3M1199.9,762.9h1.3M1162.9,845.8h1.3M1199.6,778.4h1.3M1149.0,814.4h1.3M1190.7,709.0h1.3M1142.8,814.3h1.3M1160.7,865.4h1.3M1214.6,785.7h1.3M1165.6,785.0h1.3M1155.2,804.9h1.3M1189.4,830.1h1.3M1213.4,771.3h1.3M1187.9,823.4h1.3M1165.2,837.0h1.3M1167.6,800.5h1.3M1138.6,878.5h1.3M1191.3,858.3h1.3M1202.4,784.0h1.3M1172.5,810.3h1.3M1195.6,792.5h1.3M1207.4,776.1h1.3M1167.0,863.3h1.3M1180.8,786.4h1.3M1151.5,852.3h1.3M1224.6,796.0h1.3M1148.7,816.7h1.3M1151.7,797.5h1.3M1217.8,741.1h1.3M1105.1,865.0h1.3M1145.4,829.0h1.3M1139.3,772.7h1.3M1175.2,780.5h1.3M1163.7,789.4h1.3M1158.9,824.5h1.3M1094.4,757.7h1.3M1147.3,815.0h1.3M1160.2,803.1h1.3M1197.7,769.3h1.3M1182.6,813.5h1.3M1165.1,825.6h1.3M1209.3,788.2h1.3M1217.8,854.3h1.3M1141.0,872.5h1.3M1174.1,812.5h1.3M1197.1,712.7h1.3M1112.7,708.2h1.3M1198.7,783.2h1.3M1213.0,792.1h1.3M1179.6,852.2h1.3M1188.4,795.2h1.3M1196.5,819.2h1.3M1208.7,829.6h1.3M1176.0,784.0h1.3M1191.0,809.1h1.3M1168.9,857.0h1.3M1145.6,774.0h1.3M1163.0,785.5h1.3M1187.7,817.2h1.3M1167.9,811.7h1.3M1168.2,839.2h1.3M1175.7,807.4h1.3M1207.8,799.8h1.3M1184.7,798.2h1.3M1187.2,783.6h1.3M1215.5,768.2h1.3M1159.9,815.3h1.3M1192.7,823.4h1.3M1166.0,853.7h1.3M1147.0,854.6h1.3M1210.5,831.6h1.3M1206.4,771.7h1.3M1177.6,837.1h1.3M1180.5,819.8h1.3M1160.8,870.5h1.3M1215.3,790.0h1.3M1207.4,868.4h1.3M1164.0,837.9h1.3M1173.7,830.9h1.3M1214.0,866.6h1.3M1215.4,793.4h1.3M1176.7,706.4h1.3M1174.5,799.9h1.3M1173.1,711.8h1.3M1163.6,783.6h1.3M1156.5,814.2h1.3M1147.0,869.2h1.3M1203.3,761.2h1.3M1214.0,811.2h1.3M1148.2,793.5h1.3M1135.4,717.2h1.3M1149.3,810.2h1.3M1159.1,814.2h1.3M1151.5,783.5h1.3M1152.3,772.2h1.3M1150.7,794.3h1.3M1183.9,799.0h1.3M1207.8,794.3h1.3M1197.4,830.8h1.3M1172.4,812.1h1.3M1187.6,837.0h1.3M1171.0,835.5h1.3M1094.5,764.8h1.3M1143.5,844.1h1.3M1212.7,817.4h1.3M1150.1,838.7h1.3M1221.4,873.0h1.3M1205.9,833.1h1.3M1189.3,803.0h1.3M1169.7,852.8h1.3M1108.0,865.3h1.3M1159.8,710.7h1.3M1109.1,867.7h1.3M1199.5,773.1h1.3M1129.5,853.8h1.3M1145.8,775.3h1.3M1132.8,720.3h1.3M1166.2,857.6h1.3M1149.2,821.2h1.3M1091.5,806.7h1.3M1217.5,823.1h1.3M1158.6,715.0h1.3M1150.4,714.6h1.3M1174.0,793.3h1.3M1213.0,787.6h1.3M1141.9,844.8h1.3M1171.4,856.6h1.3M1144.1,780.9h1.3M1200.7,774.3h1.3M1153.6,834.2h1.3M1144.8,820.7h1.3M1143.8,794.8h1.3M1208.8,806.2h1.3M1209.2,789.6h1.3M1170.3,789.0h1.3M1205.9,791.4h1.3M1211.8,872.8h1.3M1118.1,866.4h1.3M1197.3,774.2h1.3M1204.1,801.3h1.3M1208.5,865.0h1.3M1168.2,823.5h1.3M1092.5,827.5h1.3M1149.5,716.3h1.3M1209.1,800.5h1.3M1095.7,724.5h1.3M1161.3,786.8h1.3M1162.4,825.9h1.3M1144.9,855.1h1.3M1215.1,767.6h1.3M1198.8,803.1h1.3M1213.8,790.2h1.3M1144.7,848.3h1.3M1146.0,772.4h1.3M1153.7,710.7h1.3M1191.6,852.0h1.3M1198.6,847.9h1.3M1150.0,862.7h1.3M1189.8,809.4h1.3M1181.8,798.4h1.3M1171.1,783.6h1.3M1197.9,769.4h1.3M1176.4,843.7h1.3M1171.4,859.8h1.3M1205.5,800.0h1.3M1158.8,823.8h1.3M1170.2,842.9h1.3M1096.5,735.5h1.3M1146.0,807.9h1.3M1146.3,824.4h1.3M1146.8,769.2h1.3M1172.8,865.6h1.3M1163.7,806.5h1.3M1151.5,852.6h1.3M1209.3,830.4h1.3M1213.8,846.1h1.3M1197.9,846.8h1.3M1092.9,783.2h1.3M1195.3,854.6h1.3M1175.1,781.5h1.3M1179.6,798.3h1.3M1204.6,824.4h1.3M1171.1,836.5h1.3M1161.8,846.3h1.3M1093.7,742.9h1.3M1141.9,769.1h1.3M1171.9,807.0h1.3M1157.5,850.0h1.3M1155.1,815.9h1.3M1208.7,789.3h1.3M1184.5,804.8h1.3M1168.4,877.2h1.3M1197.6,840.5h1.3M1206.3,868.4h1.3M1180.2,780.3h1.3M1165.4,870.8h1.3M1177.8,851.1h1.3M1167.7,817.3h1.3M1168.3,824.2h1.3M1147.9,810.2h1.3M1197.5,772.9h1.3M1198.3,805.9h1.3M1193.6,818.7h1.3M1187.8,777.7h1.3M1197.7,799.6h1.3M1182.1,840.3h1.3M1152.6,799.4h1.3M1198.7,853.9h1.3M1143.0,841.5h1.3M1143.8,867.4h1.3M1150.7,773.3h1.3M1154.5,803.2h1.3M1145.8,843.5h1.3M1133.1,719.0h1.3M1150.2,851.5h1.3M1186.9,797.4h1.3M1138.5,847.7h1.3M1180.0,852.4h1.3M1144.5,831.3h1.3M1197.9,850.8h1.3M1199.6,805.2h1.3M1111.7,869.7h1.3M1196.2,864.6h1.3M1208.9,847.9h1.3M1093.5,725.9h1.3M1178.7,783.2h1.3M1185.3,795.9h1.3M1133.0,716.9h1.3M1087.2,795.7h1.3M1203.4,834.2h1.3M1195.1,858.3h1.3M1220.0,781.3h1.3M1163.5,825.4h1.3M1165.5,820.5h1.3M1197.9,789.9h1.3M1207.2,792.0h1.3M1205.8,784.3h1.3M1146.6,849.1h1.3M1179.7,846.0h1.3M1210.9,862.1h1.3M1164.9,791.8h1.3M1178.1,842.7h1.3M1090.5,728.4h1.3M1159.6,785.1h1.3M1141.0,873.9h1.3M1222.0,714.9h1.3M1163.2,814.6h1.3M1181.0,785.9h1.3M1154.4,849.4h1.3M1168.1,840.3h1.3M1204.2,787.5h1.3M1187.0,804.0h1.3M1190.7,778.7h1.3M1095.8,749.2h1.3M1104.8,719.0h1.3M1156.6,872.3h1.3M1162.1,826.4h1.3M1154.8,791.3h1.3M1143.2,793.2h1.3M1199.9,798.3h1.3M1194.1,816.8h1.3M1188.2,815.2h1.3M1140.2,804.0h1.3M1142.6,848.4h1.3M1194.5,787.5h1.3M1164.3,844.5h1.3M1168.5,859.4h1.3M1156.6,846.1h1.3M1184.2,868.2h1.3M1193.5,816.1h1.3M1172.3,855.0h1.3M1189.8,838.7h1.3M1172.0,840.0h1.3M1153.8,800.2h1.3M1155.3,823.5h1.3M1205.2,852.2h1.3M1156.9,817.4h1.3M1209.4,772.9h1.3M1184.8,842.1h1.3M1141.4,807.3h1.3M1185.1,788.4h1.3M1165.3,816.9h1.3M1187.5,810.6h1.3M1104.1,865.2h1.3M1182.0,835.3h1.3M1110.2,878.4h1.3M1145.3,860.4h1.3M1172.7,798.4h1.3M1176.4,844.7h1.3M1171.8,856.3h1.3M1181.1,872.6h1.3M1146.5,825.0h1.3M1081.1,827.9h1.3M1191.1,786.2h1.3M1199.4,819.1h1.3M1159.5,832.4h1.3M1094.1,788.1h1.3M1183.9,869.0h1.3M1155.2,843.2h1.3M1180.3,786.0h1.3M1160.6,793.2h1.3M1168.2,790.7h1.3M1217.0,786.2h1.3M1180.1,824.8h1.3M1186.1,792.7h1.3M1087.0,812.0h1.3M1205.0,818.1h1.3M1146.7,867.7h1.3M1096.0,734.2h1.3M1154.4,829.6h1.3M1176.6,796.0h1.3M1167.6,779.3h1.3M1172.0,783.8h1.3M1188.4,867.9h1.3M1205.1,782.7h1.3M1162.6,865.2h1.3M1155.3,834.3h1.3M1151.4,776.6h1.3M1145.0,819.4h1.3M1211.9,838.1h1.3M1163.8,870.5h1.3M1204.3,773.1h1.3M1169.2,830.0h1.3M1161.3,862.2h1.3M1154.5,844.7h1.3M1147.1,788.0h1.3M1167.5,839.7h1.3M1164.3,816.9h1.3M1143.1,769.3h1.3M1173.5,827.6h1.3M1200.5,783.7h1.3M1146.7,826.2h1.3M1202.6,784.9h1.3M1185.6,779.7h1.3M1140.9,718.7h1.3M1141.3,854.3h1.3M1151.4,810.0h1.3M1146.2,774.3h1.3M1139.6,868.2h1.3M1189.5,797.0h1.3M1127.1,718.0h1.3M1201.6,852.8h1.3M1194.2,805.7h1.3M1186.4,816.9h1.3M1140.2,775.9h1.3M1152.9,835.1h1.3M1171.6,796.3h1.3M1162.5,793.9h1.3M1181.4,778.4h1.3M1207.8,779.7h1.3M1217.1,821.6h1.3M1148.0,833.3h1.3M1180.6,832.7h1.3M1199.4,832.9h1.3M1147.4,871.8h1.3M1154.4,787.7h1.3M1176.2,778.6h1.3M1152.6,775.6h1.3M1183.8,842.8h1.3M1221.1,738.0h1.3M1155.1,848.0h1.3M1156.2,835.5h1.3M1144.7,793.6h1.3M1217.6,785.3h1.3M1133.6,853.6h1.3M1210.3,828.7h1.3M1156.7,861.6h1.3M1142.3,842.9h1.3M1146.7,785.3h1.3M1202.2,782.5h1.3M1167.9,802.1h1.3M1198.6,778.0h1.3M1096.5,741.7h1.3M1200.5,813.4h1.3M1173.1,839.1h1.3M1152.2,846.7h1.3M1180.4,798.7h1.3M1161.2,848.5h1.3M1196.9,766.6h1.3M1197.1,802.9h1.3M1197.3,832.7h1.3M1154.5,805.0h1.3M1157.5,813.1h1.3M1147.1,843.8h1.3M1152.0,787.9h1.3M1216.7,775.8h1.3M1175.9,837.3h1.3M1208.0,774.4h1.3M1147.5,771.9h1.3M1164.3,804.2h1.3M1091.0,772.6h1.3M1087.5,744.5h1.3M1145.2,784.3h1.3M1182.7,784.0h1.3M1147.6,789.1h1.3M1194.6,856.2h1.3M1135.2,719.5h1.3M1191.4,801.4h1.3M1156.9,876.3h1.3M1110.6,868.6h1.3M1160.3,797.1h1.3M1172.3,799.7h1.3M1170.4,825.0h1.3M1139.3,773.1h1.3M1151.4,777.9h1.3M1145.0,788.3h1.3M1157.4,839.2h1.3M1139.2,869.6h1.3M1097.0,858.9h1.3M1185.8,819.9h1.3M1143.6,803.2h1.3M1156.7,820.7h1.3M1145.0,831.9h1.3M1213.0,732.4h1.3M1157.9,805.7h1.3M1167.5,849.2h1.3M1192.4,882.2h1.3M1095.4,741.9h1.3M1157.1,793.3h1.3M1172.6,708.6h1.3M1169.0,850.6h1.3M1145.9,777.3h1.3M1169.4,789.6h1.3M1105.8,708.4h1.3M1176.1,793.9h1.3M1090.9,813.7h1.3M1151.5,805.4h1.3M1091.1,770.2h1.3M1149.4,769.5h1.3M1144.0,790.0h1.3M1186.1,833.0h1.3M1153.3,838.9h1.3M1204.7,827.3h1.3M1183.0,801.9h1.3M1155.5,790.0h1.3M1208.2,779.3h1.3M1162.5,819.1h1.3M1200.5,794.8h1.3M1208.2,825.6h1.3M1216.2,734.7h1.3M1151.9,783.3h1.3M1148.3,769.9h1.3M1096.4,722.0h1.3M1155.3,809.2h1.3M1194.5,774.1h1.3M1137.7,850.3h1.3M1174.7,843.1h1.3M1154.5,826.4h1.3M1215.6,805.4h1.3M1159.0,868.2h1.3M1157.6,862.0h1.3M1150.8,855.9h1.3M1147.4,773.2h1.3M1165.7,856.7h1.3M1204.0,768.0h1.3M1084.5,857.9h1.3M1200.3,796.9h1.3M1192.7,845.5h1.3M1200.0,712.1h1.3M1178.2,846.4h1.3M1169.4,873.3h1.3M1145.6,808.1h1.3M1175.9,810.4h1.3M1143.9,776.6h1.3M1142.3,793.3h1.3M1154.4,712.7h1.3M1172.9,782.9h1.3M1146.7,845.3h1.3M1179.8,859.6h1.3M1180.0,868.6h1.3M1128.2,865.6h1.3M1129.6,712.7h1.3M1092.8,733.9h1.3M1216.4,826.2h1.3M1157.1,807.7h1.3M1146.0,810.5h1.3M1185.5,870.0h1.3M1105.9,712.5h1.3M1178.6,859.1h1.3M1204.9,867.2h1.3M1213.9,717.1h1.3M1147.5,718.2h1.3M1162.0,848.0h1.3M1213.7,773.8h1.3M1092.9,816.4h1.3M1179.3,835.0h1.3M1144.6,868.1h1.3M1203.1,776.7h1.3M1146.7,843.1h1.3M1107.8,866.2h1.3M1209.3,849.7h1.3M1186.6,825.6h1.3M1127.1,721.4h1.3M1179.4,813.2h1.3M1188.3,792.6h1.3M1209.9,878.4h1.3M1159.3,813.2h1.3M1183.6,836.8h1.3M1201.9,790.8h1.3M1204.6,801.7h1.3M1149.2,867.5h1.3M1186.4,794.1h1.3M1160.0,778.5h1.3M1206.2,800.8h1.3M1141.8,784.8h1.3M1220.7,796.3h1.3M1181.1,790.3h1.3M1086.4,800.2h1.3M1147.1,854.5h1.3M1212.6,798.6h1.3M1201.0,774.5h1.3M1145.3,825.3h1.3M1139.0,845.8h1.3M1200.4,857.7h1.3M1151.9,796.2h1.3M1145.4,799.2h1.3M1164.2,861.3h1.3M1170.7,794.8h1.3M1173.2,870.3h1.3M1209.0,852.2h1.3M1157.4,841.2h1.3M1142.9,850.4h1.3M1201.6,823.6h1.3M1212.2,734.8h1.3M1178.9,815.3h1.3M1188.5,872.2h1.3M1098.4,867.4h1.3M1183.6,831.4h1.3M1100.2,717.0h1.3M1102.6,874.5h1.3M1178.8,881.9h1.3M1176.6,802.2h1.3M1154.0,860.7h1.3M1089.2,864.4h1.3M1167.6,810.4h1.3M1203.3,810.4h1.3M1167.7,857.0h1.3M1186.6,784.6h1.3M1200.7,708.8h1.3M1156.8,818.9h1.3M1171.5,805.1h1.3M1206.7,777.2h1.3M1094.1,765.9h1.3M1147.6,793.0h1.3M1143.1,871.1h1.3M1212.1,813.2h1.3M1147.7,773.2h1.3M1157.7,814.0h1.3M1193.5,780.4h1.3M1193.9,836.0h1.3M1147.7,824.8h1.3M1162.0,848.8h1.3M1180.7,867.4h1.3M1215.0,798.7h1.3M1167.6,804.4h1.3M1149.3,822.5h1.3M1175.6,781.3h1.3M1183.9,787.9h1.3M1201.6,789.4h1.3M1142.4,777.6h1.3M1190.3,843.9h1.3M1167.3,862.5h1.3M1162.4,825.7h1.3M1091.7,722.5h1.3M1186.9,710.4h1.3M1161.5,802.2h1.3M1211.2,800.5h1.3M1162.1,873.8h1.3M1148.6,856.8h1.3M1170.7,800.0h1.3M1073.6,760.3h1.3M1166.0,818.9h1.3M1151.3,866.7h1.3M1158.9,808.1h1.3M1153.6,776.1h1.3M1168.4,851.0h1.3M1116.7,719.4h1.3M1181.2,782.9h1.3M1144.8,775.7h1.3M1149.7,839.7h1.3M1160.7,794.7h1.3M1150.6,799.4h1.3M1202.1,779.2h1.3M1113.4,721.3h1.3M1171.3,805.5h1.3M1194.1,800.8h1.3M1193.4,867.8h1.3M1127.7,856.3h1.3M1109.8,873.9h1.3M1164.2,778.8h1.3M1196.4,823.0h1.3M1153.0,816.4h1.3M1168.5,831.0h1.3M1208.1,765.9h1.3M1146.8,830.1h1.3M1152.9,804.0h1.3M1144.9,819.2h1.3M1210.8,770.6h1.3M1093.8,744.8h1.3M1200.8,841.1h1.3M1156.4,869.2h1.3M1204.9,783.9h1.3M1163.0,810.2h1.3M1151.7,788.2h1.3M1178.9,787.7h1.3M1087.7,792.9h1.3M1195.9,820.2h1.3M1165.1,849.8h1.3M1200.6,852.6h1.3M1211.2,793.5h1.3M1163.9,803.9h1.3M1160.6,797.8h1.3M1148.0,829.3h1.3M1214.3,811.4h1.3M1165.9,864.2h1.3M1140.8,807.7h1.3M1151.1,862.8h1.3M1182.5,842.8h1.3M1155.0,818.6h1.3M1184.2,867.6h1.3M1082.0,740.0h1.3M1097.3,720.7h1.3M1203.6,780.8h1.3M1203.5,701.7h1.3M1199.8,831.8h1.3M1199.3,807.7h1.3M1175.6,825.7h1.3M1158.7,810.7h1.3M1214.4,821.8h1.3M1152.6,826.4h1.3M1155.3,788.1h1.3M1194.1,782.7h1.3M1205.1,793.6h1.3M1193.3,838.6h1.3M1165.9,871.8h1.3M1215.4,819.3h1.3M1144.6,785.0h1.3M1213.5,788.0h1.3M1154.3,825.4h1.3M1172.6,811.1h1.3M1183.5,785.5h1.3M1167.2,841.0h1.3M1184.2,807.3h1.3M1197.0,775.5h1.3M1162.8,779.5h1.3M1162.6,812.9h1.3M1174.0,839.2h1.3M1190.0,829.5h1.3M1215.4,802.3h1.3M1148.1,873.9h1.3M1161.1,830.4h1.3M1193.3,789.6h1.3M1189.5,871.1h1.3M1186.0,868.8h1.3M1143.0,847.3h1.3M1149.9,850.9h1.3M1174.6,860.6h1.3M1204.6,819.7h1.3M1144.0,867.6h1.3M1141.7,796.3h1.3M1164.0,837.3h1.3M1089.7,768.8h1.3M1148.8,827.1h1.3M1188.9,790.9h1.3M1190.1,814.8h1.3M1141.6,809.6h1.3M1091.9,823.2h1.3M1105.4,864.7h1.3M1188.7,841.6h1.3M1120.0,872.2h1.3M1199.0,806.0h1.3M1201.4,762.4h1.3M1164.4,831.5h1.3M1149.8,823.9h1.3M1143.4,790.9h1.3M1099.4,726.6h1.3M1215.6,768.9h1.3M1124.6,857.9h1.3M1197.1,770.4h1.3M1147.9,815.4h1.3M1206.7,770.5h1.3M1151.5,853.3h1.3M1151.9,848.2h1.3M1163.6,802.3h1.3M1174.6,872.7h1.3M1186.3,844.5h1.3M1173.3,860.4h1.3M1168.8,713.1h1.3M1192.6,827.8h1.3M1159.2,787.8h1.3M1190.7,853.6h1.3M1151.0,837.8h1.3M1181.6,840.3h1.3M1143.3,860.3h1.3M1208.8,870.2h1.3M1143.6,805.7h1.3M1158.1,836.2h1.3M1145.4,839.5h1.3M1208.8,806.6h1.3M1085.1,824.8h1.3M1162.2,808.8h1.3M1187.6,794.6h1.3M1213.1,766.5h1.3M1154.4,790.5h1.3M1153.6,799.3h1.3M1215.5,820.3h1.3M1199.7,765.8h1.3M1199.4,866.4h1.3M1191.7,781.6h1.3M1151.8,799.8h1.3M1171.2,868.3h1.3M1173.2,865.4h1.3M1138.2,851.3h1.3M1163.7,713.6h1.3M1183.7,779.8h1.3M1146.1,793.2h1.3M1206.1,787.1h1.3M1205.6,785.2h1.3M1169.6,851.8h1.3M1168.2,813.6h1.3M1163.9,828.5h1.3M1092.5,820.7h1.3M1119.3,866.9h1.3M1218.0,860.6h1.3M1162.0,855.2h1.3M1154.7,824.1h1.3M1166.3,781.5h1.3M1219.1,813.9h1.3M1160.1,788.5h1.3M1174.4,819.2h1.3M1167.7,779.4h1.3M1202.1,869.8h1.3M1159.5,819.6h1.3M1206.9,835.9h1.3M1157.1,822.7h1.3M1168.7,838.2h1.3M1216.5,723.4h1.3M1145.8,821.3h1.3M1144.2,776.2h1.3M1163.9,829.1h1.3M1212.0,797.1h1.3M1211.4,814.9h1.3M1180.2,802.4h1.3M1214.4,846.2h1.3M1213.6,778.4h1.3M1141.2,794.8h1.3M1145.3,819.4h1.3M1185.9,871.2h1.3M1175.0,872.3h1.3M1190.4,820.3h1.3M1215.9,790.9h1.3M1180.8,796.4h1.3M1161.5,844.8h1.3M1145.7,775.4h1.3M1216.0,797.2h1.3M1145.6,780.1h1.3M1155.2,834.9h1.3M1179.6,782.9h1.3M1142.4,866.0h1.3M1175.1,779.4h1.3M1209.6,742.4h1.3M1183.7,833.8h1.3M1143.1,767.5h1.3M1096.7,858.1h1.3M1112.0,719.2h1.3M1225.2,819.3h1.3M1169.8,864.9h1.3M1139.7,845.3h1.3M1148.7,857.6h1.3M1144.5,867.1h1.3M1206.2,749.4h1.3M1150.5,857.0h1.3M1197.7,772.1h1.3M1195.7,798.3h1.3M1191.5,783.3h1.3M1108.0,712.9h1.3M1190.6,845.7h1.3M1147.7,813.9h1.3M1198.8,804.4h1.3M1176.6,847.2h1.3M1161.6,791.1h1.3M1141.2,787.7h1.3M1162.1,853.4h1.3M1112.6,711.7h1.3M1195.9,871.4h1.3M1218.7,839.7h1.3M1196.8,790.4h1.3M1212.0,814.8h1.3M1164.6,856.5h1.3M1163.0,815.4h1.3M1151.7,797.6h1.3M1191.2,822.5h1.3M1143.9,855.7h1.3M1152.1,834.7h1.3M1214.8,751.7h1.3M1200.3,788.9h1.3M1146.8,823.6h1.3M1156.7,859.6h1.3M1146.7,802.2h1.3M1150.2,870.4h1.3M1217.2,792.9h1.3M1192.3,789.0h1.3M1191.1,873.0h1.3M1160.5,791.5h1.3M1152.8,811.9h1.3M1101.5,865.0h1.3M1140.7,849.1h1.3M1183.5,814.7h1.3M1159.8,864.8h1.3M1198.1,782.8h1.3M1179.7,861.7h1.3M1209.5,823.6h1.3M1154.4,828.8h1.3M1189.9,818.2h1.3M1180.8,703.0h1.3M1212.4,808.2h1.3M1123.4,712.7h1.3M1185.5,848.9h1.3M1171.6,784.7h1.3M1158.9,787.3h1.3M1165.8,851.8h1.3M1190.5,831.3h1.3M1092.3,732.1h1.3M1168.6,818.2h1.3M1157.9,856.7h1.3M1178.4,800.9h1.3M1166.1,828.4h1.3M1207.8,771.9h1.3M1123.6,860.0h1.3M1170.1,792.7h1.3M1200.9,758.7h1.3M1147.1,799.2h1.3M1087.6,787.6h1.3M1215.1,859.0h1.3M1161.5,811.9h1.3M1148.2,777.3h1.3M1164.3,823.9h1.3M1140.8,808.3h1.3M1147.7,835.3h1.3M1175.1,785.6h1.3M1194.5,807.8h1.3M1202.0,790.6h1.3M1207.3,766.6h1.3M1155.0,835.1h1.3M1167.9,793.4h1.3M1160.4,836.3h1.3M1214.4,816.0h1.3M1218.1,782.1h1.3M1148.9,792.6h1.3M1181.9,788.0h1.3M1210.1,779.1h1.3M1141.8,874.3h1.3M1163.7,779.6h1.3M1159.7,876.8h1.3M1159.5,854.3h1.3M1178.0,791.1h1.3M1090.9,784.6h1.3M1106.3,880.2h1.3M1147.4,786.4h1.3M1200.1,809.5h1.3M1152.1,772.9h1.3M1149.6,798.5h1.3M1170.4,801.7h1.3M1150.2,777.3h1.3M1168.0,781.3h1.3M1165.8,787.8h1.3M1143.5,867.7h1.3M1149.4,783.5h1.3M1202.6,812.8h1.3M1157.0,848.4h1.3M1143.8,803.1h1.3M1203.0,809.7h1.3M1189.7,793.7h1.3M1147.9,769.4h1.3M1188.6,805.2h1.3M1217.1,870.3h1.3M1154.6,805.9h1.3M1120.4,713.8h1.3M1215.5,782.5h1.3M1086.6,823.6h1.3M1157.4,801.3h1.3M1145.9,852.7h1.3M1152.3,830.4h1.3M1215.2,840.7h1.3M1215.3,871.1h1.3M1173.4,814.7h1.3M1152.3,850.9h1.3M1200.5,797.1h1.3M1143.2,857.7h1.3M1206.6,711.0h1.3M1186.4,831.5h1.3M1172.1,824.9h1.3M1142.4,864.9h1.3M1107.2,866.4h1.3M1141.8,796.5h1.3M1227.9,858.0h1.3M1209.8,822.8h1.3M1181.8,840.8h1.3M1153.0,828.8h1.3M1128.8,860.0h1.3M1183.6,828.0h1.3M1184.0,789.9h1.3M1186.5,868.1h1.3M1203.9,841.2h1.3M1180.2,703.5h1.3M1202.7,803.5h1.3M1174.2,713.2h1.3M1203.6,768.9h1.3M1203.1,831.9h1.3M1202.3,779.4h1.3M1153.4,831.4h1.3M1214.7,863.9h1.3M1147.3,842.4h1.3M1214.8,836.5h1.3M1192.1,857.8h1.3M1196.0,823.7h1.3M1155.0,871.4h1.3M1192.4,853.6h1.3M1153.9,837.4h1.3M1099.2,864.7h1.3M1170.4,831.5h1.3M1176.7,821.1h1.3M1178.0,805.9h1.3M1203.7,819.1h1.3M1153.0,828.8h1.3M1142.2,714.3h1.3M1153.7,779.3h1.3" stroke="#8a8a8a" stroke-width="1.3" fill="none"/>
<text x="642.8" y="629.5" text-anchor="middle">Control IgG2a</text>
<text x="894.4" y="604.7" text-anchor="middle">Anti-TIGIT IgG2a</text>
<text x="893.6" y="629.4" text-anchor="middle">+ anti-PD-L1</text>
<text x="1157.6" y="605.0" text-anchor="middle">Anti-TIGIT IgG2a</text>
<text x="1160.8" y="629.8" text-anchor="middle">+ anti-PD-L1 + anti-CSF-1R</text>
<text x="493.0" y="842.8" text-anchor="middle" transform="rotate(-90 493.0 842.8)">TOX APC</text>
<line x1="487.0" y1="786.0" x2="487.0" y2="649.4" stroke="#000" stroke-width="2.2"/>
<path d="M487.0,641.6 L481.5,654.6 L487.0,651.0 L492.5,654.6 Z" fill="#000"/>
<text x="527.5" y="926.0">gp70 tetramer PE</text>
<line x1="708.6" y1="918.0" x2="866.6" y2="918.0" stroke="#000" stroke-width="2.2"/>
<path d="M874.4,918.0 L861.4,912.5 L865.0,918.0 L861.4,923.5 Z" fill="#000"/>
</svg></body></html>
